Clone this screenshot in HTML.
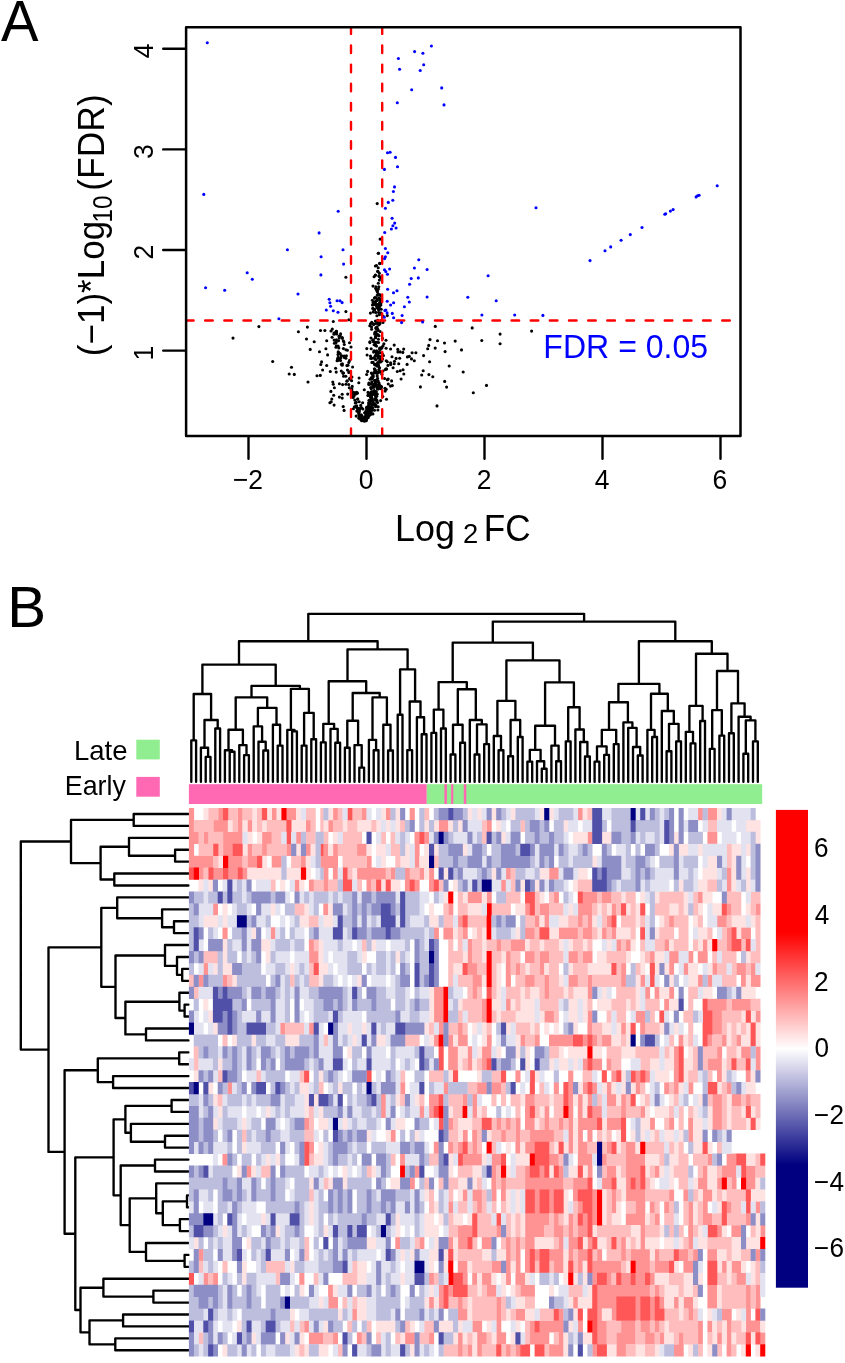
<!DOCTYPE html><html><head><meta charset="utf-8"><style>html,body{margin:0;padding:0;background:#fff;width:845px;height:1363px;overflow:hidden}svg{display:block;filter:blur(0.4px)}</style></head><body><svg width="845" height="1363" viewBox="0 0 845 1363" font-family='"Liberation Sans", sans-serif'><text transform="translate(0.99 40.90) scale(0.9699 1)" font-size="58" fill="#000">A</text><line x1="163.2" y1="350.6" x2="185.1" y2="350.6" stroke="#000" stroke-width="2.4" stroke-linecap="round"/><text transform="translate(153.10 360.53) rotate(-90) scale(0.9700 1)" font-size="27.3" fill="#000">1</text><line x1="163.2" y1="250.0" x2="185.1" y2="250.0" stroke="#000" stroke-width="2.4" stroke-linecap="round"/><text transform="translate(153.10 259.56) rotate(-90) scale(0.9700 1)" font-size="27.3" fill="#000">2</text><line x1="163.2" y1="149.4" x2="185.1" y2="149.4" stroke="#000" stroke-width="2.4" stroke-linecap="round"/><text transform="translate(153.10 158.89) rotate(-90) scale(0.9700 1)" font-size="27.3" fill="#000">3</text><line x1="163.2" y1="48.8" x2="185.1" y2="48.8" stroke="#000" stroke-width="2.4" stroke-linecap="round"/><text transform="translate(153.10 58.28) rotate(-90) scale(0.9700 1)" font-size="27.3" fill="#000">4</text><line x1="248.5" y1="437.1" x2="248.5" y2="458.8" stroke="#000" stroke-width="2.4" stroke-linecap="round"/><text transform="translate(232.92 488.90) scale(0.9700 1)" font-size="27.3" fill="#000">−2</text><line x1="366.5" y1="437.1" x2="366.5" y2="458.8" stroke="#000" stroke-width="2.4" stroke-linecap="round"/><text transform="translate(358.64 488.90) scale(0.9700 1)" font-size="27.3" fill="#000">0</text><line x1="484.5" y1="437.1" x2="484.5" y2="458.8" stroke="#000" stroke-width="2.4" stroke-linecap="round"/><text transform="translate(476.64 488.90) scale(0.9700 1)" font-size="27.3" fill="#000">2</text><line x1="602.5" y1="437.1" x2="602.5" y2="458.8" stroke="#000" stroke-width="2.4" stroke-linecap="round"/><text transform="translate(594.72 488.90) scale(0.9700 1)" font-size="27.3" fill="#000">4</text><line x1="720.5" y1="437.1" x2="720.5" y2="458.8" stroke="#000" stroke-width="2.4" stroke-linecap="round"/><text transform="translate(712.55 488.90) scale(0.9700 1)" font-size="27.3" fill="#000">6</text><text transform="translate(395.06 540.80) scale(0.9696 1)" font-size="37" fill="#000">Log</text><text transform="translate(463.12 542.70) scale(1.0162 1)" font-size="27" fill="#000">2</text><text transform="translate(483.82 540.80) scale(0.9493 1)" font-size="37" fill="#000">FC</text><text transform="translate(104.40 356.17) rotate(-90) scale(0.9466 1)" font-size="37" fill="#000">(−1)*Log</text><text transform="translate(111.70 222.55) rotate(-90) scale(0.8989 1)" font-size="27" fill="#000">10</text><text transform="translate(104.40 190.70) rotate(-90) scale(0.9574 1)" font-size="37" fill="#000">(FDR)</text><g fill="#000"><circle cx="377.2" cy="203.6" r="1.55"/><circle cx="380.1" cy="239.1" r="1.55"/><circle cx="378.3" cy="253.3" r="1.55"/><circle cx="379.8" cy="263.6" r="1.55"/><circle cx="377.8" cy="271.4" r="1.55"/><circle cx="375.4" cy="275.1" r="1.55"/><circle cx="378.9" cy="275.7" r="1.55"/><circle cx="378.3" cy="283.2" r="1.55"/><circle cx="376.0" cy="288.2" r="1.55"/><circle cx="377.2" cy="291.1" r="1.55"/><circle cx="378.5" cy="253.3" r="1.55"/><circle cx="379.7" cy="263.2" r="1.55"/><circle cx="377.8" cy="271.2" r="1.55"/><circle cx="375.3" cy="275.2" r="1.55"/><circle cx="379.2" cy="276.4" r="1.55"/><circle cx="375.9" cy="286.9" r="1.55"/><circle cx="375.9" cy="288.8" r="1.55"/><circle cx="377.3" cy="291.6" r="1.55"/><circle cx="380.0" cy="294.7" r="1.55"/><circle cx="375.0" cy="297.6" r="1.55"/><circle cx="377.3" cy="299.6" r="1.55"/><circle cx="373.1" cy="302.5" r="1.55"/><circle cx="375.4" cy="303.0" r="1.55"/><circle cx="378.3" cy="304.4" r="1.55"/><circle cx="379.2" cy="306.7" r="1.55"/><circle cx="373.1" cy="308.9" r="1.55"/><circle cx="345.9" cy="277.2" r="1.55"/><circle cx="345.9" cy="311.6" r="1.55"/><circle cx="348.8" cy="319.7" r="1.55"/><circle cx="333.3" cy="321.5" r="1.55"/><circle cx="258.9" cy="326.6" r="1.55"/><circle cx="307.4" cy="327.1" r="1.55"/><circle cx="298.4" cy="331.8" r="1.55"/><circle cx="336.2" cy="331.4" r="1.55"/><circle cx="233.0" cy="338.1" r="1.55"/><circle cx="306.5" cy="339.0" r="1.55"/><circle cx="314.2" cy="341.7" r="1.55"/><circle cx="349.5" cy="342.8" r="1.55"/><circle cx="272.7" cy="361.5" r="1.55"/><circle cx="291.5" cy="367.2" r="1.55"/><circle cx="289.2" cy="374.0" r="1.55"/><circle cx="294.3" cy="374.4" r="1.55"/><circle cx="310.2" cy="349.4" r="1.55"/><circle cx="319.5" cy="351.7" r="1.55"/><circle cx="327.6" cy="354.9" r="1.55"/><circle cx="320.8" cy="364.5" r="1.55"/><circle cx="326.7" cy="365.5" r="1.55"/><circle cx="317.0" cy="375.7" r="1.55"/><circle cx="308.0" cy="382.0" r="1.55"/><circle cx="330.3" cy="371.5" r="1.55"/><circle cx="335.6" cy="368.3" r="1.55"/><circle cx="336.2" cy="372.1" r="1.55"/><circle cx="337.5" cy="358.9" r="1.55"/><circle cx="336.5" cy="331.4" r="1.55"/><circle cx="332.8" cy="382.0" r="1.55"/><circle cx="333.3" cy="384.2" r="1.55"/><circle cx="339.4" cy="383.8" r="1.55"/><circle cx="330.9" cy="391.4" r="1.55"/><circle cx="333.7" cy="395.2" r="1.55"/><circle cx="331.8" cy="399.0" r="1.55"/><circle cx="329.9" cy="402.8" r="1.55"/><circle cx="334.1" cy="405.1" r="1.55"/><circle cx="339.4" cy="397.1" r="1.55"/><circle cx="342.2" cy="394.3" r="1.55"/><circle cx="342.2" cy="398.1" r="1.55"/><circle cx="343.2" cy="406.6" r="1.55"/><circle cx="344.1" cy="410.4" r="1.55"/><circle cx="435.3" cy="326.4" r="1.55"/><circle cx="472.2" cy="327.9" r="1.55"/><circle cx="531.6" cy="331.1" r="1.55"/><circle cx="500.1" cy="334.1" r="1.55"/><circle cx="481.8" cy="340.5" r="1.55"/><circle cx="500.1" cy="343.7" r="1.55"/><circle cx="430.0" cy="339.6" r="1.55"/><circle cx="437.5" cy="340.7" r="1.55"/><circle cx="444.5" cy="343.0" r="1.55"/><circle cx="455.2" cy="341.1" r="1.55"/><circle cx="445.1" cy="351.6" r="1.55"/><circle cx="461.5" cy="349.9" r="1.55"/><circle cx="423.6" cy="355.6" r="1.55"/><circle cx="429.6" cy="361.8" r="1.55"/><circle cx="449.2" cy="366.0" r="1.55"/><circle cx="423.2" cy="370.7" r="1.55"/><circle cx="421.7" cy="375.0" r="1.55"/><circle cx="428.9" cy="374.6" r="1.55"/><circle cx="432.8" cy="376.7" r="1.55"/><circle cx="463.2" cy="372.0" r="1.55"/><circle cx="444.7" cy="381.4" r="1.55"/><circle cx="446.6" cy="387.1" r="1.55"/><circle cx="420.4" cy="386.9" r="1.55"/><circle cx="486.5" cy="385.4" r="1.55"/><circle cx="473.3" cy="392.7" r="1.55"/><circle cx="437.0" cy="405.9" r="1.55"/><circle cx="375.8" cy="351.8" r="1.55"/><circle cx="372.5" cy="304.9" r="1.55"/><circle cx="377.2" cy="335.2" r="1.55"/><circle cx="374.7" cy="372.9" r="1.55"/><circle cx="373.7" cy="304.8" r="1.55"/><circle cx="364.6" cy="412.8" r="1.55"/><circle cx="375.3" cy="372.5" r="1.55"/><circle cx="380.8" cy="358.6" r="1.55"/><circle cx="365.0" cy="420.4" r="1.55"/><circle cx="378.8" cy="308.9" r="1.55"/><circle cx="380.1" cy="331.5" r="1.55"/><circle cx="371.9" cy="410.4" r="1.55"/><circle cx="376.3" cy="352.6" r="1.55"/><circle cx="376.9" cy="315.8" r="1.55"/><circle cx="372.8" cy="403.3" r="1.55"/><circle cx="387.3" cy="315.6" r="1.55"/><circle cx="376.7" cy="394.5" r="1.55"/><circle cx="375.1" cy="344.1" r="1.55"/><circle cx="374.7" cy="403.8" r="1.55"/><circle cx="375.6" cy="301.2" r="1.55"/><circle cx="375.7" cy="312.4" r="1.55"/><circle cx="371.9" cy="407.8" r="1.55"/><circle cx="370.7" cy="409.7" r="1.55"/><circle cx="377.4" cy="354.6" r="1.55"/><circle cx="364.0" cy="420.9" r="1.55"/><circle cx="371.0" cy="392.1" r="1.55"/><circle cx="373.3" cy="323.7" r="1.55"/><circle cx="375.7" cy="370.9" r="1.55"/><circle cx="386.0" cy="340.3" r="1.55"/><circle cx="366.3" cy="419.9" r="1.55"/><circle cx="376.8" cy="333.8" r="1.55"/><circle cx="375.9" cy="328.2" r="1.55"/><circle cx="373.9" cy="385.4" r="1.55"/><circle cx="365.5" cy="418.3" r="1.55"/><circle cx="371.9" cy="406.3" r="1.55"/><circle cx="375.8" cy="332.9" r="1.55"/><circle cx="379.0" cy="306.9" r="1.55"/><circle cx="373.1" cy="386.8" r="1.55"/><circle cx="375.9" cy="365.2" r="1.55"/><circle cx="374.6" cy="334.0" r="1.55"/><circle cx="377.2" cy="326.8" r="1.55"/><circle cx="376.4" cy="304.4" r="1.55"/><circle cx="365.7" cy="414.7" r="1.55"/><circle cx="379.7" cy="308.7" r="1.55"/><circle cx="377.8" cy="388.6" r="1.55"/><circle cx="371.8" cy="391.8" r="1.55"/><circle cx="374.3" cy="391.3" r="1.55"/><circle cx="370.0" cy="409.4" r="1.55"/><circle cx="378.5" cy="342.5" r="1.55"/><circle cx="365.6" cy="418.2" r="1.55"/><circle cx="374.5" cy="298.1" r="1.55"/><circle cx="371.4" cy="400.3" r="1.55"/><circle cx="378.0" cy="355.8" r="1.55"/><circle cx="371.0" cy="378.5" r="1.55"/><circle cx="366.2" cy="417.6" r="1.55"/><circle cx="374.9" cy="369.3" r="1.55"/><circle cx="380.9" cy="320.7" r="1.55"/><circle cx="379.9" cy="303.8" r="1.55"/><circle cx="376.6" cy="350.8" r="1.55"/><circle cx="373.1" cy="376.9" r="1.55"/><circle cx="370.2" cy="409.4" r="1.55"/><circle cx="372.4" cy="374.5" r="1.55"/><circle cx="381.2" cy="296.1" r="1.55"/><circle cx="366.7" cy="374.5" r="1.55"/><circle cx="374.8" cy="370.0" r="1.55"/><circle cx="369.7" cy="394.3" r="1.55"/><circle cx="376.9" cy="380.8" r="1.55"/><circle cx="379.0" cy="297.8" r="1.55"/><circle cx="374.9" cy="302.2" r="1.55"/><circle cx="371.3" cy="388.7" r="1.55"/><circle cx="366.5" cy="414.9" r="1.55"/><circle cx="383.3" cy="316.4" r="1.55"/><circle cx="375.6" cy="386.0" r="1.55"/><circle cx="369.9" cy="341.7" r="1.55"/><circle cx="376.5" cy="346.1" r="1.55"/><circle cx="372.7" cy="340.3" r="1.55"/><circle cx="367.9" cy="395.4" r="1.55"/><circle cx="376.9" cy="342.3" r="1.55"/><circle cx="377.3" cy="394.0" r="1.55"/><circle cx="374.2" cy="357.6" r="1.55"/><circle cx="363.7" cy="420.5" r="1.55"/><circle cx="375.4" cy="345.0" r="1.55"/><circle cx="377.3" cy="373.3" r="1.55"/><circle cx="371.5" cy="326.8" r="1.55"/><circle cx="370.7" cy="387.6" r="1.55"/><circle cx="371.7" cy="322.2" r="1.55"/><circle cx="378.0" cy="387.3" r="1.55"/><circle cx="369.9" cy="342.6" r="1.55"/><circle cx="379.9" cy="299.7" r="1.55"/><circle cx="374.5" cy="364.6" r="1.55"/><circle cx="372.6" cy="407.7" r="1.55"/><circle cx="367.6" cy="371.4" r="1.55"/><circle cx="375.1" cy="342.2" r="1.55"/><circle cx="366.6" cy="407.2" r="1.55"/><circle cx="371.6" cy="329.3" r="1.55"/><circle cx="372.0" cy="378.6" r="1.55"/><circle cx="377.0" cy="351.7" r="1.55"/><circle cx="371.0" cy="338.0" r="1.55"/><circle cx="365.9" cy="419.6" r="1.55"/><circle cx="379.7" cy="348.0" r="1.55"/><circle cx="370.2" cy="402.3" r="1.55"/><circle cx="363.5" cy="418.6" r="1.55"/><circle cx="375.4" cy="372.2" r="1.55"/><circle cx="369.3" cy="410.9" r="1.55"/><circle cx="374.6" cy="391.2" r="1.55"/><circle cx="366.2" cy="419.1" r="1.55"/><circle cx="371.3" cy="373.0" r="1.55"/><circle cx="379.6" cy="356.3" r="1.55"/><circle cx="372.0" cy="400.2" r="1.55"/><circle cx="374.5" cy="380.6" r="1.55"/><circle cx="371.6" cy="395.7" r="1.55"/><circle cx="377.6" cy="321.8" r="1.55"/><circle cx="379.2" cy="384.5" r="1.55"/><circle cx="367.7" cy="414.4" r="1.55"/><circle cx="373.2" cy="362.4" r="1.55"/><circle cx="379.7" cy="302.5" r="1.55"/><circle cx="370.5" cy="323.7" r="1.55"/><circle cx="379.6" cy="349.1" r="1.55"/><circle cx="377.3" cy="385.0" r="1.55"/><circle cx="380.0" cy="359.9" r="1.55"/><circle cx="380.3" cy="302.6" r="1.55"/><circle cx="373.2" cy="387.2" r="1.55"/><circle cx="378.6" cy="312.4" r="1.55"/><circle cx="376.0" cy="359.7" r="1.55"/><circle cx="379.5" cy="352.9" r="1.55"/><circle cx="380.9" cy="312.7" r="1.55"/><circle cx="372.0" cy="384.2" r="1.55"/><circle cx="374.1" cy="394.2" r="1.55"/><circle cx="372.4" cy="300.3" r="1.55"/><circle cx="381.2" cy="309.3" r="1.55"/><circle cx="375.4" cy="355.6" r="1.55"/><circle cx="386.1" cy="368.9" r="1.55"/><circle cx="370.1" cy="379.3" r="1.55"/><circle cx="385.3" cy="369.5" r="1.55"/><circle cx="371.5" cy="394.8" r="1.55"/><circle cx="376.4" cy="352.0" r="1.55"/><circle cx="373.2" cy="375.8" r="1.55"/><circle cx="383.0" cy="322.4" r="1.55"/><circle cx="363.6" cy="420.4" r="1.55"/><circle cx="376.5" cy="306.0" r="1.55"/><circle cx="376.6" cy="329.1" r="1.55"/><circle cx="371.1" cy="408.9" r="1.55"/><circle cx="376.1" cy="297.7" r="1.55"/><circle cx="380.2" cy="371.8" r="1.55"/><circle cx="371.2" cy="348.8" r="1.55"/><circle cx="366.1" cy="412.3" r="1.55"/><circle cx="375.0" cy="332.2" r="1.55"/><circle cx="378.0" cy="389.0" r="1.55"/><circle cx="369.9" cy="393.6" r="1.55"/><circle cx="373.5" cy="386.0" r="1.55"/><circle cx="375.6" cy="334.5" r="1.55"/><circle cx="371.9" cy="398.6" r="1.55"/><circle cx="381.9" cy="374.2" r="1.55"/><circle cx="371.9" cy="362.4" r="1.55"/><circle cx="365.0" cy="420.4" r="1.55"/><circle cx="372.1" cy="358.3" r="1.55"/><circle cx="373.4" cy="339.8" r="1.55"/><circle cx="374.7" cy="309.6" r="1.55"/><circle cx="368.9" cy="383.0" r="1.55"/><circle cx="374.0" cy="404.6" r="1.55"/><circle cx="373.8" cy="393.7" r="1.55"/><circle cx="375.4" cy="321.0" r="1.55"/><circle cx="373.5" cy="341.7" r="1.55"/><circle cx="377.8" cy="329.3" r="1.55"/><circle cx="378.6" cy="309.8" r="1.55"/><circle cx="379.3" cy="361.9" r="1.55"/><circle cx="374.4" cy="368.7" r="1.55"/><circle cx="378.0" cy="356.9" r="1.55"/><circle cx="379.1" cy="324.7" r="1.55"/><circle cx="377.8" cy="323.5" r="1.55"/><circle cx="376.1" cy="327.6" r="1.55"/><circle cx="375.6" cy="337.7" r="1.55"/><circle cx="380.9" cy="299.3" r="1.55"/><circle cx="365.6" cy="418.1" r="1.55"/><circle cx="377.7" cy="320.2" r="1.55"/><circle cx="380.5" cy="303.4" r="1.55"/><circle cx="378.4" cy="339.2" r="1.55"/><circle cx="378.4" cy="308.7" r="1.55"/><circle cx="367.6" cy="409.4" r="1.55"/><circle cx="368.3" cy="408.2" r="1.55"/><circle cx="377.9" cy="351.9" r="1.55"/><circle cx="374.9" cy="383.8" r="1.55"/><circle cx="368.5" cy="416.3" r="1.55"/><circle cx="378.2" cy="334.9" r="1.55"/><circle cx="379.4" cy="314.7" r="1.55"/><circle cx="376.2" cy="391.6" r="1.55"/><circle cx="367.1" cy="355.0" r="1.55"/><circle cx="374.9" cy="384.4" r="1.55"/><circle cx="365.6" cy="417.6" r="1.55"/><circle cx="374.1" cy="350.7" r="1.55"/><circle cx="379.6" cy="367.7" r="1.55"/><circle cx="373.6" cy="352.1" r="1.55"/><circle cx="370.5" cy="397.4" r="1.55"/><circle cx="375.5" cy="333.7" r="1.55"/><circle cx="377.4" cy="366.2" r="1.55"/><circle cx="376.3" cy="384.8" r="1.55"/><circle cx="379.0" cy="335.7" r="1.55"/><circle cx="381.6" cy="347.3" r="1.55"/><circle cx="366.5" cy="415.2" r="1.55"/><circle cx="367.5" cy="411.7" r="1.55"/><circle cx="376.6" cy="355.8" r="1.55"/><circle cx="383.0" cy="371.0" r="1.55"/><circle cx="374.1" cy="390.5" r="1.55"/><circle cx="375.5" cy="337.4" r="1.55"/><circle cx="368.1" cy="417.8" r="1.55"/><circle cx="383.9" cy="343.7" r="1.55"/><circle cx="376.7" cy="401.8" r="1.55"/><circle cx="383.0" cy="345.9" r="1.55"/><circle cx="380.0" cy="323.4" r="1.55"/><circle cx="377.9" cy="386.8" r="1.55"/><circle cx="370.1" cy="400.5" r="1.55"/><circle cx="378.2" cy="387.5" r="1.55"/><circle cx="379.0" cy="383.0" r="1.55"/><circle cx="381.6" cy="348.3" r="1.55"/><circle cx="369.8" cy="325.8" r="1.55"/><circle cx="378.6" cy="366.1" r="1.55"/><circle cx="370.5" cy="356.0" r="1.55"/><circle cx="371.8" cy="381.8" r="1.55"/><circle cx="368.4" cy="414.2" r="1.55"/><circle cx="365.6" cy="418.8" r="1.55"/><circle cx="370.4" cy="313.1" r="1.55"/><circle cx="364.8" cy="421.0" r="1.55"/><circle cx="379.2" cy="372.3" r="1.55"/><circle cx="371.5" cy="377.6" r="1.55"/><circle cx="376.9" cy="372.9" r="1.55"/><circle cx="370.3" cy="408.4" r="1.55"/><circle cx="368.8" cy="384.4" r="1.55"/><circle cx="372.2" cy="409.1" r="1.55"/><circle cx="372.0" cy="398.5" r="1.55"/><circle cx="374.8" cy="394.7" r="1.55"/><circle cx="371.2" cy="400.5" r="1.55"/><circle cx="376.9" cy="307.7" r="1.55"/><circle cx="379.3" cy="385.1" r="1.55"/><circle cx="374.1" cy="344.7" r="1.55"/><circle cx="377.0" cy="372.1" r="1.55"/><circle cx="375.6" cy="345.4" r="1.55"/><circle cx="370.9" cy="394.3" r="1.55"/><circle cx="366.6" cy="408.0" r="1.55"/><circle cx="372.9" cy="404.2" r="1.55"/><circle cx="366.8" cy="415.8" r="1.55"/><circle cx="378.2" cy="381.1" r="1.55"/><circle cx="373.1" cy="391.9" r="1.55"/><circle cx="373.9" cy="372.6" r="1.55"/><circle cx="382.4" cy="338.4" r="1.55"/><circle cx="370.0" cy="408.0" r="1.55"/><circle cx="380.6" cy="305.2" r="1.55"/><circle cx="366.8" cy="348.6" r="1.55"/><circle cx="366.2" cy="420.8" r="1.55"/><circle cx="366.3" cy="417.2" r="1.55"/><circle cx="364.0" cy="418.4" r="1.55"/><circle cx="380.5" cy="362.0" r="1.55"/><circle cx="373.9" cy="387.3" r="1.55"/><circle cx="370.6" cy="414.5" r="1.55"/><circle cx="378.9" cy="369.6" r="1.55"/><circle cx="378.7" cy="306.0" r="1.55"/><circle cx="366.1" cy="418.0" r="1.55"/><circle cx="377.3" cy="381.6" r="1.55"/><circle cx="375.7" cy="380.3" r="1.55"/><circle cx="374.3" cy="392.6" r="1.55"/><circle cx="377.2" cy="300.4" r="1.55"/><circle cx="368.1" cy="406.4" r="1.55"/><circle cx="375.5" cy="364.3" r="1.55"/><circle cx="366.5" cy="415.3" r="1.55"/><circle cx="377.5" cy="362.9" r="1.55"/><circle cx="372.8" cy="308.2" r="1.55"/><circle cx="368.6" cy="402.8" r="1.55"/><circle cx="363.2" cy="420.2" r="1.55"/><circle cx="374.9" cy="358.9" r="1.55"/><circle cx="370.3" cy="384.1" r="1.55"/><circle cx="374.0" cy="309.4" r="1.55"/><circle cx="368.0" cy="392.4" r="1.55"/><circle cx="373.2" cy="401.7" r="1.55"/><circle cx="367.6" cy="412.6" r="1.55"/><circle cx="378.0" cy="330.5" r="1.55"/><circle cx="375.8" cy="323.5" r="1.55"/><circle cx="367.6" cy="415.5" r="1.55"/><circle cx="374.6" cy="399.5" r="1.55"/><circle cx="378.1" cy="358.1" r="1.55"/><circle cx="376.0" cy="399.4" r="1.55"/><circle cx="366.6" cy="418.2" r="1.55"/><circle cx="370.6" cy="404.3" r="1.55"/><circle cx="369.0" cy="414.1" r="1.55"/><circle cx="372.3" cy="378.7" r="1.55"/><circle cx="381.8" cy="361.0" r="1.55"/><circle cx="373.2" cy="312.0" r="1.55"/><circle cx="370.7" cy="358.4" r="1.55"/><circle cx="377.2" cy="375.9" r="1.55"/><circle cx="373.6" cy="303.0" r="1.55"/><circle cx="375.5" cy="336.9" r="1.55"/><circle cx="373.7" cy="324.6" r="1.55"/><circle cx="375.4" cy="383.4" r="1.55"/><circle cx="370.6" cy="407.4" r="1.55"/><circle cx="371.5" cy="397.5" r="1.55"/><circle cx="364.9" cy="417.0" r="1.55"/><circle cx="375.6" cy="331.7" r="1.55"/><circle cx="365.6" cy="418.0" r="1.55"/><circle cx="366.0" cy="411.2" r="1.55"/><circle cx="380.8" cy="303.9" r="1.55"/><circle cx="376.6" cy="353.3" r="1.55"/><circle cx="378.0" cy="385.9" r="1.55"/><circle cx="379.4" cy="273.2" r="1.55"/><circle cx="377.2" cy="290.1" r="1.55"/><circle cx="378.8" cy="286.7" r="1.55"/><circle cx="378.2" cy="267.8" r="1.55"/><circle cx="373.0" cy="286.1" r="1.55"/><circle cx="378.4" cy="289.0" r="1.55"/><circle cx="375.4" cy="266.0" r="1.55"/><circle cx="380.6" cy="277.7" r="1.55"/><circle cx="374.1" cy="276.8" r="1.55"/><circle cx="378.1" cy="293.8" r="1.55"/><circle cx="379.4" cy="280.1" r="1.55"/><circle cx="376.5" cy="265.5" r="1.55"/><circle cx="376.5" cy="289.7" r="1.55"/><circle cx="377.3" cy="295.3" r="1.55"/><circle cx="361.1" cy="419.7" r="1.55"/><circle cx="336.1" cy="342.4" r="1.55"/><circle cx="353.3" cy="392.4" r="1.55"/><circle cx="360.3" cy="408.6" r="1.55"/><circle cx="343.6" cy="376.2" r="1.55"/><circle cx="360.7" cy="405.4" r="1.55"/><circle cx="354.0" cy="396.1" r="1.55"/><circle cx="351.0" cy="347.0" r="1.55"/><circle cx="336.3" cy="345.9" r="1.55"/><circle cx="358.6" cy="412.9" r="1.55"/><circle cx="338.8" cy="347.9" r="1.55"/><circle cx="359.3" cy="411.0" r="1.55"/><circle cx="360.3" cy="415.9" r="1.55"/><circle cx="353.4" cy="408.7" r="1.55"/><circle cx="338.3" cy="351.7" r="1.55"/><circle cx="344.3" cy="344.5" r="1.55"/><circle cx="347.5" cy="370.1" r="1.55"/><circle cx="361.7" cy="420.7" r="1.55"/><circle cx="346.9" cy="381.2" r="1.55"/><circle cx="351.4" cy="392.7" r="1.55"/><circle cx="357.7" cy="399.1" r="1.55"/><circle cx="353.5" cy="393.3" r="1.55"/><circle cx="348.7" cy="384.6" r="1.55"/><circle cx="331.0" cy="331.0" r="1.55"/><circle cx="345.9" cy="349.7" r="1.55"/><circle cx="342.2" cy="365.2" r="1.55"/><circle cx="349.6" cy="378.7" r="1.55"/><circle cx="343.4" cy="373.1" r="1.55"/><circle cx="341.5" cy="364.2" r="1.55"/><circle cx="361.4" cy="417.2" r="1.55"/><circle cx="360.0" cy="416.6" r="1.55"/><circle cx="346.4" cy="355.8" r="1.55"/><circle cx="340.5" cy="360.6" r="1.55"/><circle cx="362.6" cy="402.7" r="1.55"/><circle cx="349.6" cy="360.4" r="1.55"/><circle cx="348.0" cy="365.2" r="1.55"/><circle cx="340.6" cy="333.9" r="1.55"/><circle cx="336.0" cy="347.2" r="1.55"/><circle cx="340.8" cy="358.0" r="1.55"/><circle cx="347.2" cy="380.7" r="1.55"/><circle cx="338.5" cy="340.8" r="1.55"/><circle cx="359.1" cy="378.0" r="1.55"/><circle cx="356.4" cy="392.3" r="1.55"/><circle cx="359.0" cy="410.4" r="1.55"/><circle cx="352.6" cy="367.0" r="1.55"/><circle cx="341.3" cy="371.0" r="1.55"/><circle cx="357.3" cy="392.9" r="1.55"/><circle cx="351.9" cy="377.1" r="1.55"/><circle cx="337.8" cy="360.5" r="1.55"/><circle cx="361.7" cy="407.7" r="1.55"/><circle cx="354.8" cy="400.1" r="1.55"/><circle cx="343.3" cy="340.7" r="1.55"/><circle cx="356.8" cy="411.1" r="1.55"/><circle cx="354.4" cy="406.8" r="1.55"/><circle cx="359.2" cy="418.1" r="1.55"/><circle cx="335.3" cy="342.7" r="1.55"/><circle cx="339.6" cy="359.1" r="1.55"/><circle cx="350.7" cy="379.5" r="1.55"/><circle cx="336.4" cy="339.8" r="1.55"/><circle cx="349.8" cy="371.9" r="1.55"/><circle cx="335.8" cy="332.8" r="1.55"/><circle cx="361.1" cy="414.8" r="1.55"/><circle cx="345.8" cy="376.2" r="1.55"/><circle cx="357.8" cy="409.4" r="1.55"/><circle cx="343.3" cy="373.0" r="1.55"/><circle cx="338.3" cy="359.0" r="1.55"/><circle cx="359.0" cy="418.2" r="1.55"/><circle cx="336.5" cy="333.9" r="1.55"/><circle cx="357.7" cy="399.0" r="1.55"/><circle cx="332.1" cy="337.3" r="1.55"/><circle cx="355.9" cy="406.4" r="1.55"/><circle cx="342.6" cy="384.6" r="1.55"/><circle cx="361.4" cy="415.8" r="1.55"/><circle cx="362.2" cy="416.3" r="1.55"/><circle cx="359.0" cy="412.3" r="1.55"/><circle cx="341.0" cy="355.9" r="1.55"/><circle cx="345.9" cy="358.3" r="1.55"/><circle cx="337.1" cy="360.7" r="1.55"/><circle cx="342.2" cy="337.6" r="1.55"/><circle cx="334.0" cy="333.0" r="1.55"/><circle cx="361.5" cy="415.6" r="1.55"/><circle cx="358.7" cy="408.2" r="1.55"/><circle cx="347.7" cy="394.1" r="1.55"/><circle cx="344.3" cy="357.5" r="1.55"/><circle cx="359.7" cy="416.9" r="1.55"/><circle cx="355.8" cy="394.0" r="1.55"/><circle cx="359.1" cy="414.7" r="1.55"/><circle cx="342.4" cy="363.8" r="1.55"/><circle cx="358.8" cy="382.8" r="1.55"/><circle cx="360.8" cy="417.6" r="1.55"/><circle cx="341.6" cy="355.7" r="1.55"/><circle cx="359.1" cy="414.7" r="1.55"/><circle cx="345.9" cy="384.3" r="1.55"/><circle cx="342.2" cy="338.3" r="1.55"/><circle cx="351.8" cy="393.4" r="1.55"/><circle cx="348.8" cy="362.4" r="1.55"/><circle cx="338.3" cy="352.6" r="1.55"/><circle cx="353.0" cy="397.4" r="1.55"/><circle cx="338.1" cy="346.1" r="1.55"/><circle cx="351.5" cy="389.8" r="1.55"/><circle cx="356.7" cy="405.7" r="1.55"/><circle cx="355.3" cy="403.0" r="1.55"/><circle cx="356.2" cy="416.1" r="1.55"/><circle cx="349.9" cy="378.3" r="1.55"/><circle cx="354.3" cy="393.0" r="1.55"/><circle cx="353.1" cy="395.7" r="1.55"/><circle cx="347.4" cy="350.2" r="1.55"/><circle cx="353.8" cy="395.3" r="1.55"/><circle cx="362.8" cy="420.5" r="1.55"/><circle cx="357.1" cy="393.3" r="1.55"/><circle cx="351.6" cy="380.7" r="1.55"/><circle cx="336.1" cy="331.9" r="1.55"/><circle cx="349.3" cy="387.8" r="1.55"/><circle cx="356.3" cy="402.3" r="1.55"/><circle cx="334.0" cy="334.2" r="1.55"/><circle cx="360.5" cy="418.7" r="1.55"/><circle cx="353.3" cy="392.4" r="1.55"/><circle cx="342.8" cy="373.1" r="1.55"/><circle cx="334.1" cy="340.1" r="1.55"/><circle cx="360.9" cy="419.6" r="1.55"/><circle cx="362.9" cy="420.1" r="1.55"/><circle cx="334.4" cy="343.2" r="1.55"/><circle cx="343.4" cy="348.6" r="1.55"/><circle cx="332.3" cy="329.1" r="1.55"/><circle cx="344.1" cy="356.1" r="1.55"/><circle cx="340.1" cy="353.5" r="1.55"/><circle cx="364.3" cy="389.7" r="1.55"/><circle cx="356.5" cy="407.4" r="1.55"/><circle cx="351.1" cy="389.8" r="1.55"/><circle cx="359.2" cy="401.7" r="1.55"/><circle cx="346.9" cy="365.6" r="1.55"/><circle cx="352.2" cy="386.4" r="1.55"/><circle cx="359.1" cy="417.5" r="1.55"/><circle cx="343.9" cy="342.0" r="1.55"/><circle cx="362.9" cy="409.0" r="1.55"/><circle cx="336.5" cy="333.5" r="1.55"/><circle cx="348.8" cy="372.5" r="1.55"/><circle cx="339.2" cy="338.1" r="1.55"/><circle cx="338.9" cy="336.1" r="1.55"/><circle cx="351.9" cy="389.1" r="1.55"/><circle cx="380.6" cy="400.6" r="1.55"/><circle cx="376.1" cy="405.4" r="1.55"/><circle cx="367.8" cy="408.4" r="1.55"/><circle cx="377.2" cy="388.4" r="1.55"/><circle cx="377.6" cy="402.5" r="1.55"/><circle cx="378.2" cy="364.3" r="1.55"/><circle cx="369.1" cy="415.8" r="1.55"/><circle cx="403.8" cy="374.0" r="1.55"/><circle cx="369.2" cy="413.4" r="1.55"/><circle cx="375.7" cy="392.2" r="1.55"/><circle cx="381.1" cy="386.3" r="1.55"/><circle cx="435.2" cy="348.1" r="1.55"/><circle cx="380.2" cy="349.4" r="1.55"/><circle cx="384.6" cy="378.5" r="1.55"/><circle cx="401.1" cy="379.0" r="1.55"/><circle cx="388.3" cy="384.0" r="1.55"/><circle cx="367.7" cy="412.7" r="1.55"/><circle cx="390.6" cy="349.0" r="1.55"/><circle cx="386.2" cy="360.7" r="1.55"/><circle cx="385.2" cy="391.1" r="1.55"/><circle cx="397.9" cy="352.0" r="1.55"/><circle cx="368.9" cy="404.3" r="1.55"/><circle cx="368.2" cy="412.5" r="1.55"/><circle cx="379.7" cy="352.6" r="1.55"/><circle cx="398.7" cy="363.8" r="1.55"/><circle cx="386.1" cy="348.2" r="1.55"/><circle cx="366.4" cy="410.4" r="1.55"/><circle cx="415.9" cy="352.7" r="1.55"/><circle cx="382.3" cy="353.7" r="1.55"/><circle cx="371.1" cy="393.5" r="1.55"/><circle cx="400.1" cy="351.9" r="1.55"/><circle cx="386.5" cy="399.2" r="1.55"/><circle cx="370.7" cy="393.4" r="1.55"/><circle cx="381.2" cy="371.9" r="1.55"/><circle cx="387.9" cy="365.4" r="1.55"/><circle cx="369.0" cy="406.5" r="1.55"/><circle cx="403.7" cy="349.1" r="1.55"/><circle cx="414.3" cy="360.8" r="1.55"/><circle cx="375.8" cy="397.7" r="1.55"/><circle cx="397.3" cy="371.5" r="1.55"/><circle cx="390.6" cy="362.7" r="1.55"/><circle cx="407.4" cy="356.9" r="1.55"/><circle cx="385.0" cy="388.3" r="1.55"/><circle cx="378.8" cy="388.5" r="1.55"/><circle cx="390.7" cy="364.6" r="1.55"/><circle cx="375.6" cy="394.5" r="1.55"/><circle cx="402.8" cy="352.4" r="1.55"/><circle cx="369.0" cy="400.3" r="1.55"/><circle cx="375.6" cy="406.8" r="1.55"/><circle cx="375.0" cy="382.9" r="1.55"/><circle cx="377.6" cy="378.4" r="1.55"/><circle cx="374.0" cy="384.3" r="1.55"/><circle cx="372.9" cy="386.3" r="1.55"/><circle cx="386.2" cy="389.2" r="1.55"/><circle cx="399.7" cy="358.3" r="1.55"/><circle cx="397.8" cy="349.4" r="1.55"/><circle cx="388.2" cy="379.1" r="1.55"/><circle cx="376.7" cy="396.2" r="1.55"/><circle cx="369.3" cy="404.1" r="1.55"/><circle cx="377.9" cy="410.0" r="1.55"/><circle cx="369.0" cy="407.2" r="1.55"/><circle cx="378.2" cy="406.8" r="1.55"/><circle cx="376.9" cy="400.2" r="1.55"/><circle cx="374.5" cy="410.2" r="1.55"/><circle cx="393.1" cy="367.8" r="1.55"/><circle cx="375.7" cy="396.4" r="1.55"/><circle cx="381.6" cy="387.1" r="1.55"/><circle cx="403.0" cy="369.7" r="1.55"/><circle cx="394.2" cy="345.1" r="1.55"/><circle cx="392.3" cy="385.6" r="1.55"/><circle cx="394.5" cy="361.2" r="1.55"/><circle cx="382.6" cy="359.0" r="1.55"/><circle cx="411.5" cy="358.9" r="1.55"/><circle cx="387.3" cy="379.7" r="1.55"/><circle cx="427.7" cy="348.8" r="1.55"/><circle cx="386.6" cy="369.0" r="1.55"/><circle cx="369.6" cy="395.5" r="1.55"/><circle cx="394.2" cy="363.7" r="1.55"/><circle cx="387.3" cy="361.7" r="1.55"/><circle cx="390.5" cy="386.1" r="1.55"/><circle cx="383.4" cy="355.6" r="1.55"/><circle cx="378.8" cy="361.9" r="1.55"/><circle cx="396.1" cy="358.4" r="1.55"/><circle cx="409.3" cy="356.4" r="1.55"/><circle cx="400.2" cy="370.7" r="1.55"/><circle cx="372.9" cy="413.9" r="1.55"/><circle cx="370.9" cy="412.5" r="1.55"/><circle cx="371.0" cy="410.0" r="1.55"/><circle cx="382.8" cy="396.6" r="1.55"/><circle cx="428.7" cy="345.4" r="1.55"/><circle cx="380.9" cy="388.8" r="1.55"/><circle cx="391.6" cy="380.9" r="1.55"/><circle cx="407.1" cy="364.4" r="1.55"/><circle cx="392.0" cy="356.7" r="1.55"/><circle cx="412.1" cy="352.7" r="1.55"/><circle cx="325.9" cy="348.8" r="1.55"/><circle cx="334.4" cy="387.7" r="1.55"/><circle cx="322.6" cy="370.0" r="1.55"/><circle cx="338.2" cy="357.4" r="1.55"/><circle cx="320.3" cy="375.4" r="1.55"/><circle cx="326.7" cy="340.8" r="1.55"/><circle cx="324.9" cy="330.5" r="1.55"/><circle cx="321.6" cy="361.9" r="1.55"/><circle cx="320.5" cy="330.5" r="1.55"/><circle cx="331.2" cy="401.8" r="1.55"/><circle cx="338.0" cy="354.5" r="1.55"/><circle cx="340.2" cy="336.0" r="1.55"/></g><defs><clipPath id="pc"><rect x="186.1" y="27.3" width="554.4" height="408.8"/></clipPath></defs><g clip-path="url(#pc)"><line x1="351.0" y1="26.3" x2="351.0" y2="437" stroke="#f00" stroke-width="2.4" stroke-dasharray="7.6 11.55" stroke-linecap="round"/><line x1="382.2" y1="26.3" x2="382.2" y2="437" stroke="#f00" stroke-width="2.4" stroke-dasharray="7.6 11.55" stroke-linecap="round"/><line x1="186.0" y1="320.5" x2="741" y2="320.5" stroke="#f00" stroke-width="2.4" stroke-dasharray="7.6 11.55" stroke-linecap="round"/></g><g fill="#00f"><circle cx="207.3" cy="42.7" r="1.55"/><circle cx="431.4" cy="46.0" r="1.55"/><circle cx="414.6" cy="51.6" r="1.55"/><circle cx="422.9" cy="53.3" r="1.55"/><circle cx="398.4" cy="58.5" r="1.55"/><circle cx="423.7" cy="64.8" r="1.55"/><circle cx="399.6" cy="69.3" r="1.55"/><circle cx="420.2" cy="70.5" r="1.55"/><circle cx="411.7" cy="89.8" r="1.55"/><circle cx="441.7" cy="87.9" r="1.55"/><circle cx="397.3" cy="102.7" r="1.55"/><circle cx="444.0" cy="104.9" r="1.55"/><circle cx="387.5" cy="152.7" r="1.55"/><circle cx="390.1" cy="152.2" r="1.55"/><circle cx="395.5" cy="157.4" r="1.55"/><circle cx="397.5" cy="166.7" r="1.55"/><circle cx="384.4" cy="169.4" r="1.55"/><circle cx="394.5" cy="186.9" r="1.55"/><circle cx="393.4" cy="191.5" r="1.55"/><circle cx="392.8" cy="200.2" r="1.55"/><circle cx="388.3" cy="202.4" r="1.55"/><circle cx="385.4" cy="208.2" r="1.55"/><circle cx="392.1" cy="218.2" r="1.55"/><circle cx="394.7" cy="223.1" r="1.55"/><circle cx="392.9" cy="225.8" r="1.55"/><circle cx="396.1" cy="228.0" r="1.55"/><circle cx="391.4" cy="229.0" r="1.55"/><circle cx="384.7" cy="232.5" r="1.55"/><circle cx="385.4" cy="248.5" r="1.55"/><circle cx="387.8" cy="252.7" r="1.55"/><circle cx="385.4" cy="256.8" r="1.55"/><circle cx="384.6" cy="258.6" r="1.55"/><circle cx="418.8" cy="259.8" r="1.55"/><circle cx="414.4" cy="268.0" r="1.55"/><circle cx="427.1" cy="269.5" r="1.55"/><circle cx="384.5" cy="269.8" r="1.55"/><circle cx="385.8" cy="271.6" r="1.55"/><circle cx="389.6" cy="269.0" r="1.55"/><circle cx="387.5" cy="274.2" r="1.55"/><circle cx="411.2" cy="278.5" r="1.55"/><circle cx="418.3" cy="277.9" r="1.55"/><circle cx="409.6" cy="284.3" r="1.55"/><circle cx="387.6" cy="289.3" r="1.55"/><circle cx="393.5" cy="292.7" r="1.55"/><circle cx="397.0" cy="290.8" r="1.55"/><circle cx="407.8" cy="297.3" r="1.55"/><circle cx="427.1" cy="297.0" r="1.55"/><circle cx="409.3" cy="302.0" r="1.55"/><circle cx="387.2" cy="301.3" r="1.55"/><circle cx="393.6" cy="302.7" r="1.55"/><circle cx="390.6" cy="305.0" r="1.55"/><circle cx="404.4" cy="306.7" r="1.55"/><circle cx="384.9" cy="310.5" r="1.55"/><circle cx="385.9" cy="310.1" r="1.55"/><circle cx="387.1" cy="312.9" r="1.55"/><circle cx="392.3" cy="313.4" r="1.55"/><circle cx="402.1" cy="315.5" r="1.55"/><circle cx="393.6" cy="317.8" r="1.55"/><circle cx="384.4" cy="317.2" r="1.55"/><circle cx="203.8" cy="194.4" r="1.55"/><circle cx="338.2" cy="211.3" r="1.55"/><circle cx="319.1" cy="232.9" r="1.55"/><circle cx="287.4" cy="249.7" r="1.55"/><circle cx="343.0" cy="249.7" r="1.55"/><circle cx="321.1" cy="256.7" r="1.55"/><circle cx="343.6" cy="264.1" r="1.55"/><circle cx="247.2" cy="272.7" r="1.55"/><circle cx="252.3" cy="279.2" r="1.55"/><circle cx="320.9" cy="274.9" r="1.55"/><circle cx="205.6" cy="287.7" r="1.55"/><circle cx="224.7" cy="290.2" r="1.55"/><circle cx="298.0" cy="294.0" r="1.55"/><circle cx="329.2" cy="299.2" r="1.55"/><circle cx="329.9" cy="302.8" r="1.55"/><circle cx="330.6" cy="306.2" r="1.55"/><circle cx="337.1" cy="300.8" r="1.55"/><circle cx="340.0" cy="300.8" r="1.55"/><circle cx="342.1" cy="302.6" r="1.55"/><circle cx="326.3" cy="310.0" r="1.55"/><circle cx="333.3" cy="310.7" r="1.55"/><circle cx="338.0" cy="312.2" r="1.55"/><circle cx="278.9" cy="318.8" r="1.55"/><circle cx="590.0" cy="260.6" r="1.55"/><circle cx="605.0" cy="250.8" r="1.55"/><circle cx="610.7" cy="246.9" r="1.55"/><circle cx="621.1" cy="240.3" r="1.55"/><circle cx="630.3" cy="234.6" r="1.55"/><circle cx="642.0" cy="227.5" r="1.55"/><circle cx="664.8" cy="214.3" r="1.55"/><circle cx="665.7" cy="213.7" r="1.55"/><circle cx="670.4" cy="211.1" r="1.55"/><circle cx="673.1" cy="209.6" r="1.55"/><circle cx="696.1" cy="196.9" r="1.55"/><circle cx="697.6" cy="195.8" r="1.55"/><circle cx="699.1" cy="195.2" r="1.55"/><circle cx="717.2" cy="185.8" r="1.55"/><circle cx="536.0" cy="207.8" r="1.55"/><circle cx="488.1" cy="275.8" r="1.55"/><circle cx="467.8" cy="297.3" r="1.55"/><circle cx="496.2" cy="300.7" r="1.55"/><circle cx="481.9" cy="315.0" r="1.55"/><circle cx="514.7" cy="315.0" r="1.55"/><circle cx="542.9" cy="315.4" r="1.55"/><circle cx="422.6" cy="322.0" r="1.55"/><circle cx="401.6" cy="322.6" r="1.55"/></g><rect x="186.1" y="27.3" width="554.4" height="408.8" fill="none" stroke="#000" stroke-width="2.5" stroke-linejoin="round"/><text transform="translate(543.37 357.50) scale(0.9778 1)" font-size="32.8" fill="#00f">FDR = 0.05</text><text transform="translate(7.32 626.80) scale(1.0042 1)" font-size="58" fill="#000">B</text><path d="M191.3 781.8V740.3H196.1V781.8M205.7 781.8V756.9H210.5V781.8M200.9 781.8V747.7H208.1V756.9M215.3 781.8V728.5H220.1V781.8M204.5 747.7V720.0H217.7V728.5M193.7 740.3V694.0H211.1V720.0M229.7 781.8V751.7H234.5V781.8M224.9 781.8V750.2H232.1V751.7M244.1 781.8V755.1H248.9V781.8M239.3 781.8V745.1H246.5V755.1M228.5 750.2V729.7H242.9V745.1M263.3 781.8V750.5H268.1V781.8M258.5 781.8V741.7H265.7V750.5M253.7 781.8V726.4H262.1V741.7M277.7 781.8V745.6H282.5V781.8M272.9 781.8V724.7H280.1V745.6M257.9 726.4V707.9H276.5V724.7M235.7 729.7V697.4H267.2V707.9M292.1 781.8V731.4H296.9V781.8M287.3 781.8V729.9H294.5V731.4M301.7 781.8V745.6H306.5V781.8M311.3 781.8V739.2H316.1V781.8M304.1 745.6V712.9H313.7V739.2M290.9 729.9V688.8H308.9V712.9M251.5 697.4V685.9H299.9V688.8M202.4 694.0V664.6H275.7V685.9M320.9 781.8V742.3H325.7V781.8M335.3 781.8V742.7H340.1V781.8M330.5 781.8V728.9H337.7V742.7M323.3 742.3V723.8H334.1V728.9M344.9 781.8V747.7H349.7V781.8M359.3 781.8V767.6H364.1V781.8M354.5 781.8V745.1H361.7V767.6M347.3 747.7V720.7H358.1V745.1M373.7 781.8V750.2H378.5V781.8M368.9 781.8V739.9H376.1V750.2M388.1 781.8V750.5H392.9V781.8M383.3 781.8V724.7H390.5V750.5M372.5 739.9V697.3H386.9V724.7M352.7 720.7V693.0H379.7V697.3M328.7 723.8V681.2H366.2V693.0M397.7 781.8V714.7H402.5V781.8M407.3 781.8V750.1H412.1V781.8M421.7 781.8V734.2H426.5V781.8M416.9 781.8V717.2H424.1V734.2M409.7 750.1V701.5H420.5V717.2M400.1 714.7V669.3H415.1V701.5M347.5 681.2V649.4H407.6V669.3M239.0 664.6V641.2H377.6V649.4M431.4 781.8V732.8H436.2V781.8M441.0 781.8V728.5H445.8V781.8M433.8 732.8V709.6H443.4V728.5M450.6 781.8V754.5H455.4V781.8M460.2 781.8V742.7H465.0V781.8M453.0 754.5V724.7H462.6V742.7M474.6 781.8V754.5H479.4V781.8M484.2 781.8V744.1H489.0V781.8M477.0 754.5V724.3H486.6V744.1M469.8 781.8V720.0H481.8V724.3M457.8 724.7V689.2H475.8V720.0M438.6 709.6V682.1H466.8V689.2M498.6 781.8V750.2H503.4V781.8M493.8 781.8V736.0H501.0V750.2M508.2 781.8V756.2H513.0V781.8M517.8 781.8V737.0H522.6V781.8M510.6 756.2V720.0H520.2V737.0M497.4 736.0V700.8H515.4V720.0M527.4 781.8V761.6H532.2V781.8M541.8 781.8V768.7H546.6V781.8M537.0 781.8V761.2H544.2V768.7M529.8 761.6V749.8H540.6V761.2M556.2 781.8V761.2H561.0V781.8M551.4 781.8V745.6H558.6V761.2M535.2 749.8V725.7H555.0V745.6M565.8 781.8V741.3H570.6V781.8M585.0 781.8V756.5H589.8V781.8M580.2 781.8V742.0H587.4V756.5M575.4 781.8V729.5H583.8V742.0M568.2 741.3V707.2H579.6V729.5M545.1 725.7V682.4H573.9V707.2M506.4 700.8V660.4H559.5V682.4M452.7 682.1V642.6H532.9V660.4M594.6 781.8V761.6H599.4V781.8M604.2 781.8V754.8H609.0V781.8M597.0 761.6V746.3H606.6V754.8M613.8 781.8V744.1H618.6V781.8M601.8 746.3V729.9H616.2V744.1M637.8 781.8V755.5H642.6V781.8M633.0 781.8V747.0H640.2V755.5M628.2 781.8V727.8H636.6V747.0M623.4 781.8V722.4H632.4V727.8M609.0 729.9V702.2H627.9V722.4M652.2 781.8V737.0H657.0V781.8M647.4 781.8V729.9H654.6V737.0M666.6 781.8V751.2H671.4V781.8M676.2 781.8V741.3H681.0V781.8M669.0 751.2V723.8H678.6V741.3M661.8 781.8V711.0H673.8V723.8M651.0 729.9V693.7H667.8V711.0M618.4 702.2V683.8H659.4V693.7M690.6 781.8V743.4H695.4V781.8M685.8 781.8V731.8H693.0V743.4M700.2 781.8V721.0H705.0V781.8M689.4 731.8V705.8H702.6V721.0M709.8 781.8V748.8H714.6V781.8M719.4 781.8V735.6H724.2V781.8M712.2 748.8V710.1H721.8V735.6M729.0 781.8V733.2H733.8V781.8M743.4 781.8V753.7H748.2V781.8M753.0 781.8V741.3H757.8V781.8M745.8 753.7V720.4H755.4V741.3M738.6 781.8V716.7H750.6V720.4M731.4 733.2V703.4H744.6V716.7M717.0 710.1V671.0H738.0V703.4M696.0 705.8V653.7H727.5V671.0M638.9 683.8V641.2H711.8V653.7M492.8 642.6V621.6H675.3V641.2M308.3 641.2V613.8H584.1V621.6" fill="none" stroke="#000" stroke-width="2.35" stroke-linejoin="round" stroke-linecap="round"/><path d="M188.4 814.0H133.7V825.9H188.4M188.4 849.7H175.1V861.6H188.4M188.4 837.8H129.0V855.7H175.1M188.4 873.5H114.3V885.5H188.4M129.0 846.7H100.6V879.5H114.3M133.7 819.9H71.0V863.1H100.6M188.4 921.2H174.0V933.1H188.4M188.4 909.3H162.1V927.2H174.0M188.4 897.4H117.2V918.2H162.1M188.4 968.9H182.2V980.8H188.4M188.4 957.0H177.0V974.8H182.2M188.4 945.0H165.0V965.9H177.0M188.4 1004.6H184.6V1016.5H188.4M188.4 992.7H179.4V1010.6H184.6M188.4 1028.5H146.0V1040.4H188.4M179.4 1001.7H125.4V1034.4H146.0M165.0 955.5H115.5V1018.0H125.4M117.2 907.8H101.3V986.8H115.5M188.4 1052.3H179.2V1064.2H188.4M188.4 1076.1H113.1V1088.0H188.4M179.2 1058.3H97.8V1082.1H113.1M188.4 1100.0H171.6V1111.9H188.4M188.4 1135.7H165.0V1147.6H188.4M188.4 1123.8H130.9V1141.7H165.0M171.6 1105.9H125.4V1132.7H130.9M188.4 1159.6H155.0V1171.5H188.4M188.4 1195.3H187.0V1207.2H188.4M188.4 1219.1H179.9V1231.1H188.4M187.0 1201.3H162.8V1225.1H179.9M188.4 1183.4H156.2V1213.2H162.8M188.4 1254.9H184.6V1266.8H188.4M188.4 1243.0H146.0V1260.8H184.6M156.2 1198.3H129.7V1251.9H146.0M155.0 1165.5H120.7V1225.1H129.7M125.4 1119.3H113.6V1195.3H120.7M188.4 1290.6H153.4V1302.6H188.4M188.4 1278.7H103.4V1296.6H153.4M188.4 1314.5H123.1V1326.4H188.4M188.4 1338.3H115.3V1350.2H188.4M123.1 1320.4H89.5V1344.3H115.3M103.4 1287.7H80.5V1332.3H89.5M113.6 1157.3H75.3V1310.0H80.5M97.8 1070.2H64.6V1233.7H75.3M101.3 947.3H48.5V1151.9H64.6M71.0 841.5H20.8V1049.6H48.5" fill="none" stroke="#000" stroke-width="2.35" stroke-linejoin="round" stroke-linecap="round"/><rect x="188.9" y="784.2" width="237.9" height="19.8" fill="#ff69b4"/><rect x="426.8" y="784.2" width="335.4" height="19.8" fill="#90ee90"/><rect x="444.4" y="784.2" width="2.5" height="19.8" fill="#ff69b4"/><rect x="451.1" y="784.2" width="2.2" height="19.8" fill="#ff69b4"/><rect x="463.8" y="784.2" width="2.5" height="19.8" fill="#ff69b4"/><text transform="translate(73.94 759.70) scale(1.0196 1)" font-size="27" fill="#000">Late</text><text transform="translate(64.80 794.70) scale(0.9941 1)" font-size="27" fill="#000">Early</text><rect x="136.3" y="739.7" width="23.5" height="19.7" fill="#90ee90"/><rect x="136.3" y="776.9" width="23.5" height="19.8" fill="#ff69b4"/><g><path fill="#ff9292" d="M188.9 808.0h5.2v12.2h-5.2zM218.1 808.0h5.2v12.2h-5.2zM237.6 808.0h5.2v12.2h-5.2zM271.7 808.0h5.2v12.2h-5.2zM286.3 808.0h10.0v12.2h-10.0zM332.9 808.0h5.1v12.2h-5.1zM361.7 808.0h5.1v12.2h-5.1zM385.7 808.0h5.1v12.2h-5.1zM409.7 808.0h5.1v12.2h-5.1zM577.8 808.0h5.1v12.2h-5.1zM697.8 808.0h5.1v12.2h-5.1zM707.4 808.0h9.9v12.2h-9.9zM188.9 819.9h5.2v12.2h-5.2zM213.2 819.9h14.9v12.2h-14.9zM237.6 819.9h5.2v12.2h-5.2zM247.3 819.9h5.2v12.2h-5.2zM305.7 819.9h5.2v12.2h-5.2zM328.1 819.9h5.1v12.2h-5.1zM438.6 819.9h9.9v12.2h-9.9zM486.6 819.9h5.1v12.2h-5.1zM188.9 831.8h10.0v12.2h-10.0zM203.5 831.8h5.2v12.2h-5.2zM223.0 831.8h19.8v12.2h-19.8zM261.9 831.8h10.0v12.2h-10.0zM296.0 831.8h5.2v12.2h-5.2zM414.5 831.8h5.1v12.2h-5.1zM424.1 831.8h5.1v12.2h-5.1zM587.4 831.8h5.1v12.2h-5.1zM707.4 831.8h9.9v12.2h-9.9zM188.9 843.8h5.2v12.2h-5.2zM223.0 843.8h10.0v12.2h-10.0zM247.3 843.8h5.2v12.2h-5.2zM261.9 843.8h5.2v12.2h-5.2zM286.3 843.8h5.2v12.2h-5.2zM305.7 843.8h5.2v12.2h-5.2zM323.3 843.8h5.1v12.2h-5.1zM332.9 843.8h5.1v12.2h-5.1zM356.9 843.8h9.9v12.2h-9.9zM414.5 843.8h5.1v12.2h-5.1zM188.9 855.7h24.6v12.2h-24.6zM227.8 855.7h14.9v12.2h-14.9zM247.3 855.7h10.0v12.2h-10.0zM271.7 855.7h10.0v12.2h-10.0zM300.9 855.7h5.2v12.2h-5.2zM320.3 855.7h17.7v12.2h-17.7zM366.5 855.7h5.1v12.2h-5.1zM414.5 855.7h5.1v12.2h-5.1zM198.6 867.6h5.2v12.2h-5.2zM213.2 867.6h10.0v12.2h-10.0zM227.8 867.6h10.0v12.2h-10.0zM242.4 867.6h5.2v12.2h-5.2zM323.3 867.6h5.1v12.2h-5.1zM332.9 867.6h5.1v12.2h-5.1zM356.9 867.6h29.1v12.2h-29.1zM390.5 867.6h5.1v12.2h-5.1zM404.9 867.6h5.1v12.2h-5.1zM419.3 867.6h5.1v12.2h-5.1zM429.0 867.6h5.1v12.2h-5.1zM505.8 867.6h5.1v12.2h-5.1zM549.0 867.6h9.9v12.2h-9.9zM726.6 867.6h5.1v12.2h-5.1zM294.5 879.5h5.1v12.2h-5.1zM308.9 879.5h5.1v12.2h-5.1zM323.3 879.5h5.1v12.2h-5.1zM366.5 879.5h5.1v12.2h-5.1zM404.9 879.5h5.1v12.2h-5.1zM414.5 879.5h5.1v12.2h-5.1zM429.0 879.5h5.1v12.2h-5.1zM501.0 879.5h5.1v12.2h-5.1zM726.6 879.5h5.1v12.2h-5.1zM467.4 891.4h14.7v12.2h-14.7zM486.6 891.4h5.1v12.2h-5.1zM553.8 891.4h5.1v12.2h-5.1zM582.6 891.4h14.7v12.2h-14.7zM601.8 891.4h9.9v12.2h-9.9zM697.8 891.4h5.1v12.2h-5.1zM212.9 903.3h5.1v12.2h-5.1zM323.3 903.3h5.1v12.2h-5.1zM448.2 903.3h5.1v12.2h-5.1zM525.0 903.3h5.1v12.2h-5.1zM539.4 903.3h9.9v12.2h-9.9zM577.8 903.3h14.7v12.2h-14.7zM611.4 903.3h5.1v12.2h-5.1zM726.6 903.3h5.1v12.2h-5.1zM755.4 903.3h5.1v12.2h-5.1zM457.8 915.3h5.1v12.2h-5.1zM534.6 915.3h5.1v12.2h-5.1zM544.2 915.3h5.1v12.2h-5.1zM577.8 915.3h5.1v12.2h-5.1zM587.4 915.3h5.1v12.2h-5.1zM606.6 915.3h5.1v12.2h-5.1zM669.0 915.3h5.1v12.2h-5.1zM717.0 915.3h9.9v12.2h-9.9zM222.5 927.2h5.1v12.2h-5.1zM270.5 927.2h5.1v12.2h-5.1zM433.8 927.2h5.1v12.2h-5.1zM443.4 927.2h9.9v12.2h-9.9zM462.6 927.2h5.1v12.2h-5.1zM525.0 927.2h9.9v12.2h-9.9zM558.6 927.2h19.5v12.2h-19.5zM582.6 927.2h9.9v12.2h-9.9zM601.8 927.2h5.1v12.2h-5.1zM611.4 927.2h5.1v12.2h-5.1zM726.6 927.2h5.1v12.2h-5.1zM741.0 927.2h9.9v12.2h-9.9zM308.9 939.1h5.1v12.2h-5.1zM467.4 939.1h5.1v12.2h-5.1zM496.2 939.1h5.1v12.2h-5.1zM510.6 939.1h14.7v12.2h-14.7zM616.2 939.1h5.1v12.2h-5.1zM625.8 939.1h5.1v12.2h-5.1zM664.2 939.1h5.1v12.2h-5.1zM702.6 939.1h5.1v12.2h-5.1zM726.6 939.1h5.1v12.2h-5.1zM308.9 951.0h9.9v12.2h-9.9zM467.4 951.0h5.1v12.2h-5.1zM505.8 951.0h5.1v12.2h-5.1zM525.0 951.0h9.9v12.2h-9.9zM539.4 951.0h9.9v12.2h-9.9zM568.2 951.0h9.9v12.2h-9.9zM582.6 951.0h9.9v12.2h-9.9zM649.8 951.0h5.1v12.2h-5.1zM669.0 951.0h9.9v12.2h-9.9zM688.2 951.0h5.1v12.2h-5.1zM697.8 951.0h9.9v12.2h-9.9zM203.3 962.9h5.1v12.2h-5.1zM467.4 962.9h9.9v12.2h-9.9zM505.8 962.9h5.1v12.2h-5.1zM515.4 962.9h5.1v12.2h-5.1zM539.4 962.9h5.1v12.2h-5.1zM621.0 962.9h5.1v12.2h-5.1zM669.0 962.9h5.1v12.2h-5.1zM683.4 962.9h5.1v12.2h-5.1zM712.2 962.9h5.1v12.2h-5.1zM736.2 962.9h9.9v12.2h-9.9zM750.6 962.9h5.1v12.2h-5.1zM198.5 974.8h5.1v12.2h-5.1zM222.5 974.8h5.1v12.2h-5.1zM472.2 974.8h9.9v12.2h-9.9zM505.8 974.8h5.1v12.2h-5.1zM525.0 974.8h9.9v12.2h-9.9zM544.2 974.8h5.1v12.2h-5.1zM568.2 974.8h9.9v12.2h-9.9zM587.4 974.8h5.1v12.2h-5.1zM621.0 974.8h5.1v12.2h-5.1zM640.2 974.8h5.1v12.2h-5.1zM697.8 974.8h5.1v12.2h-5.1zM707.4 974.8h5.1v12.2h-5.1zM741.0 974.8h5.1v12.2h-5.1zM750.6 974.8h9.9v12.2h-9.9zM433.8 986.8h9.9v12.2h-9.9zM472.2 986.8h5.1v12.2h-5.1zM544.2 986.8h5.1v12.2h-5.1zM587.4 986.8h5.1v12.2h-5.1zM645.0 986.8h5.1v12.2h-5.1zM654.6 986.8h5.1v12.2h-5.1zM669.0 986.8h5.1v12.2h-5.1zM433.8 998.7h9.9v12.2h-9.9zM481.8 998.7h5.1v12.2h-5.1zM505.8 998.7h5.1v12.2h-5.1zM664.2 998.7h5.1v12.2h-5.1zM707.4 998.7h19.5v12.2h-19.5zM731.4 998.7h19.5v12.2h-19.5zM433.8 1010.6h9.9v12.2h-9.9zM481.8 1010.6h5.1v12.2h-5.1zM544.2 1010.6h9.9v12.2h-9.9zM587.4 1010.6h5.1v12.2h-5.1zM635.4 1010.6h9.9v12.2h-9.9zM712.2 1010.6h9.9v12.2h-9.9zM755.4 1010.6h5.1v12.2h-5.1zM280.1 1022.5h5.1v12.2h-5.1zM308.9 1022.5h5.1v12.2h-5.1zM438.6 1022.5h5.1v12.2h-5.1zM457.8 1022.5h5.1v12.2h-5.1zM587.4 1022.5h5.1v12.2h-5.1zM621.0 1022.5h5.1v12.2h-5.1zM640.2 1022.5h5.1v12.2h-5.1zM712.2 1022.5h9.9v12.2h-9.9zM433.8 1034.4h5.1v12.2h-5.1zM448.2 1034.4h5.1v12.2h-5.1zM457.8 1034.4h9.9v12.2h-9.9zM486.6 1034.4h5.1v12.2h-5.1zM520.2 1034.4h5.1v12.2h-5.1zM534.6 1034.4h5.1v12.2h-5.1zM549.0 1034.4h24.3v12.2h-24.3zM582.6 1034.4h5.1v12.2h-5.1zM592.2 1034.4h5.1v12.2h-5.1zM601.8 1034.4h9.9v12.2h-9.9zM678.6 1034.4h5.1v12.2h-5.1zM707.4 1034.4h5.1v12.2h-5.1zM721.8 1034.4h5.1v12.2h-5.1zM736.2 1034.4h5.1v12.2h-5.1zM448.2 1046.3h9.9v12.2h-9.9zM467.4 1046.3h5.1v12.2h-5.1zM481.8 1046.3h9.9v12.2h-9.9zM673.8 1046.3h5.1v12.2h-5.1zM717.0 1046.3h5.1v12.2h-5.1zM741.0 1046.3h9.9v12.2h-9.9zM755.4 1046.3h5.1v12.2h-5.1zM448.2 1058.3h9.9v12.2h-9.9zM467.4 1058.3h5.1v12.2h-5.1zM481.8 1058.3h5.1v12.2h-5.1zM582.6 1058.3h5.1v12.2h-5.1zM592.2 1058.3h9.9v12.2h-9.9zM606.6 1058.3h5.1v12.2h-5.1zM673.8 1058.3h5.1v12.2h-5.1zM707.4 1058.3h14.7v12.2h-14.7zM755.4 1058.3h5.1v12.2h-5.1zM515.4 1070.2h5.1v12.2h-5.1zM568.2 1070.2h5.1v12.2h-5.1zM611.4 1070.2h5.1v12.2h-5.1zM635.4 1070.2h5.1v12.2h-5.1zM645.0 1070.2h5.1v12.2h-5.1zM673.8 1070.2h5.1v12.2h-5.1zM717.0 1070.2h5.1v12.2h-5.1zM745.8 1070.2h5.1v12.2h-5.1zM227.3 1082.1h5.1v12.2h-5.1zM400.1 1082.1h5.1v12.2h-5.1zM443.4 1082.1h5.1v12.2h-5.1zM477.0 1082.1h9.9v12.2h-9.9zM491.4 1082.1h9.9v12.2h-9.9zM553.8 1082.1h5.1v12.2h-5.1zM568.2 1082.1h5.1v12.2h-5.1zM582.6 1082.1h5.1v12.2h-5.1zM592.2 1082.1h5.1v12.2h-5.1zM606.6 1082.1h5.1v12.2h-5.1zM635.4 1082.1h5.1v12.2h-5.1zM664.2 1082.1h5.1v12.2h-5.1zM673.8 1082.1h5.1v12.2h-5.1zM688.2 1082.1h5.1v12.2h-5.1zM726.6 1082.1h5.1v12.2h-5.1zM380.9 1094.0h5.1v12.2h-5.1zM429.0 1094.0h9.9v12.2h-9.9zM462.6 1094.0h5.1v12.2h-5.1zM472.2 1094.0h5.1v12.2h-5.1zM525.0 1094.0h9.9v12.2h-9.9zM568.2 1094.0h5.1v12.2h-5.1zM577.8 1094.0h5.1v12.2h-5.1zM587.4 1094.0h5.1v12.2h-5.1zM606.6 1094.0h9.9v12.2h-9.9zM621.0 1094.0h5.1v12.2h-5.1zM712.2 1094.0h9.9v12.2h-9.9zM731.4 1094.0h9.9v12.2h-9.9zM745.8 1094.0h5.1v12.2h-5.1zM380.9 1105.9h5.1v12.2h-5.1zM419.3 1105.9h5.1v12.2h-5.1zM429.0 1105.9h5.1v12.2h-5.1zM472.2 1105.9h5.1v12.2h-5.1zM525.0 1105.9h5.1v12.2h-5.1zM544.2 1105.9h5.1v12.2h-5.1zM568.2 1105.9h5.1v12.2h-5.1zM577.8 1105.9h5.1v12.2h-5.1zM592.2 1105.9h9.9v12.2h-9.9zM621.0 1105.9h5.1v12.2h-5.1zM640.2 1105.9h5.1v12.2h-5.1zM712.2 1105.9h9.9v12.2h-9.9zM304.1 1117.8h5.1v12.2h-5.1zM448.2 1117.8h5.1v12.2h-5.1zM496.2 1117.8h5.1v12.2h-5.1zM505.8 1117.8h5.1v12.2h-5.1zM515.4 1117.8h5.1v12.2h-5.1zM525.0 1117.8h9.9v12.2h-9.9zM544.2 1117.8h5.1v12.2h-5.1zM558.6 1117.8h5.1v12.2h-5.1zM568.2 1117.8h5.1v12.2h-5.1zM577.8 1117.8h19.5v12.2h-19.5zM606.6 1117.8h14.7v12.2h-14.7zM649.8 1117.8h5.1v12.2h-5.1zM669.0 1117.8h5.1v12.2h-5.1zM688.2 1117.8h5.1v12.2h-5.1zM712.2 1117.8h9.9v12.2h-9.9zM390.5 1129.8h5.1v12.2h-5.1zM462.6 1129.8h5.1v12.2h-5.1zM472.2 1129.8h5.1v12.2h-5.1zM501.0 1129.8h5.1v12.2h-5.1zM515.4 1129.8h5.1v12.2h-5.1zM529.8 1129.8h24.3v12.2h-24.3zM568.2 1129.8h5.1v12.2h-5.1zM577.8 1129.8h5.1v12.2h-5.1zM587.4 1129.8h5.1v12.2h-5.1zM688.2 1129.8h5.1v12.2h-5.1zM308.9 1141.7h5.1v12.2h-5.1zM433.8 1141.7h5.1v12.2h-5.1zM448.2 1141.7h5.1v12.2h-5.1zM457.8 1141.7h5.1v12.2h-5.1zM472.2 1141.7h5.1v12.2h-5.1zM515.4 1141.7h5.1v12.2h-5.1zM525.0 1141.7h9.9v12.2h-9.9zM568.2 1141.7h5.1v12.2h-5.1zM577.8 1141.7h9.9v12.2h-9.9zM606.6 1141.7h5.1v12.2h-5.1zM625.8 1141.7h9.9v12.2h-9.9zM222.5 1153.6h5.1v12.2h-5.1zM400.1 1153.6h5.1v12.2h-5.1zM462.6 1153.6h19.5v12.2h-19.5zM491.4 1153.6h9.9v12.2h-9.9zM549.0 1153.6h9.9v12.2h-9.9zM577.8 1153.6h14.7v12.2h-14.7zM601.8 1153.6h5.1v12.2h-5.1zM625.8 1153.6h19.5v12.2h-19.5zM707.4 1153.6h5.1v12.2h-5.1zM726.6 1153.6h9.9v12.2h-9.9zM246.5 1165.5h5.1v12.2h-5.1zM414.5 1165.5h5.1v12.2h-5.1zM491.4 1165.5h5.1v12.2h-5.1zM525.0 1165.5h5.1v12.2h-5.1zM539.4 1165.5h5.1v12.2h-5.1zM558.6 1165.5h5.1v12.2h-5.1zM587.4 1165.5h5.1v12.2h-5.1zM606.6 1165.5h9.9v12.2h-9.9zM625.8 1165.5h14.7v12.2h-14.7zM654.6 1165.5h5.1v12.2h-5.1zM702.6 1165.5h5.1v12.2h-5.1zM721.8 1165.5h14.7v12.2h-14.7zM745.8 1165.5h9.9v12.2h-9.9zM409.7 1177.4h5.1v12.2h-5.1zM491.4 1177.4h5.1v12.2h-5.1zM501.0 1177.4h5.1v12.2h-5.1zM525.0 1177.4h38.7v12.2h-38.7zM573.0 1177.4h14.7v12.2h-14.7zM601.8 1177.4h9.9v12.2h-9.9zM625.8 1177.4h5.1v12.2h-5.1zM635.4 1177.4h5.1v12.2h-5.1zM697.8 1177.4h9.9v12.2h-9.9zM717.0 1177.4h5.1v12.2h-5.1zM731.4 1177.4h5.1v12.2h-5.1zM745.8 1177.4h9.9v12.2h-9.9zM462.6 1189.3h5.1v12.2h-5.1zM472.2 1189.3h9.9v12.2h-9.9zM491.4 1189.3h5.1v12.2h-5.1zM501.0 1189.3h5.1v12.2h-5.1zM534.6 1189.3h5.1v12.2h-5.1zM549.0 1189.3h5.1v12.2h-5.1zM573.0 1189.3h5.1v12.2h-5.1zM592.2 1189.3h5.1v12.2h-5.1zM611.4 1189.3h5.1v12.2h-5.1zM625.8 1189.3h19.5v12.2h-19.5zM669.0 1189.3h5.1v12.2h-5.1zM683.4 1189.3h5.1v12.2h-5.1zM702.6 1189.3h9.9v12.2h-9.9zM448.2 1201.3h5.1v12.2h-5.1zM477.0 1201.3h5.1v12.2h-5.1zM534.6 1201.3h5.1v12.2h-5.1zM549.0 1201.3h5.1v12.2h-5.1zM577.8 1201.3h5.1v12.2h-5.1zM592.2 1201.3h5.1v12.2h-5.1zM611.4 1201.3h5.1v12.2h-5.1zM635.4 1201.3h9.9v12.2h-9.9zM649.8 1201.3h5.1v12.2h-5.1zM664.2 1201.3h5.1v12.2h-5.1zM688.2 1201.3h5.1v12.2h-5.1zM702.6 1201.3h5.1v12.2h-5.1zM726.6 1201.3h5.1v12.2h-5.1zM755.4 1201.3h5.1v12.2h-5.1zM525.0 1213.2h24.3v12.2h-24.3zM553.8 1213.2h5.1v12.2h-5.1zM568.2 1213.2h5.1v12.2h-5.1zM582.6 1213.2h5.1v12.2h-5.1zM592.2 1213.2h5.1v12.2h-5.1zM625.8 1213.2h19.5v12.2h-19.5zM654.6 1213.2h5.1v12.2h-5.1zM688.2 1213.2h5.1v12.2h-5.1zM702.6 1213.2h9.9v12.2h-9.9zM745.8 1213.2h5.1v12.2h-5.1zM457.8 1225.1h14.7v12.2h-14.7zM496.2 1225.1h5.1v12.2h-5.1zM525.0 1225.1h19.5v12.2h-19.5zM553.8 1225.1h9.9v12.2h-9.9zM568.2 1225.1h5.1v12.2h-5.1zM577.8 1225.1h9.9v12.2h-9.9zM640.2 1225.1h5.1v12.2h-5.1zM688.2 1225.1h5.1v12.2h-5.1zM717.0 1225.1h5.1v12.2h-5.1zM731.4 1225.1h9.9v12.2h-9.9zM760.2 1225.1h5.1v12.2h-5.1zM395.3 1237.0h5.1v12.2h-5.1zM419.3 1237.0h5.1v12.2h-5.1zM448.2 1237.0h5.1v12.2h-5.1zM457.8 1237.0h9.9v12.2h-9.9zM481.8 1237.0h9.9v12.2h-9.9zM505.8 1237.0h5.1v12.2h-5.1zM515.4 1237.0h5.1v12.2h-5.1zM525.0 1237.0h9.9v12.2h-9.9zM558.6 1237.0h5.1v12.2h-5.1zM568.2 1237.0h9.9v12.2h-9.9zM587.4 1237.0h5.1v12.2h-5.1zM621.0 1237.0h5.1v12.2h-5.1zM640.2 1237.0h5.1v12.2h-5.1zM688.2 1237.0h5.1v12.2h-5.1zM198.5 1248.9h5.1v12.2h-5.1zM505.8 1248.9h5.1v12.2h-5.1zM515.4 1248.9h5.1v12.2h-5.1zM525.0 1248.9h5.1v12.2h-5.1zM534.6 1248.9h5.1v12.2h-5.1zM549.0 1248.9h14.7v12.2h-14.7zM568.2 1248.9h5.1v12.2h-5.1zM577.8 1248.9h9.9v12.2h-9.9zM597.0 1248.9h5.1v12.2h-5.1zM621.0 1248.9h5.1v12.2h-5.1zM630.6 1248.9h19.5v12.2h-19.5zM654.6 1248.9h5.1v12.2h-5.1zM678.6 1248.9h9.9v12.2h-9.9zM693.0 1248.9h5.1v12.2h-5.1zM707.4 1248.9h9.9v12.2h-9.9zM755.4 1248.9h5.1v12.2h-5.1zM457.8 1260.8h9.9v12.2h-9.9zM491.4 1260.8h9.9v12.2h-9.9zM505.8 1260.8h5.1v12.2h-5.1zM515.4 1260.8h5.1v12.2h-5.1zM525.0 1260.8h5.1v12.2h-5.1zM553.8 1260.8h9.9v12.2h-9.9zM577.8 1260.8h5.1v12.2h-5.1zM592.2 1260.8h29.1v12.2h-29.1zM635.4 1260.8h14.7v12.2h-14.7zM654.6 1260.8h14.7v12.2h-14.7zM683.4 1260.8h9.9v12.2h-9.9zM721.8 1260.8h5.1v12.2h-5.1zM731.4 1260.8h9.9v12.2h-9.9zM203.3 1272.8h5.1v12.2h-5.1zM212.9 1272.8h5.1v12.2h-5.1zM299.3 1272.8h5.1v12.2h-5.1zM429.0 1272.8h5.1v12.2h-5.1zM462.6 1272.8h5.1v12.2h-5.1zM472.2 1272.8h5.1v12.2h-5.1zM481.8 1272.8h9.9v12.2h-9.9zM505.8 1272.8h5.1v12.2h-5.1zM515.4 1272.8h9.9v12.2h-9.9zM592.2 1272.8h5.1v12.2h-5.1zM606.6 1272.8h5.1v12.2h-5.1zM621.0 1272.8h9.9v12.2h-9.9zM635.4 1272.8h9.9v12.2h-9.9zM649.8 1272.8h5.1v12.2h-5.1zM736.2 1272.8h9.9v12.2h-9.9zM328.1 1284.7h5.1v12.2h-5.1zM438.6 1284.7h5.1v12.2h-5.1zM448.2 1284.7h5.1v12.2h-5.1zM486.6 1284.7h9.9v12.2h-9.9zM520.2 1284.7h14.7v12.2h-14.7zM597.0 1284.7h53.1v12.2h-53.1zM654.6 1284.7h5.1v12.2h-5.1zM707.4 1284.7h9.9v12.2h-9.9zM745.8 1284.7h5.1v12.2h-5.1zM755.4 1284.7h5.1v12.2h-5.1zM328.1 1296.6h9.9v12.2h-9.9zM429.0 1296.6h5.1v12.2h-5.1zM438.6 1296.6h5.1v12.2h-5.1zM457.8 1296.6h5.1v12.2h-5.1zM496.2 1296.6h5.1v12.2h-5.1zM573.0 1296.6h5.1v12.2h-5.1zM597.0 1296.6h19.5v12.2h-19.5zM635.4 1296.6h5.1v12.2h-5.1zM649.8 1296.6h5.1v12.2h-5.1zM659.4 1296.6h5.1v12.2h-5.1zM673.8 1296.6h5.1v12.2h-5.1zM683.4 1296.6h9.9v12.2h-9.9zM707.4 1296.6h9.9v12.2h-9.9zM745.8 1296.6h5.1v12.2h-5.1zM755.4 1296.6h5.1v12.2h-5.1zM352.1 1308.5h5.1v12.2h-5.1zM457.8 1308.5h9.9v12.2h-9.9zM496.2 1308.5h5.1v12.2h-5.1zM515.4 1308.5h9.9v12.2h-9.9zM558.6 1308.5h5.1v12.2h-5.1zM597.0 1308.5h5.1v12.2h-5.1zM611.4 1308.5h5.1v12.2h-5.1zM635.4 1308.5h5.1v12.2h-5.1zM649.8 1308.5h5.1v12.2h-5.1zM688.2 1308.5h5.1v12.2h-5.1zM721.8 1308.5h9.9v12.2h-9.9zM745.8 1308.5h5.1v12.2h-5.1zM304.1 1320.4h5.1v12.2h-5.1zM472.2 1320.4h9.9v12.2h-9.9zM496.2 1320.4h5.1v12.2h-5.1zM529.8 1320.4h5.1v12.2h-5.1zM539.4 1320.4h24.3v12.2h-24.3zM577.8 1320.4h5.1v12.2h-5.1zM597.0 1320.4h9.9v12.2h-9.9zM621.0 1320.4h14.7v12.2h-14.7zM640.2 1320.4h9.9v12.2h-9.9zM654.6 1320.4h5.1v12.2h-5.1zM697.8 1320.4h5.1v12.2h-5.1zM707.4 1320.4h5.1v12.2h-5.1zM726.6 1320.4h5.1v12.2h-5.1zM745.8 1320.4h14.7v12.2h-14.7zM308.9 1332.3h14.7v12.2h-14.7zM332.9 1332.3h5.1v12.2h-5.1zM356.9 1332.3h5.1v12.2h-5.1zM404.9 1332.3h9.9v12.2h-9.9zM429.0 1332.3h5.1v12.2h-5.1zM457.8 1332.3h5.1v12.2h-5.1zM477.0 1332.3h9.9v12.2h-9.9zM496.2 1332.3h9.9v12.2h-9.9zM529.8 1332.3h19.5v12.2h-19.5zM558.6 1332.3h5.1v12.2h-5.1zM597.0 1332.3h9.9v12.2h-9.9zM616.2 1332.3h19.5v12.2h-19.5zM645.0 1332.3h9.9v12.2h-9.9zM659.4 1332.3h5.1v12.2h-5.1zM678.6 1332.3h5.1v12.2h-5.1zM697.8 1332.3h5.1v12.2h-5.1zM717.0 1332.3h5.1v12.2h-5.1zM726.6 1332.3h5.1v12.2h-5.1zM760.2 1332.3h5.1v12.2h-5.1zM457.8 1344.3h5.1v12.2h-5.1zM467.4 1344.3h5.1v12.2h-5.1zM477.0 1344.3h5.1v12.2h-5.1zM505.8 1344.3h5.1v12.2h-5.1zM515.4 1344.3h5.1v12.2h-5.1zM549.0 1344.3h14.7v12.2h-14.7zM592.2 1344.3h5.1v12.2h-5.1zM616.2 1344.3h9.9v12.2h-9.9zM673.8 1344.3h9.9v12.2h-9.9zM726.6 1344.3h5.1v12.2h-5.1z"/><path fill="#ffe2e2" d="M203.5 808.0h5.2v12.2h-5.2zM252.2 808.0h5.2v12.2h-5.2zM266.8 808.0h5.2v12.2h-5.2zM276.5 808.0h5.2v12.2h-5.2zM296.0 808.0h5.2v12.2h-5.2zM328.1 808.0h5.1v12.2h-5.1zM380.9 808.0h5.1v12.2h-5.1zM395.3 808.0h5.1v12.2h-5.1zM467.4 808.0h5.1v12.2h-5.1zM477.0 808.0h5.1v12.2h-5.1zM491.4 808.0h5.1v12.2h-5.1zM510.6 808.0h5.1v12.2h-5.1zM539.4 808.0h5.1v12.2h-5.1zM549.0 808.0h5.1v12.2h-5.1zM582.6 808.0h5.1v12.2h-5.1zM717.0 808.0h5.1v12.2h-5.1zM227.8 819.9h5.2v12.2h-5.2zM242.4 819.9h5.2v12.2h-5.2zM252.2 819.9h5.2v12.2h-5.2zM261.9 819.9h5.2v12.2h-5.2zM291.1 819.9h14.9v12.2h-14.9zM323.3 819.9h5.1v12.2h-5.1zM342.5 819.9h5.1v12.2h-5.1zM356.9 819.9h14.7v12.2h-14.7zM376.1 819.9h5.1v12.2h-5.1zM385.7 819.9h5.1v12.2h-5.1zM395.3 819.9h5.1v12.2h-5.1zM424.1 819.9h5.1v12.2h-5.1zM433.8 819.9h5.1v12.2h-5.1zM448.2 819.9h5.1v12.2h-5.1zM457.8 819.9h5.1v12.2h-5.1zM496.2 819.9h5.1v12.2h-5.1zM563.4 819.9h5.1v12.2h-5.1zM745.8 819.9h14.7v12.2h-14.7zM247.3 831.8h5.2v12.2h-5.2zM257.0 831.8h5.2v12.2h-5.2zM332.9 831.8h5.1v12.2h-5.1zM501.0 831.8h5.1v12.2h-5.1zM573.0 831.8h14.7v12.2h-14.7zM601.8 831.8h9.9v12.2h-9.9zM673.8 831.8h5.1v12.2h-5.1zM755.4 831.8h5.1v12.2h-5.1zM242.4 843.8h5.2v12.2h-5.2zM296.0 843.8h5.2v12.2h-5.2zM310.6 843.8h5.2v12.2h-5.2zM328.1 843.8h5.1v12.2h-5.1zM366.5 843.8h5.1v12.2h-5.1zM376.1 843.8h9.9v12.2h-9.9zM404.9 843.8h5.1v12.2h-5.1zM424.1 843.8h5.1v12.2h-5.1zM433.8 843.8h5.1v12.2h-5.1zM462.6 843.8h5.1v12.2h-5.1zM669.0 843.8h5.1v12.2h-5.1zM678.6 843.8h9.9v12.2h-9.9zM697.8 843.8h5.1v12.2h-5.1zM731.4 843.8h9.9v12.2h-9.9zM745.8 843.8h5.1v12.2h-5.1zM218.1 855.7h5.2v12.2h-5.2zM261.9 855.7h5.2v12.2h-5.2zM305.7 855.7h5.2v12.2h-5.2zM380.9 855.7h5.1v12.2h-5.1zM400.1 855.7h9.9v12.2h-9.9zM419.3 855.7h9.9v12.2h-9.9zM592.2 855.7h5.1v12.2h-5.1zM707.4 855.7h9.9v12.2h-9.9zM731.4 855.7h5.1v12.2h-5.1zM247.3 867.6h34.4v12.2h-34.4zM286.3 867.6h14.9v12.2h-14.9zM305.7 867.6h5.2v12.2h-5.2zM352.1 867.6h5.1v12.2h-5.1zM424.1 867.6h5.1v12.2h-5.1zM443.4 867.6h5.1v12.2h-5.1zM491.4 867.6h5.1v12.2h-5.1zM539.4 867.6h9.9v12.2h-9.9zM577.8 867.6h9.9v12.2h-9.9zM702.6 867.6h14.7v12.2h-14.7zM731.4 867.6h5.1v12.2h-5.1zM745.8 867.6h5.1v12.2h-5.1zM198.5 879.5h5.1v12.2h-5.1zM208.1 879.5h5.1v12.2h-5.1zM280.1 879.5h5.1v12.2h-5.1zM299.3 879.5h5.1v12.2h-5.1zM380.9 879.5h5.1v12.2h-5.1zM390.5 879.5h9.9v12.2h-9.9zM453.0 879.5h5.1v12.2h-5.1zM520.2 879.5h5.1v12.2h-5.1zM534.6 879.5h5.1v12.2h-5.1zM573.0 879.5h5.1v12.2h-5.1zM678.6 879.5h5.1v12.2h-5.1zM697.8 879.5h9.9v12.2h-9.9zM731.4 879.5h5.1v12.2h-5.1zM745.8 879.5h5.1v12.2h-5.1zM443.4 891.4h5.1v12.2h-5.1zM462.6 891.4h5.1v12.2h-5.1zM481.8 891.4h5.1v12.2h-5.1zM539.4 891.4h5.1v12.2h-5.1zM621.0 891.4h5.1v12.2h-5.1zM640.2 891.4h5.1v12.2h-5.1zM654.6 891.4h5.1v12.2h-5.1zM683.4 891.4h5.1v12.2h-5.1zM702.6 891.4h9.9v12.2h-9.9zM222.5 903.3h5.1v12.2h-5.1zM270.5 903.3h5.1v12.2h-5.1zM304.1 903.3h5.1v12.2h-5.1zM328.1 903.3h5.1v12.2h-5.1zM429.0 903.3h5.1v12.2h-5.1zM467.4 903.3h14.7v12.2h-14.7zM515.4 903.3h9.9v12.2h-9.9zM568.2 903.3h5.1v12.2h-5.1zM597.0 903.3h5.1v12.2h-5.1zM606.6 903.3h5.1v12.2h-5.1zM625.8 903.3h5.1v12.2h-5.1zM635.4 903.3h5.1v12.2h-5.1zM669.0 903.3h9.9v12.2h-9.9zM683.4 903.3h5.1v12.2h-5.1zM697.8 903.3h5.1v12.2h-5.1zM712.2 903.3h9.9v12.2h-9.9zM745.8 903.3h5.1v12.2h-5.1zM203.3 915.3h14.7v12.2h-14.7zM222.5 915.3h5.1v12.2h-5.1zM299.3 915.3h9.9v12.2h-9.9zM323.3 915.3h9.9v12.2h-9.9zM429.0 915.3h9.9v12.2h-9.9zM539.4 915.3h5.1v12.2h-5.1zM558.6 915.3h9.9v12.2h-9.9zM592.2 915.3h5.1v12.2h-5.1zM635.4 915.3h5.1v12.2h-5.1zM659.4 915.3h5.1v12.2h-5.1zM693.0 915.3h5.1v12.2h-5.1zM731.4 915.3h14.7v12.2h-14.7zM750.6 915.3h5.1v12.2h-5.1zM251.3 927.2h5.1v12.2h-5.1zM453.0 927.2h5.1v12.2h-5.1zM472.2 927.2h5.1v12.2h-5.1zM481.8 927.2h5.1v12.2h-5.1zM515.4 927.2h5.1v12.2h-5.1zM549.0 927.2h9.9v12.2h-9.9zM597.0 927.2h5.1v12.2h-5.1zM616.2 927.2h14.7v12.2h-14.7zM654.6 927.2h5.1v12.2h-5.1zM697.8 927.2h9.9v12.2h-9.9zM736.2 927.2h5.1v12.2h-5.1zM222.5 939.1h5.1v12.2h-5.1zM260.9 939.1h9.9v12.2h-9.9zM318.5 939.1h5.1v12.2h-5.1zM371.3 939.1h5.1v12.2h-5.1zM481.8 939.1h5.1v12.2h-5.1zM525.0 939.1h5.1v12.2h-5.1zM539.4 939.1h5.1v12.2h-5.1zM558.6 939.1h5.1v12.2h-5.1zM568.2 939.1h5.1v12.2h-5.1zM582.6 939.1h5.1v12.2h-5.1zM606.6 939.1h5.1v12.2h-5.1zM630.6 939.1h5.1v12.2h-5.1zM669.0 939.1h5.1v12.2h-5.1zM697.8 939.1h5.1v12.2h-5.1zM707.4 939.1h5.1v12.2h-5.1zM222.5 951.0h5.1v12.2h-5.1zM265.7 951.0h5.1v12.2h-5.1zM318.5 951.0h5.1v12.2h-5.1zM361.7 951.0h5.1v12.2h-5.1zM395.3 951.0h5.1v12.2h-5.1zM462.6 951.0h5.1v12.2h-5.1zM481.8 951.0h5.1v12.2h-5.1zM501.0 951.0h5.1v12.2h-5.1zM597.0 951.0h9.9v12.2h-9.9zM625.8 951.0h5.1v12.2h-5.1zM640.2 951.0h5.1v12.2h-5.1zM654.6 951.0h9.9v12.2h-9.9zM745.8 951.0h5.1v12.2h-5.1zM212.9 962.9h5.1v12.2h-5.1zM222.5 962.9h9.9v12.2h-9.9zM289.7 962.9h5.1v12.2h-5.1zM318.5 962.9h9.9v12.2h-9.9zM453.0 962.9h9.9v12.2h-9.9zM496.2 962.9h5.1v12.2h-5.1zM525.0 962.9h5.1v12.2h-5.1zM544.2 962.9h5.1v12.2h-5.1zM568.2 962.9h5.1v12.2h-5.1zM587.4 962.9h24.3v12.2h-24.3zM640.2 962.9h5.1v12.2h-5.1zM654.6 962.9h5.1v12.2h-5.1zM664.2 962.9h5.1v12.2h-5.1zM688.2 962.9h9.9v12.2h-9.9zM707.4 962.9h5.1v12.2h-5.1zM232.1 974.8h5.1v12.2h-5.1zM318.5 974.8h5.1v12.2h-5.1zM356.9 974.8h5.1v12.2h-5.1zM481.8 974.8h5.1v12.2h-5.1zM496.2 974.8h5.1v12.2h-5.1zM558.6 974.8h5.1v12.2h-5.1zM635.4 974.8h5.1v12.2h-5.1zM669.0 974.8h5.1v12.2h-5.1zM688.2 974.8h9.9v12.2h-9.9zM745.8 974.8h5.1v12.2h-5.1zM429.0 986.8h5.1v12.2h-5.1zM496.2 986.8h5.1v12.2h-5.1zM520.2 986.8h5.1v12.2h-5.1zM529.8 986.8h9.9v12.2h-9.9zM563.4 986.8h5.1v12.2h-5.1zM573.0 986.8h14.7v12.2h-14.7zM601.8 986.8h5.1v12.2h-5.1zM635.4 986.8h5.1v12.2h-5.1zM659.4 986.8h9.9v12.2h-9.9zM702.6 986.8h9.9v12.2h-9.9zM741.0 986.8h14.7v12.2h-14.7zM203.3 998.7h5.1v12.2h-5.1zM429.0 998.7h5.1v12.2h-5.1zM457.8 998.7h5.1v12.2h-5.1zM491.4 998.7h9.9v12.2h-9.9zM510.6 998.7h5.1v12.2h-5.1zM520.2 998.7h14.7v12.2h-14.7zM568.2 998.7h9.9v12.2h-9.9zM582.6 998.7h5.1v12.2h-5.1zM597.0 998.7h14.7v12.2h-14.7zM625.8 998.7h5.1v12.2h-5.1zM635.4 998.7h5.1v12.2h-5.1zM669.0 998.7h9.9v12.2h-9.9zM208.1 1010.6h5.1v12.2h-5.1zM429.0 1010.6h5.1v12.2h-5.1zM496.2 1010.6h5.1v12.2h-5.1zM515.4 1010.6h19.5v12.2h-19.5zM539.4 1010.6h5.1v12.2h-5.1zM568.2 1010.6h9.9v12.2h-9.9zM582.6 1010.6h5.1v12.2h-5.1zM741.0 1010.6h5.1v12.2h-5.1zM750.6 1010.6h5.1v12.2h-5.1zM212.9 1022.5h5.1v12.2h-5.1zM347.3 1022.5h5.1v12.2h-5.1zM361.7 1022.5h5.1v12.2h-5.1zM424.1 1022.5h5.1v12.2h-5.1zM472.2 1022.5h5.1v12.2h-5.1zM481.8 1022.5h5.1v12.2h-5.1zM505.8 1022.5h5.1v12.2h-5.1zM529.8 1022.5h5.1v12.2h-5.1zM544.2 1022.5h5.1v12.2h-5.1zM553.8 1022.5h5.1v12.2h-5.1zM573.0 1022.5h5.1v12.2h-5.1zM601.8 1022.5h9.9v12.2h-9.9zM616.2 1022.5h5.1v12.2h-5.1zM625.8 1022.5h5.1v12.2h-5.1zM659.4 1022.5h5.1v12.2h-5.1zM673.8 1022.5h5.1v12.2h-5.1zM726.6 1022.5h5.1v12.2h-5.1zM736.2 1022.5h5.1v12.2h-5.1zM745.8 1022.5h5.1v12.2h-5.1zM755.4 1022.5h5.1v12.2h-5.1zM232.1 1034.4h5.1v12.2h-5.1zM251.3 1034.4h5.1v12.2h-5.1zM284.9 1034.4h14.7v12.2h-14.7zM352.1 1034.4h5.1v12.2h-5.1zM376.1 1034.4h9.9v12.2h-9.9zM429.0 1034.4h5.1v12.2h-5.1zM453.0 1034.4h5.1v12.2h-5.1zM481.8 1034.4h5.1v12.2h-5.1zM515.4 1034.4h5.1v12.2h-5.1zM611.4 1034.4h9.9v12.2h-9.9zM625.8 1034.4h5.1v12.2h-5.1zM683.4 1034.4h5.1v12.2h-5.1zM726.6 1034.4h5.1v12.2h-5.1zM741.0 1034.4h9.9v12.2h-9.9zM755.4 1034.4h5.1v12.2h-5.1zM347.3 1046.3h5.1v12.2h-5.1zM457.8 1046.3h9.9v12.2h-9.9zM477.0 1046.3h5.1v12.2h-5.1zM496.2 1046.3h5.1v12.2h-5.1zM515.4 1046.3h5.1v12.2h-5.1zM525.0 1046.3h5.1v12.2h-5.1zM558.6 1046.3h5.1v12.2h-5.1zM568.2 1046.3h19.5v12.2h-19.5zM592.2 1046.3h9.9v12.2h-9.9zM621.0 1046.3h14.7v12.2h-14.7zM669.0 1046.3h5.1v12.2h-5.1zM688.2 1046.3h5.1v12.2h-5.1zM736.2 1046.3h5.1v12.2h-5.1zM217.7 1058.3h5.1v12.2h-5.1zM457.8 1058.3h5.1v12.2h-5.1zM472.2 1058.3h5.1v12.2h-5.1zM525.0 1058.3h5.1v12.2h-5.1zM549.0 1058.3h5.1v12.2h-5.1zM558.6 1058.3h9.9v12.2h-9.9zM573.0 1058.3h5.1v12.2h-5.1zM649.8 1058.3h9.9v12.2h-9.9zM664.2 1058.3h9.9v12.2h-9.9zM683.4 1058.3h9.9v12.2h-9.9zM721.8 1058.3h5.1v12.2h-5.1zM193.7 1070.2h5.1v12.2h-5.1zM318.5 1070.2h5.1v12.2h-5.1zM448.2 1070.2h5.1v12.2h-5.1zM477.0 1070.2h5.1v12.2h-5.1zM534.6 1070.2h5.1v12.2h-5.1zM621.0 1070.2h5.1v12.2h-5.1zM654.6 1070.2h14.7v12.2h-14.7zM683.4 1070.2h5.1v12.2h-5.1zM721.8 1070.2h5.1v12.2h-5.1zM750.6 1070.2h5.1v12.2h-5.1zM208.1 1082.1h5.1v12.2h-5.1zM299.3 1082.1h9.9v12.2h-9.9zM337.7 1082.1h5.1v12.2h-5.1zM577.8 1082.1h5.1v12.2h-5.1zM601.8 1082.1h5.1v12.2h-5.1zM611.4 1082.1h5.1v12.2h-5.1zM621.0 1082.1h5.1v12.2h-5.1zM630.6 1082.1h5.1v12.2h-5.1zM678.6 1082.1h5.1v12.2h-5.1zM717.0 1082.1h5.1v12.2h-5.1zM745.8 1082.1h9.9v12.2h-9.9zM212.9 1094.0h5.1v12.2h-5.1zM304.1 1094.0h5.1v12.2h-5.1zM313.7 1094.0h5.1v12.2h-5.1zM395.3 1094.0h5.1v12.2h-5.1zM414.5 1094.0h5.1v12.2h-5.1zM520.2 1094.0h5.1v12.2h-5.1zM549.0 1094.0h5.1v12.2h-5.1zM573.0 1094.0h5.1v12.2h-5.1zM582.6 1094.0h5.1v12.2h-5.1zM616.2 1094.0h5.1v12.2h-5.1zM640.2 1094.0h5.1v12.2h-5.1zM669.0 1094.0h5.1v12.2h-5.1zM697.8 1094.0h5.1v12.2h-5.1zM726.6 1094.0h5.1v12.2h-5.1zM217.7 1105.9h5.1v12.2h-5.1zM265.7 1105.9h5.1v12.2h-5.1zM304.1 1105.9h5.1v12.2h-5.1zM318.5 1105.9h5.1v12.2h-5.1zM448.2 1105.9h5.1v12.2h-5.1zM477.0 1105.9h5.1v12.2h-5.1zM539.4 1105.9h5.1v12.2h-5.1zM582.6 1105.9h5.1v12.2h-5.1zM645.0 1105.9h5.1v12.2h-5.1zM654.6 1105.9h14.7v12.2h-14.7zM693.0 1105.9h5.1v12.2h-5.1zM707.4 1105.9h5.1v12.2h-5.1zM726.6 1105.9h5.1v12.2h-5.1zM741.0 1105.9h5.1v12.2h-5.1zM750.6 1105.9h5.1v12.2h-5.1zM212.9 1117.8h5.1v12.2h-5.1zM241.7 1117.8h5.1v12.2h-5.1zM318.5 1117.8h9.9v12.2h-9.9zM342.5 1117.8h5.1v12.2h-5.1zM395.3 1117.8h9.9v12.2h-9.9zM457.8 1117.8h14.7v12.2h-14.7zM534.6 1117.8h5.1v12.2h-5.1zM573.0 1117.8h5.1v12.2h-5.1zM601.8 1117.8h5.1v12.2h-5.1zM640.2 1117.8h9.9v12.2h-9.9zM693.0 1117.8h9.9v12.2h-9.9zM707.4 1117.8h5.1v12.2h-5.1zM726.6 1117.8h5.1v12.2h-5.1zM745.8 1117.8h5.1v12.2h-5.1zM755.4 1117.8h5.1v12.2h-5.1zM366.5 1129.8h5.1v12.2h-5.1zM385.7 1129.8h5.1v12.2h-5.1zM414.5 1129.8h5.1v12.2h-5.1zM457.8 1129.8h5.1v12.2h-5.1zM486.6 1129.8h5.1v12.2h-5.1zM573.0 1129.8h5.1v12.2h-5.1zM601.8 1129.8h5.1v12.2h-5.1zM616.2 1129.8h5.1v12.2h-5.1zM630.6 1129.8h5.1v12.2h-5.1zM640.2 1129.8h5.1v12.2h-5.1zM649.8 1129.8h5.1v12.2h-5.1zM664.2 1129.8h9.9v12.2h-9.9zM678.6 1129.8h5.1v12.2h-5.1zM693.0 1129.8h9.9v12.2h-9.9zM241.7 1141.7h5.1v12.2h-5.1zM318.5 1141.7h5.1v12.2h-5.1zM505.8 1141.7h5.1v12.2h-5.1zM520.2 1141.7h5.1v12.2h-5.1zM553.8 1141.7h5.1v12.2h-5.1zM563.4 1141.7h5.1v12.2h-5.1zM573.0 1141.7h5.1v12.2h-5.1zM616.2 1141.7h5.1v12.2h-5.1zM635.4 1141.7h5.1v12.2h-5.1zM673.8 1141.7h5.1v12.2h-5.1zM693.0 1141.7h9.9v12.2h-9.9zM707.4 1141.7h5.1v12.2h-5.1zM265.7 1153.6h5.1v12.2h-5.1zM275.3 1153.6h5.1v12.2h-5.1zM313.7 1153.6h9.9v12.2h-9.9zM448.2 1153.6h5.1v12.2h-5.1zM481.8 1153.6h5.1v12.2h-5.1zM515.4 1153.6h14.7v12.2h-14.7zM645.0 1153.6h14.7v12.2h-14.7zM669.0 1153.6h9.9v12.2h-9.9zM745.8 1153.6h9.9v12.2h-9.9zM236.9 1165.5h5.1v12.2h-5.1zM251.3 1165.5h5.1v12.2h-5.1zM342.5 1165.5h5.1v12.2h-5.1zM371.3 1165.5h5.1v12.2h-5.1zM448.2 1165.5h5.1v12.2h-5.1zM472.2 1165.5h9.9v12.2h-9.9zM505.8 1165.5h5.1v12.2h-5.1zM549.0 1165.5h5.1v12.2h-5.1zM568.2 1165.5h9.9v12.2h-9.9zM582.6 1165.5h5.1v12.2h-5.1zM616.2 1165.5h5.1v12.2h-5.1zM645.0 1165.5h5.1v12.2h-5.1zM659.4 1165.5h5.1v12.2h-5.1zM669.0 1165.5h5.1v12.2h-5.1zM707.4 1165.5h9.9v12.2h-9.9zM308.9 1177.4h5.1v12.2h-5.1zM328.1 1177.4h5.1v12.2h-5.1zM342.5 1177.4h5.1v12.2h-5.1zM390.5 1177.4h9.9v12.2h-9.9zM457.8 1177.4h9.9v12.2h-9.9zM472.2 1177.4h5.1v12.2h-5.1zM616.2 1177.4h9.9v12.2h-9.9zM649.8 1177.4h5.1v12.2h-5.1zM669.0 1177.4h5.1v12.2h-5.1zM693.0 1177.4h5.1v12.2h-5.1zM707.4 1177.4h9.9v12.2h-9.9zM755.4 1177.4h5.1v12.2h-5.1zM424.1 1189.3h5.1v12.2h-5.1zM457.8 1189.3h5.1v12.2h-5.1zM505.8 1189.3h5.1v12.2h-5.1zM515.4 1189.3h5.1v12.2h-5.1zM563.4 1189.3h5.1v12.2h-5.1zM601.8 1189.3h5.1v12.2h-5.1zM621.0 1189.3h5.1v12.2h-5.1zM697.8 1189.3h5.1v12.2h-5.1zM712.2 1189.3h5.1v12.2h-5.1zM721.8 1189.3h5.1v12.2h-5.1zM750.6 1189.3h14.7v12.2h-14.7zM308.9 1201.3h5.1v12.2h-5.1zM433.8 1201.3h5.1v12.2h-5.1zM505.8 1201.3h5.1v12.2h-5.1zM515.4 1201.3h5.1v12.2h-5.1zM563.4 1201.3h5.1v12.2h-5.1zM601.8 1201.3h5.1v12.2h-5.1zM616.2 1201.3h5.1v12.2h-5.1zM693.0 1201.3h5.1v12.2h-5.1zM717.0 1201.3h5.1v12.2h-5.1zM260.9 1213.2h5.1v12.2h-5.1zM308.9 1213.2h5.1v12.2h-5.1zM395.3 1213.2h5.1v12.2h-5.1zM424.1 1213.2h9.9v12.2h-9.9zM438.6 1213.2h5.1v12.2h-5.1zM453.0 1213.2h9.9v12.2h-9.9zM467.4 1213.2h5.1v12.2h-5.1zM510.6 1213.2h5.1v12.2h-5.1zM520.2 1213.2h5.1v12.2h-5.1zM563.4 1213.2h5.1v12.2h-5.1zM601.8 1213.2h5.1v12.2h-5.1zM611.4 1213.2h9.9v12.2h-9.9zM645.0 1213.2h5.1v12.2h-5.1zM693.0 1213.2h5.1v12.2h-5.1zM755.4 1213.2h5.1v12.2h-5.1zM222.5 1225.1h5.1v12.2h-5.1zM275.3 1225.1h5.1v12.2h-5.1zM323.3 1225.1h5.1v12.2h-5.1zM395.3 1225.1h5.1v12.2h-5.1zM424.1 1225.1h14.7v12.2h-14.7zM510.6 1225.1h5.1v12.2h-5.1zM520.2 1225.1h5.1v12.2h-5.1zM592.2 1225.1h5.1v12.2h-5.1zM630.6 1225.1h9.9v12.2h-9.9zM659.4 1225.1h5.1v12.2h-5.1zM697.8 1225.1h5.1v12.2h-5.1zM721.8 1225.1h5.1v12.2h-5.1zM755.4 1225.1h5.1v12.2h-5.1zM193.7 1237.0h5.1v12.2h-5.1zM246.5 1237.0h5.1v12.2h-5.1zM366.5 1237.0h9.9v12.2h-9.9zM433.8 1237.0h5.1v12.2h-5.1zM453.0 1237.0h5.1v12.2h-5.1zM534.6 1237.0h19.5v12.2h-19.5zM582.6 1237.0h5.1v12.2h-5.1zM597.0 1237.0h9.9v12.2h-9.9zM625.8 1237.0h5.1v12.2h-5.1zM635.4 1237.0h5.1v12.2h-5.1zM645.0 1237.0h14.7v12.2h-14.7zM664.2 1237.0h9.9v12.2h-9.9zM678.6 1237.0h5.1v12.2h-5.1zM697.8 1237.0h9.9v12.2h-9.9zM731.4 1237.0h9.9v12.2h-9.9zM745.8 1237.0h14.7v12.2h-14.7zM400.1 1248.9h5.1v12.2h-5.1zM409.7 1248.9h5.1v12.2h-5.1zM429.0 1248.9h9.9v12.2h-9.9zM443.4 1248.9h5.1v12.2h-5.1zM453.0 1248.9h5.1v12.2h-5.1zM481.8 1248.9h9.9v12.2h-9.9zM496.2 1248.9h9.9v12.2h-9.9zM563.4 1248.9h5.1v12.2h-5.1zM649.8 1248.9h5.1v12.2h-5.1zM717.0 1248.9h9.9v12.2h-9.9zM731.4 1248.9h9.9v12.2h-9.9zM241.7 1260.8h5.1v12.2h-5.1zM289.7 1260.8h5.1v12.2h-5.1zM356.9 1260.8h9.9v12.2h-9.9zM429.0 1260.8h5.1v12.2h-5.1zM443.4 1260.8h5.1v12.2h-5.1zM467.4 1260.8h5.1v12.2h-5.1zM510.6 1260.8h5.1v12.2h-5.1zM563.4 1260.8h5.1v12.2h-5.1zM582.6 1260.8h5.1v12.2h-5.1zM625.8 1260.8h5.1v12.2h-5.1zM673.8 1260.8h5.1v12.2h-5.1zM717.0 1260.8h5.1v12.2h-5.1zM726.6 1260.8h5.1v12.2h-5.1zM741.0 1260.8h5.1v12.2h-5.1zM750.6 1260.8h5.1v12.2h-5.1zM241.7 1272.8h5.1v12.2h-5.1zM356.9 1272.8h9.9v12.2h-9.9zM400.1 1272.8h5.1v12.2h-5.1zM477.0 1272.8h5.1v12.2h-5.1zM491.4 1272.8h5.1v12.2h-5.1zM501.0 1272.8h5.1v12.2h-5.1zM525.0 1272.8h5.1v12.2h-5.1zM563.4 1272.8h5.1v12.2h-5.1zM573.0 1272.8h5.1v12.2h-5.1zM582.6 1272.8h5.1v12.2h-5.1zM654.6 1272.8h14.7v12.2h-14.7zM683.4 1272.8h9.9v12.2h-9.9zM697.8 1272.8h5.1v12.2h-5.1zM726.6 1272.8h5.1v12.2h-5.1zM750.6 1272.8h5.1v12.2h-5.1zM299.3 1284.7h5.1v12.2h-5.1zM332.9 1284.7h5.1v12.2h-5.1zM429.0 1284.7h5.1v12.2h-5.1zM477.0 1284.7h5.1v12.2h-5.1zM501.0 1284.7h5.1v12.2h-5.1zM510.6 1284.7h5.1v12.2h-5.1zM549.0 1284.7h5.1v12.2h-5.1zM587.4 1284.7h5.1v12.2h-5.1zM664.2 1284.7h14.7v12.2h-14.7zM683.4 1284.7h9.9v12.2h-9.9zM717.0 1284.7h5.1v12.2h-5.1zM318.5 1296.6h5.1v12.2h-5.1zM356.9 1296.6h9.9v12.2h-9.9zM424.1 1296.6h5.1v12.2h-5.1zM433.8 1296.6h5.1v12.2h-5.1zM467.4 1296.6h5.1v12.2h-5.1zM515.4 1296.6h9.9v12.2h-9.9zM568.2 1296.6h5.1v12.2h-5.1zM577.8 1296.6h14.7v12.2h-14.7zM664.2 1296.6h9.9v12.2h-9.9zM678.6 1296.6h5.1v12.2h-5.1zM693.0 1296.6h5.1v12.2h-5.1zM717.0 1296.6h5.1v12.2h-5.1zM289.7 1308.5h5.1v12.2h-5.1zM337.7 1308.5h5.1v12.2h-5.1zM356.9 1308.5h9.9v12.2h-9.9zM467.4 1308.5h5.1v12.2h-5.1zM505.8 1308.5h5.1v12.2h-5.1zM525.0 1308.5h9.9v12.2h-9.9zM573.0 1308.5h5.1v12.2h-5.1zM601.8 1308.5h9.9v12.2h-9.9zM678.6 1308.5h5.1v12.2h-5.1zM707.4 1308.5h5.1v12.2h-5.1zM736.2 1308.5h5.1v12.2h-5.1zM236.9 1320.4h5.1v12.2h-5.1zM323.3 1320.4h5.1v12.2h-5.1zM376.1 1320.4h19.5v12.2h-19.5zM409.7 1320.4h5.1v12.2h-5.1zM438.6 1320.4h14.7v12.2h-14.7zM457.8 1320.4h5.1v12.2h-5.1zM486.6 1320.4h5.1v12.2h-5.1zM515.4 1320.4h5.1v12.2h-5.1zM568.2 1320.4h5.1v12.2h-5.1zM664.2 1320.4h5.1v12.2h-5.1zM712.2 1320.4h5.1v12.2h-5.1zM721.8 1320.4h5.1v12.2h-5.1zM741.0 1320.4h5.1v12.2h-5.1zM760.2 1320.4h5.1v12.2h-5.1zM251.3 1332.3h5.1v12.2h-5.1zM284.9 1332.3h5.1v12.2h-5.1zM299.3 1332.3h5.1v12.2h-5.1zM400.1 1332.3h5.1v12.2h-5.1zM453.0 1332.3h5.1v12.2h-5.1zM462.6 1332.3h5.1v12.2h-5.1zM472.2 1332.3h5.1v12.2h-5.1zM491.4 1332.3h5.1v12.2h-5.1zM510.6 1332.3h5.1v12.2h-5.1zM563.4 1332.3h5.1v12.2h-5.1zM582.6 1332.3h9.9v12.2h-9.9zM664.2 1332.3h9.9v12.2h-9.9zM712.2 1332.3h5.1v12.2h-5.1zM721.8 1332.3h5.1v12.2h-5.1zM731.4 1332.3h5.1v12.2h-5.1zM750.6 1332.3h5.1v12.2h-5.1zM222.5 1344.3h5.1v12.2h-5.1zM294.5 1344.3h5.1v12.2h-5.1zM304.1 1344.3h5.1v12.2h-5.1zM318.5 1344.3h9.9v12.2h-9.9zM409.7 1344.3h5.1v12.2h-5.1zM472.2 1344.3h5.1v12.2h-5.1zM563.4 1344.3h5.1v12.2h-5.1zM606.6 1344.3h9.9v12.2h-9.9zM635.4 1344.3h9.9v12.2h-9.9zM654.6 1344.3h5.1v12.2h-5.1zM688.2 1344.3h5.1v12.2h-5.1zM707.4 1344.3h5.1v12.2h-5.1zM741.0 1344.3h5.1v12.2h-5.1zM755.4 1344.3h5.1v12.2h-5.1z"/><path fill="#ffbdbd" d="M208.4 808.0h10.0v12.2h-10.0zM227.8 808.0h10.0v12.2h-10.0zM242.4 808.0h10.0v12.2h-10.0zM257.0 808.0h5.2v12.2h-5.2zM305.7 808.0h10.0v12.2h-10.0zM320.3 808.0h3.3v12.2h-3.3zM337.7 808.0h5.1v12.2h-5.1zM352.1 808.0h9.9v12.2h-9.9zM424.1 808.0h5.1v12.2h-5.1zM587.4 808.0h5.1v12.2h-5.1zM193.8 819.9h19.8v12.2h-19.8zM232.7 819.9h5.2v12.2h-5.2zM257.0 819.9h5.2v12.2h-5.2zM266.8 819.9h19.8v12.2h-19.8zM310.6 819.9h5.2v12.2h-5.2zM320.3 819.9h3.3v12.2h-3.3zM332.9 819.9h9.9v12.2h-9.9zM347.3 819.9h9.9v12.2h-9.9zM371.3 819.9h5.1v12.2h-5.1zM400.1 819.9h5.1v12.2h-5.1zM481.8 819.9h5.1v12.2h-5.1zM520.2 819.9h5.1v12.2h-5.1zM707.4 819.9h9.9v12.2h-9.9zM198.6 831.8h5.2v12.2h-5.2zM208.4 831.8h14.9v12.2h-14.9zM271.7 831.8h10.0v12.2h-10.0zM305.7 831.8h10.0v12.2h-10.0zM323.3 831.8h5.1v12.2h-5.1zM342.5 831.8h19.5v12.2h-19.5zM380.9 831.8h5.1v12.2h-5.1zM390.5 831.8h5.1v12.2h-5.1zM481.8 831.8h5.1v12.2h-5.1zM198.6 843.8h14.9v12.2h-14.9zM218.1 843.8h5.2v12.2h-5.2zM252.2 843.8h10.0v12.2h-10.0zM266.8 843.8h19.8v12.2h-19.8zM337.7 843.8h19.5v12.2h-19.5zM390.5 843.8h9.9v12.2h-9.9zM726.6 843.8h5.1v12.2h-5.1zM213.2 855.7h5.2v12.2h-5.2zM242.4 855.7h5.2v12.2h-5.2zM291.1 855.7h10.0v12.2h-10.0zM342.5 855.7h24.3v12.2h-24.3zM395.3 855.7h5.1v12.2h-5.1zM433.8 855.7h5.1v12.2h-5.1zM726.6 855.7h5.1v12.2h-5.1zM203.5 867.6h5.2v12.2h-5.2zM347.3 867.6h5.1v12.2h-5.1zM385.7 867.6h5.1v12.2h-5.1zM409.7 867.6h9.9v12.2h-9.9zM510.6 867.6h5.1v12.2h-5.1zM270.5 879.5h5.1v12.2h-5.1zM313.7 879.5h9.9v12.2h-9.9zM328.1 879.5h9.9v12.2h-9.9zM356.9 879.5h5.1v12.2h-5.1zM371.3 879.5h5.1v12.2h-5.1zM438.6 879.5h5.1v12.2h-5.1zM510.6 879.5h5.1v12.2h-5.1zM577.8 879.5h14.7v12.2h-14.7zM707.4 879.5h9.9v12.2h-9.9zM457.8 891.4h5.1v12.2h-5.1zM505.8 891.4h14.7v12.2h-14.7zM534.6 891.4h5.1v12.2h-5.1zM549.0 891.4h5.1v12.2h-5.1zM597.0 891.4h5.1v12.2h-5.1zM611.4 891.4h9.9v12.2h-9.9zM625.8 891.4h9.9v12.2h-9.9zM659.4 891.4h24.3v12.2h-24.3zM693.0 891.4h5.1v12.2h-5.1zM726.6 891.4h14.7v12.2h-14.7zM750.6 891.4h9.9v12.2h-9.9zM294.5 903.3h9.9v12.2h-9.9zM443.4 903.3h5.1v12.2h-5.1zM457.8 903.3h9.9v12.2h-9.9zM491.4 903.3h19.5v12.2h-19.5zM534.6 903.3h5.1v12.2h-5.1zM549.0 903.3h14.7v12.2h-14.7zM592.2 903.3h5.1v12.2h-5.1zM601.8 903.3h5.1v12.2h-5.1zM616.2 903.3h5.1v12.2h-5.1zM630.6 903.3h5.1v12.2h-5.1zM654.6 903.3h14.7v12.2h-14.7zM678.6 903.3h5.1v12.2h-5.1zM693.0 903.3h5.1v12.2h-5.1zM731.4 903.3h9.9v12.2h-9.9zM750.6 903.3h5.1v12.2h-5.1zM308.9 915.3h9.9v12.2h-9.9zM443.4 915.3h9.9v12.2h-9.9zM467.4 915.3h19.5v12.2h-19.5zM525.0 915.3h9.9v12.2h-9.9zM568.2 915.3h9.9v12.2h-9.9zM582.6 915.3h5.1v12.2h-5.1zM601.8 915.3h5.1v12.2h-5.1zM621.0 915.3h14.7v12.2h-14.7zM640.2 915.3h5.1v12.2h-5.1zM664.2 915.3h5.1v12.2h-5.1zM673.8 915.3h14.7v12.2h-14.7zM697.8 915.3h5.1v12.2h-5.1zM726.6 915.3h5.1v12.2h-5.1zM755.4 915.3h5.1v12.2h-5.1zM457.8 927.2h5.1v12.2h-5.1zM477.0 927.2h5.1v12.2h-5.1zM534.6 927.2h5.1v12.2h-5.1zM577.8 927.2h5.1v12.2h-5.1zM592.2 927.2h5.1v12.2h-5.1zM606.6 927.2h5.1v12.2h-5.1zM630.6 927.2h5.1v12.2h-5.1zM659.4 927.2h14.7v12.2h-14.7zM678.6 927.2h9.9v12.2h-9.9zM707.4 927.2h5.1v12.2h-5.1zM721.8 927.2h5.1v12.2h-5.1zM755.4 927.2h5.1v12.2h-5.1zM313.7 939.1h5.1v12.2h-5.1zM361.7 939.1h5.1v12.2h-5.1zM448.2 939.1h5.1v12.2h-5.1zM457.8 939.1h5.1v12.2h-5.1zM472.2 939.1h9.9v12.2h-9.9zM486.6 939.1h9.9v12.2h-9.9zM501.0 939.1h9.9v12.2h-9.9zM529.8 939.1h9.9v12.2h-9.9zM544.2 939.1h14.7v12.2h-14.7zM573.0 939.1h9.9v12.2h-9.9zM587.4 939.1h5.1v12.2h-5.1zM621.0 939.1h5.1v12.2h-5.1zM640.2 939.1h5.1v12.2h-5.1zM654.6 939.1h9.9v12.2h-9.9zM673.8 939.1h14.7v12.2h-14.7zM693.0 939.1h5.1v12.2h-5.1zM717.0 939.1h9.9v12.2h-9.9zM741.0 939.1h5.1v12.2h-5.1zM755.4 939.1h5.1v12.2h-5.1zM203.3 951.0h14.7v12.2h-14.7zM448.2 951.0h14.7v12.2h-14.7zM472.2 951.0h9.9v12.2h-9.9zM491.4 951.0h9.9v12.2h-9.9zM510.6 951.0h9.9v12.2h-9.9zM534.6 951.0h5.1v12.2h-5.1zM549.0 951.0h14.7v12.2h-14.7zM577.8 951.0h5.1v12.2h-5.1zM606.6 951.0h19.5v12.2h-19.5zM645.0 951.0h5.1v12.2h-5.1zM712.2 951.0h5.1v12.2h-5.1zM721.8 951.0h14.7v12.2h-14.7zM750.6 951.0h9.9v12.2h-9.9zM308.9 962.9h5.1v12.2h-5.1zM448.2 962.9h5.1v12.2h-5.1zM477.0 962.9h9.9v12.2h-9.9zM491.4 962.9h5.1v12.2h-5.1zM510.6 962.9h5.1v12.2h-5.1zM520.2 962.9h5.1v12.2h-5.1zM529.8 962.9h9.9v12.2h-9.9zM549.0 962.9h9.9v12.2h-9.9zM573.0 962.9h14.7v12.2h-14.7zM616.2 962.9h5.1v12.2h-5.1zM635.4 962.9h5.1v12.2h-5.1zM717.0 962.9h9.9v12.2h-9.9zM731.4 962.9h5.1v12.2h-5.1zM745.8 962.9h5.1v12.2h-5.1zM188.9 974.8h5.1v12.2h-5.1zM227.3 974.8h5.1v12.2h-5.1zM289.7 974.8h5.1v12.2h-5.1zM308.9 974.8h9.9v12.2h-9.9zM448.2 974.8h5.1v12.2h-5.1zM457.8 974.8h14.7v12.2h-14.7zM491.4 974.8h5.1v12.2h-5.1zM515.4 974.8h9.9v12.2h-9.9zM534.6 974.8h9.9v12.2h-9.9zM549.0 974.8h9.9v12.2h-9.9zM577.8 974.8h9.9v12.2h-9.9zM592.2 974.8h29.1v12.2h-29.1zM721.8 974.8h14.7v12.2h-14.7zM193.7 986.8h5.1v12.2h-5.1zM467.4 986.8h5.1v12.2h-5.1zM477.0 986.8h5.1v12.2h-5.1zM491.4 986.8h5.1v12.2h-5.1zM505.8 986.8h14.7v12.2h-14.7zM525.0 986.8h5.1v12.2h-5.1zM539.4 986.8h5.1v12.2h-5.1zM549.0 986.8h14.7v12.2h-14.7zM568.2 986.8h5.1v12.2h-5.1zM616.2 986.8h19.5v12.2h-19.5zM688.2 986.8h9.9v12.2h-9.9zM462.6 998.7h19.5v12.2h-19.5zM515.4 998.7h5.1v12.2h-5.1zM539.4 998.7h19.5v12.2h-19.5zM587.4 998.7h5.1v12.2h-5.1zM611.4 998.7h14.7v12.2h-14.7zM630.6 998.7h5.1v12.2h-5.1zM645.0 998.7h14.7v12.2h-14.7zM688.2 998.7h5.1v12.2h-5.1zM726.6 998.7h5.1v12.2h-5.1zM750.6 998.7h9.9v12.2h-9.9zM457.8 1010.6h5.1v12.2h-5.1zM467.4 1010.6h14.7v12.2h-14.7zM491.4 1010.6h5.1v12.2h-5.1zM501.0 1010.6h14.7v12.2h-14.7zM553.8 1010.6h5.1v12.2h-5.1zM606.6 1010.6h5.1v12.2h-5.1zM616.2 1010.6h9.9v12.2h-9.9zM649.8 1010.6h5.1v12.2h-5.1zM683.4 1010.6h9.9v12.2h-9.9zM721.8 1010.6h19.5v12.2h-19.5zM284.9 1022.5h19.5v12.2h-19.5zM429.0 1022.5h5.1v12.2h-5.1zM448.2 1022.5h9.9v12.2h-9.9zM462.6 1022.5h5.1v12.2h-5.1zM486.6 1022.5h5.1v12.2h-5.1zM515.4 1022.5h14.7v12.2h-14.7zM534.6 1022.5h5.1v12.2h-5.1zM592.2 1022.5h9.9v12.2h-9.9zM645.0 1022.5h14.7v12.2h-14.7zM688.2 1022.5h5.1v12.2h-5.1zM721.8 1022.5h5.1v12.2h-5.1zM731.4 1022.5h5.1v12.2h-5.1zM741.0 1022.5h5.1v12.2h-5.1zM222.5 1034.4h5.1v12.2h-5.1zM323.3 1034.4h5.1v12.2h-5.1zM404.9 1034.4h14.7v12.2h-14.7zM525.0 1034.4h9.9v12.2h-9.9zM597.0 1034.4h5.1v12.2h-5.1zM621.0 1034.4h5.1v12.2h-5.1zM669.0 1034.4h5.1v12.2h-5.1zM688.2 1034.4h5.1v12.2h-5.1zM712.2 1034.4h9.9v12.2h-9.9zM731.4 1034.4h5.1v12.2h-5.1zM193.7 1046.3h5.1v12.2h-5.1zM549.0 1046.3h9.9v12.2h-9.9zM606.6 1046.3h14.7v12.2h-14.7zM635.4 1046.3h24.3v12.2h-24.3zM664.2 1046.3h5.1v12.2h-5.1zM693.0 1046.3h5.1v12.2h-5.1zM702.6 1046.3h14.7v12.2h-14.7zM726.6 1046.3h9.9v12.2h-9.9zM193.7 1058.3h5.1v12.2h-5.1zM462.6 1058.3h5.1v12.2h-5.1zM477.0 1058.3h5.1v12.2h-5.1zM611.4 1058.3h9.9v12.2h-9.9zM640.2 1058.3h9.9v12.2h-9.9zM693.0 1058.3h5.1v12.2h-5.1zM702.6 1058.3h5.1v12.2h-5.1zM726.6 1058.3h5.1v12.2h-5.1zM736.2 1058.3h9.9v12.2h-9.9zM217.7 1070.2h5.1v12.2h-5.1zM256.1 1070.2h5.1v12.2h-5.1zM299.3 1070.2h5.1v12.2h-5.1zM400.1 1070.2h5.1v12.2h-5.1zM429.0 1070.2h14.7v12.2h-14.7zM491.4 1070.2h9.9v12.2h-9.9zM582.6 1070.2h9.9v12.2h-9.9zM688.2 1070.2h9.9v12.2h-9.9zM707.4 1070.2h5.1v12.2h-5.1zM318.5 1082.1h5.1v12.2h-5.1zM467.4 1082.1h9.9v12.2h-9.9zM501.0 1082.1h5.1v12.2h-5.1zM539.4 1082.1h5.1v12.2h-5.1zM640.2 1082.1h5.1v12.2h-5.1zM669.0 1082.1h5.1v12.2h-5.1zM721.8 1082.1h5.1v12.2h-5.1zM217.7 1094.0h5.1v12.2h-5.1zM400.1 1094.0h5.1v12.2h-5.1zM419.3 1094.0h5.1v12.2h-5.1zM448.2 1094.0h14.7v12.2h-14.7zM491.4 1094.0h5.1v12.2h-5.1zM501.0 1094.0h5.1v12.2h-5.1zM510.6 1094.0h9.9v12.2h-9.9zM534.6 1094.0h14.7v12.2h-14.7zM553.8 1094.0h9.9v12.2h-9.9zM597.0 1094.0h5.1v12.2h-5.1zM625.8 1094.0h5.1v12.2h-5.1zM645.0 1094.0h5.1v12.2h-5.1zM673.8 1094.0h5.1v12.2h-5.1zM707.4 1094.0h5.1v12.2h-5.1zM721.8 1094.0h5.1v12.2h-5.1zM741.0 1094.0h5.1v12.2h-5.1zM750.6 1094.0h9.9v12.2h-9.9zM308.9 1105.9h5.1v12.2h-5.1zM453.0 1105.9h9.9v12.2h-9.9zM481.8 1105.9h5.1v12.2h-5.1zM515.4 1105.9h5.1v12.2h-5.1zM534.6 1105.9h5.1v12.2h-5.1zM553.8 1105.9h9.9v12.2h-9.9zM606.6 1105.9h14.7v12.2h-14.7zM625.8 1105.9h14.7v12.2h-14.7zM669.0 1105.9h5.1v12.2h-5.1zM678.6 1105.9h5.1v12.2h-5.1zM688.2 1105.9h5.1v12.2h-5.1zM721.8 1105.9h5.1v12.2h-5.1zM731.4 1105.9h9.9v12.2h-9.9zM755.4 1105.9h5.1v12.2h-5.1zM308.9 1117.8h5.1v12.2h-5.1zM453.0 1117.8h5.1v12.2h-5.1zM472.2 1117.8h9.9v12.2h-9.9zM491.4 1117.8h5.1v12.2h-5.1zM501.0 1117.8h5.1v12.2h-5.1zM510.6 1117.8h5.1v12.2h-5.1zM539.4 1117.8h5.1v12.2h-5.1zM549.0 1117.8h9.9v12.2h-9.9zM563.4 1117.8h5.1v12.2h-5.1zM664.2 1117.8h5.1v12.2h-5.1zM678.6 1117.8h5.1v12.2h-5.1zM721.8 1117.8h5.1v12.2h-5.1zM731.4 1117.8h14.7v12.2h-14.7zM241.7 1129.8h5.1v12.2h-5.1zM304.1 1129.8h9.9v12.2h-9.9zM448.2 1129.8h9.9v12.2h-9.9zM477.0 1129.8h5.1v12.2h-5.1zM491.4 1129.8h9.9v12.2h-9.9zM505.8 1129.8h9.9v12.2h-9.9zM520.2 1129.8h9.9v12.2h-9.9zM553.8 1129.8h9.9v12.2h-9.9zM597.0 1129.8h5.1v12.2h-5.1zM606.6 1129.8h5.1v12.2h-5.1zM654.6 1129.8h5.1v12.2h-5.1zM453.0 1141.7h5.1v12.2h-5.1zM467.4 1141.7h5.1v12.2h-5.1zM477.0 1141.7h5.1v12.2h-5.1zM491.4 1141.7h5.1v12.2h-5.1zM549.0 1141.7h5.1v12.2h-5.1zM587.4 1141.7h9.9v12.2h-9.9zM601.8 1141.7h5.1v12.2h-5.1zM621.0 1141.7h5.1v12.2h-5.1zM645.0 1141.7h19.5v12.2h-19.5zM669.0 1141.7h5.1v12.2h-5.1zM678.6 1141.7h5.1v12.2h-5.1zM717.0 1141.7h5.1v12.2h-5.1zM308.9 1153.6h5.1v12.2h-5.1zM390.5 1153.6h5.1v12.2h-5.1zM429.0 1153.6h9.9v12.2h-9.9zM558.6 1153.6h5.1v12.2h-5.1zM606.6 1153.6h19.5v12.2h-19.5zM659.4 1153.6h5.1v12.2h-5.1zM678.6 1153.6h9.9v12.2h-9.9zM693.0 1153.6h14.7v12.2h-14.7zM755.4 1153.6h5.1v12.2h-5.1zM260.9 1165.5h9.9v12.2h-9.9zM366.5 1165.5h5.1v12.2h-5.1zM457.8 1165.5h14.7v12.2h-14.7zM496.2 1165.5h5.1v12.2h-5.1zM515.4 1165.5h9.9v12.2h-9.9zM601.8 1165.5h5.1v12.2h-5.1zM621.0 1165.5h5.1v12.2h-5.1zM649.8 1165.5h5.1v12.2h-5.1zM673.8 1165.5h14.7v12.2h-14.7zM697.8 1165.5h5.1v12.2h-5.1zM717.0 1165.5h5.1v12.2h-5.1zM755.4 1165.5h9.9v12.2h-9.9zM323.3 1177.4h5.1v12.2h-5.1zM424.1 1177.4h5.1v12.2h-5.1zM438.6 1177.4h5.1v12.2h-5.1zM448.2 1177.4h9.9v12.2h-9.9zM477.0 1177.4h5.1v12.2h-5.1zM496.2 1177.4h5.1v12.2h-5.1zM505.8 1177.4h19.5v12.2h-19.5zM563.4 1177.4h9.9v12.2h-9.9zM645.0 1177.4h5.1v12.2h-5.1zM678.6 1177.4h9.9v12.2h-9.9zM726.6 1177.4h5.1v12.2h-5.1zM308.9 1189.3h5.1v12.2h-5.1zM429.0 1189.3h5.1v12.2h-5.1zM448.2 1189.3h5.1v12.2h-5.1zM481.8 1189.3h5.1v12.2h-5.1zM606.6 1189.3h5.1v12.2h-5.1zM616.2 1189.3h5.1v12.2h-5.1zM645.0 1189.3h24.3v12.2h-24.3zM693.0 1189.3h5.1v12.2h-5.1zM717.0 1189.3h5.1v12.2h-5.1zM726.6 1189.3h19.5v12.2h-19.5zM429.0 1201.3h5.1v12.2h-5.1zM457.8 1201.3h9.9v12.2h-9.9zM472.2 1201.3h5.1v12.2h-5.1zM481.8 1201.3h5.1v12.2h-5.1zM491.4 1201.3h5.1v12.2h-5.1zM501.0 1201.3h5.1v12.2h-5.1zM573.0 1201.3h5.1v12.2h-5.1zM606.6 1201.3h5.1v12.2h-5.1zM625.8 1201.3h9.9v12.2h-9.9zM654.6 1201.3h5.1v12.2h-5.1zM669.0 1201.3h5.1v12.2h-5.1zM683.4 1201.3h5.1v12.2h-5.1zM697.8 1201.3h5.1v12.2h-5.1zM731.4 1201.3h9.9v12.2h-9.9zM448.2 1213.2h5.1v12.2h-5.1zM477.0 1213.2h14.7v12.2h-14.7zM505.8 1213.2h5.1v12.2h-5.1zM515.4 1213.2h5.1v12.2h-5.1zM549.0 1213.2h5.1v12.2h-5.1zM558.6 1213.2h5.1v12.2h-5.1zM573.0 1213.2h5.1v12.2h-5.1zM606.6 1213.2h5.1v12.2h-5.1zM649.8 1213.2h5.1v12.2h-5.1zM664.2 1213.2h9.9v12.2h-9.9zM683.4 1213.2h5.1v12.2h-5.1zM697.8 1213.2h5.1v12.2h-5.1zM712.2 1213.2h9.9v12.2h-9.9zM726.6 1213.2h19.5v12.2h-19.5zM448.2 1225.1h9.9v12.2h-9.9zM477.0 1225.1h19.5v12.2h-19.5zM505.8 1225.1h5.1v12.2h-5.1zM515.4 1225.1h5.1v12.2h-5.1zM544.2 1225.1h9.9v12.2h-9.9zM563.4 1225.1h5.1v12.2h-5.1zM573.0 1225.1h5.1v12.2h-5.1zM597.0 1225.1h33.9v12.2h-33.9zM645.0 1225.1h14.7v12.2h-14.7zM669.0 1225.1h5.1v12.2h-5.1zM678.6 1225.1h5.1v12.2h-5.1zM693.0 1225.1h5.1v12.2h-5.1zM750.6 1225.1h5.1v12.2h-5.1zM304.1 1237.0h5.1v12.2h-5.1zM414.5 1237.0h5.1v12.2h-5.1zM472.2 1237.0h5.1v12.2h-5.1zM501.0 1237.0h5.1v12.2h-5.1zM510.6 1237.0h5.1v12.2h-5.1zM520.2 1237.0h5.1v12.2h-5.1zM553.8 1237.0h5.1v12.2h-5.1zM606.6 1237.0h5.1v12.2h-5.1zM616.2 1237.0h5.1v12.2h-5.1zM630.6 1237.0h5.1v12.2h-5.1zM683.4 1237.0h5.1v12.2h-5.1zM707.4 1237.0h24.3v12.2h-24.3zM304.1 1248.9h5.1v12.2h-5.1zM457.8 1248.9h24.3v12.2h-24.3zM510.6 1248.9h5.1v12.2h-5.1zM573.0 1248.9h5.1v12.2h-5.1zM592.2 1248.9h5.1v12.2h-5.1zM606.6 1248.9h14.7v12.2h-14.7zM625.8 1248.9h5.1v12.2h-5.1zM659.4 1248.9h14.7v12.2h-14.7zM688.2 1248.9h5.1v12.2h-5.1zM726.6 1248.9h5.1v12.2h-5.1zM741.0 1248.9h9.9v12.2h-9.9zM198.5 1260.8h5.1v12.2h-5.1zM222.5 1260.8h5.1v12.2h-5.1zM265.7 1260.8h19.5v12.2h-19.5zM352.1 1260.8h5.1v12.2h-5.1zM472.2 1260.8h19.5v12.2h-19.5zM534.6 1260.8h5.1v12.2h-5.1zM549.0 1260.8h5.1v12.2h-5.1zM573.0 1260.8h5.1v12.2h-5.1zM621.0 1260.8h5.1v12.2h-5.1zM649.8 1260.8h5.1v12.2h-5.1zM755.4 1260.8h5.1v12.2h-5.1zM208.1 1272.8h5.1v12.2h-5.1zM275.3 1272.8h5.1v12.2h-5.1zM313.7 1272.8h5.1v12.2h-5.1zM342.5 1272.8h14.7v12.2h-14.7zM433.8 1272.8h5.1v12.2h-5.1zM611.4 1272.8h5.1v12.2h-5.1zM669.0 1272.8h14.7v12.2h-14.7zM717.0 1272.8h9.9v12.2h-9.9zM731.4 1272.8h5.1v12.2h-5.1zM755.4 1272.8h5.1v12.2h-5.1zM467.4 1284.7h9.9v12.2h-9.9zM481.8 1284.7h5.1v12.2h-5.1zM515.4 1284.7h5.1v12.2h-5.1zM568.2 1284.7h14.7v12.2h-14.7zM649.8 1284.7h5.1v12.2h-5.1zM659.4 1284.7h5.1v12.2h-5.1zM678.6 1284.7h5.1v12.2h-5.1zM693.0 1284.7h5.1v12.2h-5.1zM721.8 1284.7h24.3v12.2h-24.3zM750.6 1284.7h5.1v12.2h-5.1zM342.5 1296.6h5.1v12.2h-5.1zM352.1 1296.6h5.1v12.2h-5.1zM448.2 1296.6h9.9v12.2h-9.9zM462.6 1296.6h5.1v12.2h-5.1zM472.2 1296.6h24.3v12.2h-24.3zM501.0 1296.6h5.1v12.2h-5.1zM525.0 1296.6h9.9v12.2h-9.9zM721.8 1296.6h24.3v12.2h-24.3zM750.6 1296.6h5.1v12.2h-5.1zM472.2 1308.5h24.3v12.2h-24.3zM501.0 1308.5h5.1v12.2h-5.1zM510.6 1308.5h5.1v12.2h-5.1zM539.4 1308.5h14.7v12.2h-14.7zM664.2 1308.5h14.7v12.2h-14.7zM683.4 1308.5h5.1v12.2h-5.1zM693.0 1308.5h5.1v12.2h-5.1zM289.7 1320.4h5.1v12.2h-5.1zM299.3 1320.4h5.1v12.2h-5.1zM347.3 1320.4h5.1v12.2h-5.1zM366.5 1320.4h5.1v12.2h-5.1zM404.9 1320.4h5.1v12.2h-5.1zM424.1 1320.4h9.9v12.2h-9.9zM525.0 1320.4h5.1v12.2h-5.1zM606.6 1320.4h14.7v12.2h-14.7zM635.4 1320.4h5.1v12.2h-5.1zM649.8 1320.4h5.1v12.2h-5.1zM659.4 1320.4h5.1v12.2h-5.1zM669.0 1320.4h29.1v12.2h-29.1zM717.0 1320.4h5.1v12.2h-5.1zM731.4 1320.4h9.9v12.2h-9.9zM198.5 1332.3h5.1v12.2h-5.1zM323.3 1332.3h9.9v12.2h-9.9zM361.7 1332.3h5.1v12.2h-5.1zM376.1 1332.3h5.1v12.2h-5.1zM395.3 1332.3h5.1v12.2h-5.1zM419.3 1332.3h9.9v12.2h-9.9zM467.4 1332.3h5.1v12.2h-5.1zM486.6 1332.3h5.1v12.2h-5.1zM525.0 1332.3h5.1v12.2h-5.1zM553.8 1332.3h5.1v12.2h-5.1zM606.6 1332.3h9.9v12.2h-9.9zM635.4 1332.3h9.9v12.2h-9.9zM654.6 1332.3h5.1v12.2h-5.1zM673.8 1332.3h5.1v12.2h-5.1zM683.4 1332.3h14.7v12.2h-14.7zM707.4 1332.3h5.1v12.2h-5.1zM736.2 1332.3h9.9v12.2h-9.9zM299.3 1344.3h5.1v12.2h-5.1zM337.7 1344.3h5.1v12.2h-5.1zM443.4 1344.3h14.7v12.2h-14.7zM462.6 1344.3h5.1v12.2h-5.1zM481.8 1344.3h14.7v12.2h-14.7zM501.0 1344.3h5.1v12.2h-5.1zM510.6 1344.3h5.1v12.2h-5.1zM544.2 1344.3h5.1v12.2h-5.1zM625.8 1344.3h9.9v12.2h-9.9zM645.0 1344.3h9.9v12.2h-9.9zM697.8 1344.3h5.1v12.2h-5.1zM717.0 1344.3h5.1v12.2h-5.1zM731.4 1344.3h5.1v12.2h-5.1z"/><path fill="#ff5757" d="M223.0 808.0h5.2v12.2h-5.2zM261.9 808.0h5.2v12.2h-5.2zM347.3 808.0h5.1v12.2h-5.1zM286.3 819.9h5.2v12.2h-5.2zM286.3 831.8h5.2v12.2h-5.2zM419.3 831.8h5.1v12.2h-5.1zM213.2 843.8h5.2v12.2h-5.2zM232.7 843.8h10.0v12.2h-10.0zM320.3 843.8h3.3v12.2h-3.3zM257.0 855.7h5.2v12.2h-5.2zM188.9 867.6h5.2v12.2h-5.2zM208.4 867.6h5.2v12.2h-5.2zM223.0 867.6h5.2v12.2h-5.2zM237.6 867.6h5.2v12.2h-5.2zM342.5 867.6h5.1v12.2h-5.1zM342.5 879.5h9.9v12.2h-9.9zM376.1 879.5h5.1v12.2h-5.1zM385.7 879.5h5.1v12.2h-5.1zM409.7 879.5h5.1v12.2h-5.1zM433.8 879.5h5.1v12.2h-5.1zM525.0 891.4h9.9v12.2h-9.9zM577.8 891.4h5.1v12.2h-5.1zM529.8 903.3h5.1v12.2h-5.1zM621.0 903.3h5.1v12.2h-5.1zM640.2 903.3h5.1v12.2h-5.1zM721.8 903.3h5.1v12.2h-5.1zM462.6 915.3h5.1v12.2h-5.1zM611.4 915.3h5.1v12.2h-5.1zM539.4 927.2h9.9v12.2h-9.9zM640.2 927.2h5.1v12.2h-5.1zM731.4 927.2h5.1v12.2h-5.1zM731.4 939.1h9.9v12.2h-9.9zM745.8 939.1h5.1v12.2h-5.1zM313.7 962.9h5.1v12.2h-5.1zM462.6 962.9h5.1v12.2h-5.1zM611.4 962.9h5.1v12.2h-5.1zM649.8 962.9h5.1v12.2h-5.1zM649.8 974.8h5.1v12.2h-5.1zM486.6 986.8h5.1v12.2h-5.1zM702.6 998.7h5.1v12.2h-5.1zM659.4 1010.6h5.1v12.2h-5.1zM702.6 1010.6h9.9v12.2h-9.9zM745.8 1010.6h5.1v12.2h-5.1zM630.6 1022.5h5.1v12.2h-5.1zM702.6 1022.5h9.9v12.2h-9.9zM750.6 1022.5h5.1v12.2h-5.1zM573.0 1034.4h9.9v12.2h-9.9zM587.4 1034.4h5.1v12.2h-5.1zM702.6 1034.4h5.1v12.2h-5.1zM750.6 1034.4h5.1v12.2h-5.1zM438.6 1046.3h5.1v12.2h-5.1zM678.6 1046.3h5.1v12.2h-5.1zM438.6 1058.3h5.1v12.2h-5.1zM486.6 1058.3h5.1v12.2h-5.1zM587.4 1058.3h5.1v12.2h-5.1zM678.6 1058.3h5.1v12.2h-5.1zM731.4 1058.3h5.1v12.2h-5.1zM745.8 1058.3h5.1v12.2h-5.1zM304.1 1070.2h5.1v12.2h-5.1zM366.5 1070.2h5.1v12.2h-5.1zM453.0 1070.2h5.1v12.2h-5.1zM501.0 1070.2h5.1v12.2h-5.1zM529.8 1070.2h5.1v12.2h-5.1zM601.8 1070.2h5.1v12.2h-5.1zM616.2 1070.2h5.1v12.2h-5.1zM630.6 1070.2h5.1v12.2h-5.1zM640.2 1070.2h5.1v12.2h-5.1zM678.6 1070.2h5.1v12.2h-5.1zM529.8 1082.1h5.1v12.2h-5.1zM563.4 1082.1h5.1v12.2h-5.1zM587.4 1082.1h5.1v12.2h-5.1zM707.4 1082.1h9.9v12.2h-9.9zM438.6 1094.0h5.1v12.2h-5.1zM563.4 1094.0h5.1v12.2h-5.1zM630.6 1094.0h5.1v12.2h-5.1zM433.8 1105.9h5.1v12.2h-5.1zM529.8 1105.9h5.1v12.2h-5.1zM587.4 1105.9h5.1v12.2h-5.1zM745.8 1105.9h5.1v12.2h-5.1zM438.6 1117.8h5.1v12.2h-5.1zM481.8 1117.8h9.9v12.2h-9.9zM597.0 1117.8h5.1v12.2h-5.1zM621.0 1117.8h5.1v12.2h-5.1zM750.6 1117.8h5.1v12.2h-5.1zM621.0 1129.8h5.1v12.2h-5.1zM304.1 1141.7h5.1v12.2h-5.1zM462.6 1141.7h5.1v12.2h-5.1zM534.6 1141.7h14.7v12.2h-14.7zM558.6 1141.7h5.1v12.2h-5.1zM611.4 1141.7h5.1v12.2h-5.1zM702.6 1141.7h5.1v12.2h-5.1zM304.1 1153.6h5.1v12.2h-5.1zM457.8 1153.6h5.1v12.2h-5.1zM501.0 1153.6h5.1v12.2h-5.1zM534.6 1153.6h14.7v12.2h-14.7zM736.2 1153.6h9.9v12.2h-9.9zM760.2 1153.6h5.1v12.2h-5.1zM529.8 1165.5h9.9v12.2h-9.9zM544.2 1165.5h5.1v12.2h-5.1zM553.8 1165.5h5.1v12.2h-5.1zM577.8 1165.5h5.1v12.2h-5.1zM640.2 1165.5h5.1v12.2h-5.1zM741.0 1165.5h5.1v12.2h-5.1zM587.4 1177.4h5.1v12.2h-5.1zM611.4 1177.4h5.1v12.2h-5.1zM630.6 1177.4h5.1v12.2h-5.1zM640.2 1177.4h5.1v12.2h-5.1zM525.0 1189.3h9.9v12.2h-9.9zM539.4 1189.3h9.9v12.2h-9.9zM553.8 1189.3h9.9v12.2h-9.9zM577.8 1189.3h14.7v12.2h-14.7zM745.8 1189.3h5.1v12.2h-5.1zM525.0 1201.3h9.9v12.2h-9.9zM539.4 1201.3h9.9v12.2h-9.9zM553.8 1201.3h9.9v12.2h-9.9zM582.6 1201.3h9.9v12.2h-9.9zM721.8 1201.3h5.1v12.2h-5.1zM745.8 1201.3h5.1v12.2h-5.1zM472.2 1213.2h5.1v12.2h-5.1zM496.2 1213.2h5.1v12.2h-5.1zM577.8 1213.2h5.1v12.2h-5.1zM587.4 1213.2h5.1v12.2h-5.1zM721.8 1213.2h5.1v12.2h-5.1zM472.2 1225.1h5.1v12.2h-5.1zM587.4 1225.1h5.1v12.2h-5.1zM707.4 1225.1h9.9v12.2h-9.9zM467.4 1237.0h5.1v12.2h-5.1zM577.8 1237.0h5.1v12.2h-5.1zM592.2 1237.0h5.1v12.2h-5.1zM611.4 1237.0h5.1v12.2h-5.1zM448.2 1248.9h5.1v12.2h-5.1zM529.8 1248.9h5.1v12.2h-5.1zM539.4 1248.9h9.9v12.2h-9.9zM587.4 1248.9h5.1v12.2h-5.1zM673.8 1248.9h5.1v12.2h-5.1zM529.8 1260.8h5.1v12.2h-5.1zM539.4 1260.8h9.9v12.2h-9.9zM568.2 1260.8h5.1v12.2h-5.1zM587.4 1260.8h5.1v12.2h-5.1zM669.0 1260.8h5.1v12.2h-5.1zM707.4 1260.8h9.9v12.2h-9.9zM188.9 1272.8h5.1v12.2h-5.1zM453.0 1272.8h9.9v12.2h-9.9zM597.0 1272.8h9.9v12.2h-9.9zM616.2 1272.8h5.1v12.2h-5.1zM630.6 1272.8h5.1v12.2h-5.1zM645.0 1272.8h5.1v12.2h-5.1zM707.4 1272.8h9.9v12.2h-9.9zM443.4 1284.7h5.1v12.2h-5.1zM453.0 1284.7h14.7v12.2h-14.7zM592.2 1284.7h5.1v12.2h-5.1zM443.4 1296.6h5.1v12.2h-5.1zM592.2 1296.6h5.1v12.2h-5.1zM616.2 1296.6h19.5v12.2h-19.5zM640.2 1296.6h9.9v12.2h-9.9zM654.6 1296.6h5.1v12.2h-5.1zM553.8 1308.5h5.1v12.2h-5.1zM577.8 1308.5h5.1v12.2h-5.1zM587.4 1308.5h9.9v12.2h-9.9zM616.2 1308.5h19.5v12.2h-19.5zM640.2 1308.5h9.9v12.2h-9.9zM654.6 1308.5h9.9v12.2h-9.9zM755.4 1308.5h5.1v12.2h-5.1zM534.6 1320.4h5.1v12.2h-5.1zM592.2 1320.4h5.1v12.2h-5.1zM592.2 1332.3h5.1v12.2h-5.1zM745.8 1332.3h5.1v12.2h-5.1zM755.4 1332.3h5.1v12.2h-5.1zM496.2 1344.3h5.1v12.2h-5.1zM520.2 1344.3h9.9v12.2h-9.9zM534.6 1344.3h9.9v12.2h-9.9zM597.0 1344.3h9.9v12.2h-9.9z"/><path fill="#ff0000" d="M281.4 808.0h5.2v12.2h-5.2zM223.0 855.7h5.2v12.2h-5.2zM193.8 867.6h5.2v12.2h-5.2zM300.9 867.6h5.2v12.2h-5.2zM448.2 891.4h5.1v12.2h-5.1zM486.6 903.3h5.1v12.2h-5.1zM486.6 915.3h5.1v12.2h-5.1zM486.6 927.2h5.1v12.2h-5.1zM712.2 939.1h5.1v12.2h-5.1zM486.6 951.0h5.1v12.2h-5.1zM486.6 962.9h5.1v12.2h-5.1zM486.6 974.8h5.1v12.2h-5.1zM443.4 986.8h5.1v12.2h-5.1zM443.4 998.7h5.1v12.2h-5.1zM486.6 998.7h5.1v12.2h-5.1zM443.4 1010.6h5.1v12.2h-5.1zM486.6 1010.6h5.1v12.2h-5.1zM438.6 1034.4h5.1v12.2h-5.1zM587.4 1046.3h5.1v12.2h-5.1zM438.6 1105.9h5.1v12.2h-5.1zM462.6 1105.9h5.1v12.2h-5.1zM563.4 1105.9h5.1v12.2h-5.1zM486.6 1141.7h5.1v12.2h-5.1zM640.2 1141.7h5.1v12.2h-5.1zM529.8 1153.6h5.1v12.2h-5.1zM400.1 1165.5h5.1v12.2h-5.1zM501.0 1165.5h5.1v12.2h-5.1zM721.8 1177.4h5.1v12.2h-5.1zM741.0 1177.4h5.1v12.2h-5.1zM597.0 1189.3h5.1v12.2h-5.1zM597.0 1201.3h5.1v12.2h-5.1zM597.0 1213.2h5.1v12.2h-5.1zM760.2 1237.0h5.1v12.2h-5.1zM448.2 1260.8h5.1v12.2h-5.1zM630.6 1260.8h5.1v12.2h-5.1zM448.2 1272.8h5.1v12.2h-5.1zM568.2 1272.8h5.1v12.2h-5.1zM587.4 1320.4h5.1v12.2h-5.1zM745.8 1344.3h5.1v12.2h-5.1zM760.2 1344.3h5.1v12.2h-5.1z"/><path fill="#e2e2f0" d="M300.9 808.0h5.2v12.2h-5.2zM342.5 808.0h5.1v12.2h-5.1zM366.5 808.0h5.1v12.2h-5.1zM376.1 808.0h5.1v12.2h-5.1zM472.2 808.0h5.1v12.2h-5.1zM481.8 808.0h5.1v12.2h-5.1zM505.8 808.0h5.1v12.2h-5.1zM534.6 808.0h5.1v12.2h-5.1zM553.8 808.0h5.1v12.2h-5.1zM573.0 808.0h5.1v12.2h-5.1zM601.8 808.0h9.9v12.2h-9.9zM635.4 808.0h5.1v12.2h-5.1zM645.0 808.0h5.1v12.2h-5.1zM659.4 808.0h5.1v12.2h-5.1zM688.2 808.0h9.9v12.2h-9.9zM721.8 808.0h5.1v12.2h-5.1zM731.4 808.0h19.5v12.2h-19.5zM380.9 819.9h5.1v12.2h-5.1zM390.5 819.9h5.1v12.2h-5.1zM467.4 819.9h14.7v12.2h-14.7zM501.0 819.9h5.1v12.2h-5.1zM568.2 819.9h9.9v12.2h-9.9zM582.6 819.9h9.9v12.2h-9.9zM659.4 819.9h5.1v12.2h-5.1zM683.4 819.9h5.1v12.2h-5.1zM702.6 819.9h5.1v12.2h-5.1zM717.0 819.9h14.7v12.2h-14.7zM736.2 819.9h9.9v12.2h-9.9zM242.4 831.8h5.2v12.2h-5.2zM281.4 831.8h5.2v12.2h-5.2zM291.1 831.8h5.2v12.2h-5.2zM337.7 831.8h5.1v12.2h-5.1zM376.1 831.8h5.1v12.2h-5.1zM395.3 831.8h5.1v12.2h-5.1zM404.9 831.8h5.1v12.2h-5.1zM429.0 831.8h5.1v12.2h-5.1zM453.0 831.8h14.7v12.2h-14.7zM472.2 831.8h5.1v12.2h-5.1zM505.8 831.8h5.1v12.2h-5.1zM563.4 831.8h5.1v12.2h-5.1zM635.4 831.8h5.1v12.2h-5.1zM645.0 831.8h9.9v12.2h-9.9zM659.4 831.8h5.1v12.2h-5.1zM721.8 831.8h14.7v12.2h-14.7zM741.0 831.8h9.9v12.2h-9.9zM385.7 843.8h5.1v12.2h-5.1zM409.7 843.8h5.1v12.2h-5.1zM467.4 843.8h5.1v12.2h-5.1zM534.6 843.8h5.1v12.2h-5.1zM553.8 843.8h5.1v12.2h-5.1zM568.2 843.8h9.9v12.2h-9.9zM616.2 843.8h9.9v12.2h-9.9zM688.2 843.8h9.9v12.2h-9.9zM702.6 843.8h24.3v12.2h-24.3zM741.0 843.8h5.1v12.2h-5.1zM310.6 855.7h5.2v12.2h-5.2zM376.1 855.7h5.1v12.2h-5.1zM409.7 855.7h5.1v12.2h-5.1zM481.8 855.7h5.1v12.2h-5.1zM534.6 855.7h5.1v12.2h-5.1zM568.2 855.7h5.1v12.2h-5.1zM597.0 855.7h5.1v12.2h-5.1zM621.0 855.7h5.1v12.2h-5.1zM649.8 855.7h5.1v12.2h-5.1zM678.6 855.7h5.1v12.2h-5.1zM702.6 855.7h5.1v12.2h-5.1zM721.8 855.7h5.1v12.2h-5.1zM741.0 855.7h5.1v12.2h-5.1zM315.5 867.6h5.2v12.2h-5.2zM337.7 867.6h5.1v12.2h-5.1zM462.6 867.6h14.7v12.2h-14.7zM501.0 867.6h5.1v12.2h-5.1zM525.0 867.6h9.9v12.2h-9.9zM558.6 867.6h5.1v12.2h-5.1zM573.0 867.6h5.1v12.2h-5.1zM621.0 867.6h9.9v12.2h-9.9zM654.6 867.6h19.5v12.2h-19.5zM678.6 867.6h9.9v12.2h-9.9zM693.0 867.6h5.1v12.2h-5.1zM717.0 867.6h5.1v12.2h-5.1zM741.0 867.6h5.1v12.2h-5.1zM203.3 879.5h5.1v12.2h-5.1zM222.5 879.5h5.1v12.2h-5.1zM232.1 879.5h5.1v12.2h-5.1zM241.7 879.5h5.1v12.2h-5.1zM256.1 879.5h14.7v12.2h-14.7zM289.7 879.5h5.1v12.2h-5.1zM352.1 879.5h5.1v12.2h-5.1zM467.4 879.5h5.1v12.2h-5.1zM491.4 879.5h9.9v12.2h-9.9zM505.8 879.5h5.1v12.2h-5.1zM544.2 879.5h5.1v12.2h-5.1zM563.4 879.5h5.1v12.2h-5.1zM616.2 879.5h5.1v12.2h-5.1zM640.2 879.5h5.1v12.2h-5.1zM649.8 879.5h19.5v12.2h-19.5zM693.0 879.5h5.1v12.2h-5.1zM721.8 879.5h5.1v12.2h-5.1zM736.2 879.5h5.1v12.2h-5.1zM750.6 879.5h5.1v12.2h-5.1zM203.3 891.4h5.1v12.2h-5.1zM241.7 891.4h5.1v12.2h-5.1zM284.9 891.4h5.1v12.2h-5.1zM299.3 891.4h5.1v12.2h-5.1zM308.9 891.4h5.1v12.2h-5.1zM328.1 891.4h5.1v12.2h-5.1zM337.7 891.4h5.1v12.2h-5.1zM356.9 891.4h5.1v12.2h-5.1zM395.3 891.4h5.1v12.2h-5.1zM419.3 891.4h9.9v12.2h-9.9zM438.6 891.4h5.1v12.2h-5.1zM568.2 891.4h5.1v12.2h-5.1zM645.0 891.4h5.1v12.2h-5.1zM688.2 891.4h5.1v12.2h-5.1zM745.8 891.4h5.1v12.2h-5.1zM198.5 903.3h14.7v12.2h-14.7zM232.1 903.3h5.1v12.2h-5.1zM246.5 903.3h5.1v12.2h-5.1zM260.9 903.3h9.9v12.2h-9.9zM275.3 903.3h5.1v12.2h-5.1zM308.9 903.3h5.1v12.2h-5.1zM342.5 903.3h5.1v12.2h-5.1zM419.3 903.3h5.1v12.2h-5.1zM481.8 903.3h5.1v12.2h-5.1zM563.4 903.3h5.1v12.2h-5.1zM573.0 903.3h5.1v12.2h-5.1zM707.4 903.3h5.1v12.2h-5.1zM198.5 915.3h5.1v12.2h-5.1zM217.7 915.3h5.1v12.2h-5.1zM227.3 915.3h9.9v12.2h-9.9zM256.1 915.3h9.9v12.2h-9.9zM280.1 915.3h5.1v12.2h-5.1zM289.7 915.3h5.1v12.2h-5.1zM318.5 915.3h5.1v12.2h-5.1zM332.9 915.3h5.1v12.2h-5.1zM356.9 915.3h5.1v12.2h-5.1zM366.5 915.3h5.1v12.2h-5.1zM376.1 915.3h5.1v12.2h-5.1zM395.3 915.3h5.1v12.2h-5.1zM409.7 915.3h14.7v12.2h-14.7zM453.0 915.3h5.1v12.2h-5.1zM549.0 915.3h9.9v12.2h-9.9zM597.0 915.3h5.1v12.2h-5.1zM645.0 915.3h5.1v12.2h-5.1zM707.4 915.3h9.9v12.2h-9.9zM745.8 915.3h5.1v12.2h-5.1zM212.9 927.2h5.1v12.2h-5.1zM246.5 927.2h5.1v12.2h-5.1zM265.7 927.2h5.1v12.2h-5.1zM275.3 927.2h5.1v12.2h-5.1zM294.5 927.2h9.9v12.2h-9.9zM318.5 927.2h14.7v12.2h-14.7zM342.5 927.2h5.1v12.2h-5.1zM424.1 927.2h5.1v12.2h-5.1zM491.4 927.2h5.1v12.2h-5.1zM510.6 927.2h5.1v12.2h-5.1zM645.0 927.2h5.1v12.2h-5.1zM693.0 927.2h5.1v12.2h-5.1zM717.0 927.2h5.1v12.2h-5.1zM198.5 939.1h5.1v12.2h-5.1zM232.1 939.1h9.9v12.2h-9.9zM246.5 939.1h5.1v12.2h-5.1zM270.5 939.1h5.1v12.2h-5.1zM289.7 939.1h5.1v12.2h-5.1zM323.3 939.1h14.7v12.2h-14.7zM342.5 939.1h9.9v12.2h-9.9zM356.9 939.1h5.1v12.2h-5.1zM376.1 939.1h9.9v12.2h-9.9zM390.5 939.1h14.7v12.2h-14.7zM424.1 939.1h5.1v12.2h-5.1zM462.6 939.1h5.1v12.2h-5.1zM563.4 939.1h5.1v12.2h-5.1zM601.8 939.1h5.1v12.2h-5.1zM611.4 939.1h5.1v12.2h-5.1zM645.0 939.1h9.9v12.2h-9.9zM750.6 939.1h5.1v12.2h-5.1zM246.5 951.0h5.1v12.2h-5.1zM275.3 951.0h14.7v12.2h-14.7zM294.5 951.0h14.7v12.2h-14.7zM323.3 951.0h5.1v12.2h-5.1zM332.9 951.0h14.7v12.2h-14.7zM356.9 951.0h5.1v12.2h-5.1zM385.7 951.0h5.1v12.2h-5.1zM404.9 951.0h5.1v12.2h-5.1zM563.4 951.0h5.1v12.2h-5.1zM664.2 951.0h5.1v12.2h-5.1zM678.6 951.0h9.9v12.2h-9.9zM717.0 951.0h5.1v12.2h-5.1zM198.5 962.9h5.1v12.2h-5.1zM208.1 962.9h5.1v12.2h-5.1zM265.7 962.9h9.9v12.2h-9.9zM284.9 962.9h5.1v12.2h-5.1zM294.5 962.9h5.1v12.2h-5.1zM304.1 962.9h5.1v12.2h-5.1zM328.1 962.9h5.1v12.2h-5.1zM337.7 962.9h9.9v12.2h-9.9zM371.3 962.9h5.1v12.2h-5.1zM385.7 962.9h5.1v12.2h-5.1zM678.6 962.9h5.1v12.2h-5.1zM702.6 962.9h5.1v12.2h-5.1zM726.6 962.9h5.1v12.2h-5.1zM755.4 962.9h5.1v12.2h-5.1zM280.1 974.8h5.1v12.2h-5.1zM299.3 974.8h5.1v12.2h-5.1zM332.9 974.8h5.1v12.2h-5.1zM342.5 974.8h5.1v12.2h-5.1zM352.1 974.8h5.1v12.2h-5.1zM371.3 974.8h14.7v12.2h-14.7zM390.5 974.8h5.1v12.2h-5.1zM453.0 974.8h5.1v12.2h-5.1zM563.4 974.8h5.1v12.2h-5.1zM645.0 974.8h5.1v12.2h-5.1zM654.6 974.8h5.1v12.2h-5.1zM683.4 974.8h5.1v12.2h-5.1zM712.2 974.8h9.9v12.2h-9.9zM198.5 986.8h14.7v12.2h-14.7zM246.5 986.8h5.1v12.2h-5.1zM280.1 986.8h5.1v12.2h-5.1zM289.7 986.8h5.1v12.2h-5.1zM299.3 986.8h9.9v12.2h-9.9zM347.3 986.8h5.1v12.2h-5.1zM385.7 986.8h9.9v12.2h-9.9zM404.9 986.8h5.1v12.2h-5.1zM419.3 986.8h9.9v12.2h-9.9zM453.0 986.8h9.9v12.2h-9.9zM501.0 986.8h5.1v12.2h-5.1zM597.0 986.8h5.1v12.2h-5.1zM606.6 986.8h5.1v12.2h-5.1zM640.2 986.8h5.1v12.2h-5.1zM697.8 986.8h5.1v12.2h-5.1zM731.4 986.8h5.1v12.2h-5.1zM275.3 998.7h9.9v12.2h-9.9zM304.1 998.7h9.9v12.2h-9.9zM347.3 998.7h5.1v12.2h-5.1zM404.9 998.7h5.1v12.2h-5.1zM448.2 998.7h5.1v12.2h-5.1zM501.0 998.7h5.1v12.2h-5.1zM534.6 998.7h5.1v12.2h-5.1zM558.6 998.7h5.1v12.2h-5.1zM577.8 998.7h5.1v12.2h-5.1zM640.2 998.7h5.1v12.2h-5.1zM193.7 1010.6h5.1v12.2h-5.1zM203.3 1010.6h5.1v12.2h-5.1zM241.7 1010.6h14.7v12.2h-14.7zM260.9 1010.6h9.9v12.2h-9.9zM275.3 1010.6h9.9v12.2h-9.9zM299.3 1010.6h5.1v12.2h-5.1zM308.9 1010.6h5.1v12.2h-5.1zM328.1 1010.6h5.1v12.2h-5.1zM342.5 1010.6h19.5v12.2h-19.5zM400.1 1010.6h9.9v12.2h-9.9zM419.3 1010.6h9.9v12.2h-9.9zM462.6 1010.6h5.1v12.2h-5.1zM534.6 1010.6h5.1v12.2h-5.1zM563.4 1010.6h5.1v12.2h-5.1zM577.8 1010.6h5.1v12.2h-5.1zM611.4 1010.6h5.1v12.2h-5.1zM630.6 1010.6h5.1v12.2h-5.1zM664.2 1010.6h5.1v12.2h-5.1zM697.8 1010.6h5.1v12.2h-5.1zM193.7 1022.5h9.9v12.2h-9.9zM208.1 1022.5h5.1v12.2h-5.1zM275.3 1022.5h5.1v12.2h-5.1zM304.1 1022.5h5.1v12.2h-5.1zM318.5 1022.5h5.1v12.2h-5.1zM337.7 1022.5h9.9v12.2h-9.9zM352.1 1022.5h9.9v12.2h-9.9zM366.5 1022.5h5.1v12.2h-5.1zM376.1 1022.5h5.1v12.2h-5.1zM385.7 1022.5h9.9v12.2h-9.9zM433.8 1022.5h5.1v12.2h-5.1zM477.0 1022.5h5.1v12.2h-5.1zM510.6 1022.5h5.1v12.2h-5.1zM611.4 1022.5h5.1v12.2h-5.1zM669.0 1022.5h5.1v12.2h-5.1zM678.6 1022.5h5.1v12.2h-5.1zM265.7 1034.4h9.9v12.2h-9.9zM318.5 1034.4h5.1v12.2h-5.1zM328.1 1034.4h5.1v12.2h-5.1zM337.7 1034.4h5.1v12.2h-5.1zM347.3 1034.4h5.1v12.2h-5.1zM356.9 1034.4h5.1v12.2h-5.1zM366.5 1034.4h5.1v12.2h-5.1zM385.7 1034.4h5.1v12.2h-5.1zM424.1 1034.4h5.1v12.2h-5.1zM472.2 1034.4h5.1v12.2h-5.1zM496.2 1034.4h5.1v12.2h-5.1zM505.8 1034.4h9.9v12.2h-9.9zM664.2 1034.4h5.1v12.2h-5.1zM693.0 1034.4h5.1v12.2h-5.1zM217.7 1046.3h5.1v12.2h-5.1zM241.7 1046.3h5.1v12.2h-5.1zM256.1 1046.3h5.1v12.2h-5.1zM275.3 1046.3h5.1v12.2h-5.1zM318.5 1046.3h14.7v12.2h-14.7zM371.3 1046.3h14.7v12.2h-14.7zM395.3 1046.3h19.5v12.2h-19.5zM472.2 1046.3h5.1v12.2h-5.1zM491.4 1046.3h5.1v12.2h-5.1zM659.4 1046.3h5.1v12.2h-5.1zM188.9 1058.3h5.1v12.2h-5.1zM198.5 1058.3h14.7v12.2h-14.7zM241.7 1058.3h5.1v12.2h-5.1zM308.9 1058.3h5.1v12.2h-5.1zM323.3 1058.3h9.9v12.2h-9.9zM342.5 1058.3h5.1v12.2h-5.1zM356.9 1058.3h9.9v12.2h-9.9zM371.3 1058.3h19.5v12.2h-19.5zM400.1 1058.3h5.1v12.2h-5.1zM409.7 1058.3h5.1v12.2h-5.1zM429.0 1058.3h5.1v12.2h-5.1zM553.8 1058.3h5.1v12.2h-5.1zM568.2 1058.3h5.1v12.2h-5.1zM577.8 1058.3h5.1v12.2h-5.1zM630.6 1058.3h9.9v12.2h-9.9zM659.4 1058.3h5.1v12.2h-5.1zM750.6 1058.3h5.1v12.2h-5.1zM212.9 1070.2h5.1v12.2h-5.1zM246.5 1070.2h9.9v12.2h-9.9zM260.9 1070.2h5.1v12.2h-5.1zM289.7 1070.2h9.9v12.2h-9.9zM337.7 1070.2h5.1v12.2h-5.1zM347.3 1070.2h5.1v12.2h-5.1zM376.1 1070.2h5.1v12.2h-5.1zM395.3 1070.2h5.1v12.2h-5.1zM525.0 1070.2h5.1v12.2h-5.1zM539.4 1070.2h5.1v12.2h-5.1zM592.2 1070.2h5.1v12.2h-5.1zM649.8 1070.2h5.1v12.2h-5.1zM697.8 1070.2h5.1v12.2h-5.1zM731.4 1070.2h5.1v12.2h-5.1zM232.1 1082.1h5.1v12.2h-5.1zM289.7 1082.1h5.1v12.2h-5.1zM308.9 1082.1h5.1v12.2h-5.1zM328.1 1082.1h5.1v12.2h-5.1zM361.7 1082.1h5.1v12.2h-5.1zM376.1 1082.1h5.1v12.2h-5.1zM395.3 1082.1h5.1v12.2h-5.1zM409.7 1082.1h9.9v12.2h-9.9zM433.8 1082.1h9.9v12.2h-9.9zM520.2 1082.1h5.1v12.2h-5.1zM544.2 1082.1h5.1v12.2h-5.1zM597.0 1082.1h5.1v12.2h-5.1zM616.2 1082.1h5.1v12.2h-5.1zM649.8 1082.1h5.1v12.2h-5.1zM683.4 1082.1h5.1v12.2h-5.1zM741.0 1082.1h5.1v12.2h-5.1zM198.5 1094.0h5.1v12.2h-5.1zM222.5 1094.0h5.1v12.2h-5.1zM241.7 1094.0h5.1v12.2h-5.1zM251.3 1094.0h5.1v12.2h-5.1zM280.1 1094.0h5.1v12.2h-5.1zM294.5 1094.0h9.9v12.2h-9.9zM332.9 1094.0h5.1v12.2h-5.1zM352.1 1094.0h5.1v12.2h-5.1zM385.7 1094.0h5.1v12.2h-5.1zM409.7 1094.0h5.1v12.2h-5.1zM477.0 1094.0h5.1v12.2h-5.1zM601.8 1094.0h5.1v12.2h-5.1zM649.8 1094.0h5.1v12.2h-5.1zM659.4 1094.0h5.1v12.2h-5.1zM678.6 1094.0h5.1v12.2h-5.1zM693.0 1094.0h5.1v12.2h-5.1zM198.5 1105.9h5.1v12.2h-5.1zM212.9 1105.9h5.1v12.2h-5.1zM227.3 1105.9h14.7v12.2h-14.7zM246.5 1105.9h9.9v12.2h-9.9zM260.9 1105.9h5.1v12.2h-5.1zM270.5 1105.9h5.1v12.2h-5.1zM280.1 1105.9h5.1v12.2h-5.1zM289.7 1105.9h14.7v12.2h-14.7zM313.7 1105.9h5.1v12.2h-5.1zM342.5 1105.9h5.1v12.2h-5.1zM352.1 1105.9h9.9v12.2h-9.9zM371.3 1105.9h5.1v12.2h-5.1zM385.7 1105.9h5.1v12.2h-5.1zM400.1 1105.9h5.1v12.2h-5.1zM409.7 1105.9h9.9v12.2h-9.9zM424.1 1105.9h5.1v12.2h-5.1zM467.4 1105.9h5.1v12.2h-5.1zM505.8 1105.9h5.1v12.2h-5.1zM601.8 1105.9h5.1v12.2h-5.1zM673.8 1105.9h5.1v12.2h-5.1zM697.8 1105.9h5.1v12.2h-5.1zM217.7 1117.8h5.1v12.2h-5.1zM236.9 1117.8h5.1v12.2h-5.1zM246.5 1117.8h5.1v12.2h-5.1zM275.3 1117.8h5.1v12.2h-5.1zM284.9 1117.8h5.1v12.2h-5.1zM328.1 1117.8h5.1v12.2h-5.1zM337.7 1117.8h5.1v12.2h-5.1zM347.3 1117.8h5.1v12.2h-5.1zM356.9 1117.8h9.9v12.2h-9.9zM376.1 1117.8h5.1v12.2h-5.1zM390.5 1117.8h5.1v12.2h-5.1zM433.8 1117.8h5.1v12.2h-5.1zM630.6 1117.8h5.1v12.2h-5.1zM702.6 1117.8h5.1v12.2h-5.1zM251.3 1129.8h5.1v12.2h-5.1zM280.1 1129.8h9.9v12.2h-9.9zM313.7 1129.8h5.1v12.2h-5.1zM371.3 1129.8h5.1v12.2h-5.1zM419.3 1129.8h5.1v12.2h-5.1zM563.4 1129.8h5.1v12.2h-5.1zM645.0 1129.8h5.1v12.2h-5.1zM659.4 1129.8h5.1v12.2h-5.1zM673.8 1129.8h5.1v12.2h-5.1zM721.8 1129.8h5.1v12.2h-5.1zM193.7 1141.7h5.1v12.2h-5.1zM212.9 1141.7h14.7v12.2h-14.7zM246.5 1141.7h14.7v12.2h-14.7zM284.9 1141.7h5.1v12.2h-5.1zM323.3 1141.7h5.1v12.2h-5.1zM352.1 1141.7h5.1v12.2h-5.1zM385.7 1141.7h14.7v12.2h-14.7zM424.1 1141.7h5.1v12.2h-5.1zM496.2 1141.7h5.1v12.2h-5.1zM664.2 1141.7h5.1v12.2h-5.1zM721.8 1141.7h9.9v12.2h-9.9zM212.9 1153.6h5.1v12.2h-5.1zM260.9 1153.6h5.1v12.2h-5.1zM270.5 1153.6h5.1v12.2h-5.1zM294.5 1153.6h5.1v12.2h-5.1zM323.3 1153.6h5.1v12.2h-5.1zM347.3 1153.6h5.1v12.2h-5.1zM404.9 1153.6h14.7v12.2h-14.7zM453.0 1153.6h5.1v12.2h-5.1zM486.6 1153.6h5.1v12.2h-5.1zM510.6 1153.6h5.1v12.2h-5.1zM568.2 1153.6h5.1v12.2h-5.1zM592.2 1153.6h5.1v12.2h-5.1zM208.1 1165.5h5.1v12.2h-5.1zM256.1 1165.5h5.1v12.2h-5.1zM308.9 1165.5h9.9v12.2h-9.9zM323.3 1165.5h5.1v12.2h-5.1zM332.9 1165.5h5.1v12.2h-5.1zM347.3 1165.5h5.1v12.2h-5.1zM356.9 1165.5h5.1v12.2h-5.1zM376.1 1165.5h5.1v12.2h-5.1zM433.8 1165.5h5.1v12.2h-5.1zM510.6 1165.5h5.1v12.2h-5.1zM664.2 1165.5h5.1v12.2h-5.1zM736.2 1165.5h5.1v12.2h-5.1zM241.7 1177.4h9.9v12.2h-9.9zM284.9 1177.4h5.1v12.2h-5.1zM318.5 1177.4h5.1v12.2h-5.1zM481.8 1177.4h5.1v12.2h-5.1zM597.0 1177.4h5.1v12.2h-5.1zM659.4 1177.4h9.9v12.2h-9.9zM688.2 1177.4h5.1v12.2h-5.1zM198.5 1189.3h9.9v12.2h-9.9zM246.5 1189.3h5.1v12.2h-5.1zM289.7 1189.3h5.1v12.2h-5.1zM313.7 1189.3h5.1v12.2h-5.1zM376.1 1189.3h5.1v12.2h-5.1zM409.7 1189.3h5.1v12.2h-5.1zM419.3 1189.3h5.1v12.2h-5.1zM443.4 1189.3h5.1v12.2h-5.1zM467.4 1189.3h5.1v12.2h-5.1zM510.6 1189.3h5.1v12.2h-5.1zM520.2 1189.3h5.1v12.2h-5.1zM188.9 1201.3h5.1v12.2h-5.1zM203.3 1201.3h9.9v12.2h-9.9zM227.3 1201.3h5.1v12.2h-5.1zM241.7 1201.3h14.7v12.2h-14.7zM304.1 1201.3h5.1v12.2h-5.1zM313.7 1201.3h5.1v12.2h-5.1zM395.3 1201.3h9.9v12.2h-9.9zM409.7 1201.3h5.1v12.2h-5.1zM443.4 1201.3h5.1v12.2h-5.1zM453.0 1201.3h5.1v12.2h-5.1zM467.4 1201.3h5.1v12.2h-5.1zM486.6 1201.3h5.1v12.2h-5.1zM510.6 1201.3h5.1v12.2h-5.1zM520.2 1201.3h5.1v12.2h-5.1zM568.2 1201.3h5.1v12.2h-5.1zM712.2 1201.3h5.1v12.2h-5.1zM741.0 1201.3h5.1v12.2h-5.1zM750.6 1201.3h5.1v12.2h-5.1zM212.9 1213.2h5.1v12.2h-5.1zM236.9 1213.2h5.1v12.2h-5.1zM246.5 1213.2h14.7v12.2h-14.7zM265.7 1213.2h5.1v12.2h-5.1zM275.3 1213.2h14.7v12.2h-14.7zM304.1 1213.2h5.1v12.2h-5.1zM313.7 1213.2h5.1v12.2h-5.1zM332.9 1213.2h5.1v12.2h-5.1zM376.1 1213.2h9.9v12.2h-9.9zM400.1 1213.2h14.7v12.2h-14.7zM419.3 1213.2h5.1v12.2h-5.1zM491.4 1213.2h5.1v12.2h-5.1zM501.0 1213.2h5.1v12.2h-5.1zM673.8 1213.2h5.1v12.2h-5.1zM217.7 1225.1h5.1v12.2h-5.1zM227.3 1225.1h5.1v12.2h-5.1zM236.9 1225.1h5.1v12.2h-5.1zM246.5 1225.1h5.1v12.2h-5.1zM280.1 1225.1h5.1v12.2h-5.1zM313.7 1225.1h5.1v12.2h-5.1zM328.1 1225.1h5.1v12.2h-5.1zM371.3 1225.1h5.1v12.2h-5.1zM390.5 1225.1h5.1v12.2h-5.1zM404.9 1225.1h5.1v12.2h-5.1zM419.3 1225.1h5.1v12.2h-5.1zM443.4 1225.1h5.1v12.2h-5.1zM702.6 1225.1h5.1v12.2h-5.1zM188.9 1237.0h5.1v12.2h-5.1zM212.9 1237.0h5.1v12.2h-5.1zM222.5 1237.0h9.9v12.2h-9.9zM260.9 1237.0h5.1v12.2h-5.1zM280.1 1237.0h5.1v12.2h-5.1zM289.7 1237.0h9.9v12.2h-9.9zM337.7 1237.0h5.1v12.2h-5.1zM376.1 1237.0h9.9v12.2h-9.9zM409.7 1237.0h5.1v12.2h-5.1zM429.0 1237.0h5.1v12.2h-5.1zM563.4 1237.0h5.1v12.2h-5.1zM673.8 1237.0h5.1v12.2h-5.1zM693.0 1237.0h5.1v12.2h-5.1zM222.5 1248.9h9.9v12.2h-9.9zM241.7 1248.9h5.1v12.2h-5.1zM256.1 1248.9h5.1v12.2h-5.1zM270.5 1248.9h14.7v12.2h-14.7zM294.5 1248.9h5.1v12.2h-5.1zM313.7 1248.9h5.1v12.2h-5.1zM323.3 1248.9h5.1v12.2h-5.1zM337.7 1248.9h5.1v12.2h-5.1zM347.3 1248.9h5.1v12.2h-5.1zM356.9 1248.9h19.5v12.2h-19.5zM380.9 1248.9h5.1v12.2h-5.1zM395.3 1248.9h5.1v12.2h-5.1zM404.9 1248.9h5.1v12.2h-5.1zM419.3 1248.9h9.9v12.2h-9.9zM203.3 1260.8h5.1v12.2h-5.1zM212.9 1260.8h5.1v12.2h-5.1zM256.1 1260.8h5.1v12.2h-5.1zM284.9 1260.8h5.1v12.2h-5.1zM304.1 1260.8h14.7v12.2h-14.7zM347.3 1260.8h5.1v12.2h-5.1zM371.3 1260.8h5.1v12.2h-5.1zM380.9 1260.8h9.9v12.2h-9.9zM395.3 1260.8h5.1v12.2h-5.1zM404.9 1260.8h9.9v12.2h-9.9zM424.1 1260.8h5.1v12.2h-5.1zM697.8 1260.8h5.1v12.2h-5.1zM198.5 1272.8h5.1v12.2h-5.1zM227.3 1272.8h5.1v12.2h-5.1zM256.1 1272.8h19.5v12.2h-19.5zM289.7 1272.8h5.1v12.2h-5.1zM318.5 1272.8h5.1v12.2h-5.1zM366.5 1272.8h9.9v12.2h-9.9zM380.9 1272.8h5.1v12.2h-5.1zM390.5 1272.8h9.9v12.2h-9.9zM404.9 1272.8h9.9v12.2h-9.9zM443.4 1272.8h5.1v12.2h-5.1zM529.8 1272.8h5.1v12.2h-5.1zM549.0 1272.8h5.1v12.2h-5.1zM745.8 1272.8h5.1v12.2h-5.1zM760.2 1272.8h5.1v12.2h-5.1zM222.5 1284.7h5.1v12.2h-5.1zM256.1 1284.7h5.1v12.2h-5.1zM284.9 1284.7h5.1v12.2h-5.1zM313.7 1284.7h5.1v12.2h-5.1zM337.7 1284.7h9.9v12.2h-9.9zM371.3 1284.7h5.1v12.2h-5.1zM424.1 1284.7h5.1v12.2h-5.1zM433.8 1284.7h5.1v12.2h-5.1zM496.2 1284.7h5.1v12.2h-5.1zM558.6 1284.7h9.9v12.2h-9.9zM582.6 1284.7h5.1v12.2h-5.1zM760.2 1284.7h5.1v12.2h-5.1zM222.5 1296.6h5.1v12.2h-5.1zM308.9 1296.6h9.9v12.2h-9.9zM323.3 1296.6h5.1v12.2h-5.1zM347.3 1296.6h5.1v12.2h-5.1zM366.5 1296.6h9.9v12.2h-9.9zM404.9 1296.6h5.1v12.2h-5.1zM510.6 1296.6h5.1v12.2h-5.1zM563.4 1296.6h5.1v12.2h-5.1zM203.3 1308.5h5.1v12.2h-5.1zM217.7 1308.5h9.9v12.2h-9.9zM232.1 1308.5h5.1v12.2h-5.1zM299.3 1308.5h9.9v12.2h-9.9zM347.3 1308.5h5.1v12.2h-5.1zM366.5 1308.5h9.9v12.2h-9.9zM390.5 1308.5h5.1v12.2h-5.1zM424.1 1308.5h5.1v12.2h-5.1zM433.8 1308.5h5.1v12.2h-5.1zM534.6 1308.5h5.1v12.2h-5.1zM697.8 1308.5h5.1v12.2h-5.1zM712.2 1308.5h5.1v12.2h-5.1zM741.0 1308.5h5.1v12.2h-5.1zM193.7 1320.4h9.9v12.2h-9.9zM212.9 1320.4h5.1v12.2h-5.1zM222.5 1320.4h9.9v12.2h-9.9zM251.3 1320.4h9.9v12.2h-9.9zM280.1 1320.4h9.9v12.2h-9.9zM294.5 1320.4h5.1v12.2h-5.1zM308.9 1320.4h5.1v12.2h-5.1zM318.5 1320.4h5.1v12.2h-5.1zM419.3 1320.4h5.1v12.2h-5.1zM462.6 1320.4h9.9v12.2h-9.9zM491.4 1320.4h5.1v12.2h-5.1zM510.6 1320.4h5.1v12.2h-5.1zM573.0 1320.4h5.1v12.2h-5.1zM193.7 1332.3h5.1v12.2h-5.1zM212.9 1332.3h5.1v12.2h-5.1zM232.1 1332.3h5.1v12.2h-5.1zM256.1 1332.3h5.1v12.2h-5.1zM289.7 1332.3h5.1v12.2h-5.1zM380.9 1332.3h5.1v12.2h-5.1zM520.2 1332.3h5.1v12.2h-5.1zM573.0 1332.3h5.1v12.2h-5.1zM198.5 1344.3h5.1v12.2h-5.1zM236.9 1344.3h5.1v12.2h-5.1zM246.5 1344.3h5.1v12.2h-5.1zM265.7 1344.3h9.9v12.2h-9.9zM289.7 1344.3h5.1v12.2h-5.1zM332.9 1344.3h5.1v12.2h-5.1zM356.9 1344.3h9.9v12.2h-9.9zM380.9 1344.3h5.1v12.2h-5.1zM390.5 1344.3h9.9v12.2h-9.9zM419.3 1344.3h5.1v12.2h-5.1zM429.0 1344.3h5.1v12.2h-5.1zM659.4 1344.3h5.1v12.2h-5.1z"/><path fill="#bdbdde" d="M323.3 808.0h5.1v12.2h-5.1zM390.5 808.0h5.1v12.2h-5.1zM419.3 808.0h5.1v12.2h-5.1zM433.8 808.0h5.1v12.2h-5.1zM462.6 808.0h5.1v12.2h-5.1zM501.0 808.0h5.1v12.2h-5.1zM515.4 808.0h19.5v12.2h-19.5zM558.6 808.0h14.7v12.2h-14.7zM611.4 808.0h19.5v12.2h-19.5zM654.6 808.0h5.1v12.2h-5.1zM664.2 808.0h5.1v12.2h-5.1zM702.6 808.0h5.1v12.2h-5.1zM750.6 808.0h5.1v12.2h-5.1zM404.9 819.9h5.1v12.2h-5.1zM419.3 819.9h5.1v12.2h-5.1zM429.0 819.9h5.1v12.2h-5.1zM453.0 819.9h5.1v12.2h-5.1zM510.6 819.9h9.9v12.2h-9.9zM525.0 819.9h5.1v12.2h-5.1zM539.4 819.9h5.1v12.2h-5.1zM553.8 819.9h9.9v12.2h-9.9zM601.8 819.9h5.1v12.2h-5.1zM611.4 819.9h19.5v12.2h-19.5zM635.4 819.9h24.3v12.2h-24.3zM300.9 831.8h5.2v12.2h-5.2zM315.5 831.8h8.2v12.2h-8.2zM400.1 831.8h5.1v12.2h-5.1zM448.2 831.8h5.1v12.2h-5.1zM477.0 831.8h5.1v12.2h-5.1zM491.4 831.8h5.1v12.2h-5.1zM525.0 831.8h9.9v12.2h-9.9zM539.4 831.8h9.9v12.2h-9.9zM553.8 831.8h9.9v12.2h-9.9zM621.0 831.8h9.9v12.2h-9.9zM640.2 831.8h5.1v12.2h-5.1zM654.6 831.8h5.1v12.2h-5.1zM688.2 831.8h14.7v12.2h-14.7zM750.6 831.8h5.1v12.2h-5.1zM315.5 843.8h5.2v12.2h-5.2zM400.1 843.8h5.1v12.2h-5.1zM438.6 843.8h9.9v12.2h-9.9zM481.8 843.8h5.1v12.2h-5.1zM491.4 843.8h9.9v12.2h-9.9zM515.4 843.8h5.1v12.2h-5.1zM563.4 843.8h5.1v12.2h-5.1zM577.8 843.8h5.1v12.2h-5.1zM587.4 843.8h5.1v12.2h-5.1zM606.6 843.8h5.1v12.2h-5.1zM625.8 843.8h5.1v12.2h-5.1zM635.4 843.8h5.1v12.2h-5.1zM654.6 843.8h5.1v12.2h-5.1zM750.6 843.8h5.1v12.2h-5.1zM281.4 855.7h5.2v12.2h-5.2zM315.5 855.7h5.2v12.2h-5.2zM438.6 855.7h14.7v12.2h-14.7zM457.8 855.7h9.9v12.2h-9.9zM491.4 855.7h9.9v12.2h-9.9zM529.8 855.7h5.1v12.2h-5.1zM544.2 855.7h5.1v12.2h-5.1zM558.6 855.7h9.9v12.2h-9.9zM573.0 855.7h19.5v12.2h-19.5zM625.8 855.7h9.9v12.2h-9.9zM645.0 855.7h5.1v12.2h-5.1zM659.4 855.7h14.7v12.2h-14.7zM683.4 855.7h14.7v12.2h-14.7zM750.6 855.7h5.1v12.2h-5.1zM281.4 867.6h5.2v12.2h-5.2zM320.3 867.6h3.3v12.2h-3.3zM395.3 867.6h9.9v12.2h-9.9zM453.0 867.6h5.1v12.2h-5.1zM477.0 867.6h5.1v12.2h-5.1zM486.6 867.6h5.1v12.2h-5.1zM515.4 867.6h9.9v12.2h-9.9zM534.6 867.6h5.1v12.2h-5.1zM630.6 867.6h5.1v12.2h-5.1zM640.2 867.6h5.1v12.2h-5.1zM649.8 867.6h5.1v12.2h-5.1zM688.2 867.6h5.1v12.2h-5.1zM721.8 867.6h5.1v12.2h-5.1zM750.6 867.6h5.1v12.2h-5.1zM236.9 879.5h5.1v12.2h-5.1zM337.7 879.5h5.1v12.2h-5.1zM457.8 879.5h5.1v12.2h-5.1zM477.0 879.5h5.1v12.2h-5.1zM553.8 879.5h9.9v12.2h-9.9zM611.4 879.5h5.1v12.2h-5.1zM621.0 879.5h14.7v12.2h-14.7zM645.0 879.5h5.1v12.2h-5.1zM673.8 879.5h5.1v12.2h-5.1zM683.4 879.5h9.9v12.2h-9.9zM717.0 879.5h5.1v12.2h-5.1zM741.0 879.5h5.1v12.2h-5.1zM193.7 891.4h9.9v12.2h-9.9zM208.1 891.4h9.9v12.2h-9.9zM222.5 891.4h5.1v12.2h-5.1zM232.1 891.4h9.9v12.2h-9.9zM246.5 891.4h5.1v12.2h-5.1zM270.5 891.4h5.1v12.2h-5.1zM304.1 891.4h5.1v12.2h-5.1zM313.7 891.4h14.7v12.2h-14.7zM332.9 891.4h5.1v12.2h-5.1zM342.5 891.4h9.9v12.2h-9.9zM371.3 891.4h5.1v12.2h-5.1zM404.9 891.4h14.7v12.2h-14.7zM433.8 891.4h5.1v12.2h-5.1zM496.2 891.4h9.9v12.2h-9.9zM563.4 891.4h5.1v12.2h-5.1zM649.8 891.4h5.1v12.2h-5.1zM188.9 903.3h5.1v12.2h-5.1zM236.9 903.3h9.9v12.2h-9.9zM284.9 903.3h9.9v12.2h-9.9zM313.7 903.3h5.1v12.2h-5.1zM347.3 903.3h5.1v12.2h-5.1zM356.9 903.3h5.1v12.2h-5.1zM366.5 903.3h5.1v12.2h-5.1zM395.3 903.3h5.1v12.2h-5.1zM404.9 903.3h14.7v12.2h-14.7zM649.8 903.3h5.1v12.2h-5.1zM688.2 903.3h5.1v12.2h-5.1zM188.9 915.3h9.9v12.2h-9.9zM246.5 915.3h5.1v12.2h-5.1zM265.7 915.3h5.1v12.2h-5.1zM294.5 915.3h5.1v12.2h-5.1zM342.5 915.3h9.9v12.2h-9.9zM371.3 915.3h5.1v12.2h-5.1zM404.9 915.3h5.1v12.2h-5.1zM424.1 915.3h5.1v12.2h-5.1zM438.6 915.3h5.1v12.2h-5.1zM491.4 915.3h5.1v12.2h-5.1zM501.0 915.3h5.1v12.2h-5.1zM520.2 915.3h5.1v12.2h-5.1zM649.8 915.3h5.1v12.2h-5.1zM188.9 927.2h5.1v12.2h-5.1zM208.1 927.2h5.1v12.2h-5.1zM232.1 927.2h9.9v12.2h-9.9zM280.1 927.2h5.1v12.2h-5.1zM289.7 927.2h5.1v12.2h-5.1zM308.9 927.2h5.1v12.2h-5.1zM347.3 927.2h5.1v12.2h-5.1zM366.5 927.2h5.1v12.2h-5.1zM400.1 927.2h24.3v12.2h-24.3zM429.0 927.2h5.1v12.2h-5.1zM496.2 927.2h14.7v12.2h-14.7zM520.2 927.2h5.1v12.2h-5.1zM188.9 939.1h5.1v12.2h-5.1zM227.3 939.1h5.1v12.2h-5.1zM275.3 939.1h14.7v12.2h-14.7zM294.5 939.1h9.9v12.2h-9.9zM337.7 939.1h5.1v12.2h-5.1zM366.5 939.1h5.1v12.2h-5.1zM404.9 939.1h5.1v12.2h-5.1zM419.3 939.1h5.1v12.2h-5.1zM193.7 951.0h5.1v12.2h-5.1zM217.7 951.0h5.1v12.2h-5.1zM227.3 951.0h9.9v12.2h-9.9zM241.7 951.0h5.1v12.2h-5.1zM251.3 951.0h5.1v12.2h-5.1zM270.5 951.0h5.1v12.2h-5.1zM347.3 951.0h9.9v12.2h-9.9zM376.1 951.0h9.9v12.2h-9.9zM390.5 951.0h5.1v12.2h-5.1zM400.1 951.0h5.1v12.2h-5.1zM419.3 951.0h9.9v12.2h-9.9zM741.0 951.0h5.1v12.2h-5.1zM188.9 962.9h5.1v12.2h-5.1zM217.7 962.9h5.1v12.2h-5.1zM241.7 962.9h19.5v12.2h-19.5zM275.3 962.9h9.9v12.2h-9.9zM299.3 962.9h5.1v12.2h-5.1zM347.3 962.9h14.7v12.2h-14.7zM366.5 962.9h5.1v12.2h-5.1zM376.1 962.9h9.9v12.2h-9.9zM390.5 962.9h5.1v12.2h-5.1zM404.9 962.9h5.1v12.2h-5.1zM419.3 962.9h9.9v12.2h-9.9zM563.4 962.9h5.1v12.2h-5.1zM630.6 962.9h5.1v12.2h-5.1zM208.1 974.8h14.7v12.2h-14.7zM236.9 974.8h29.1v12.2h-29.1zM270.5 974.8h5.1v12.2h-5.1zM284.9 974.8h5.1v12.2h-5.1zM294.5 974.8h5.1v12.2h-5.1zM304.1 974.8h5.1v12.2h-5.1zM323.3 974.8h9.9v12.2h-9.9zM395.3 974.8h5.1v12.2h-5.1zM419.3 974.8h5.1v12.2h-5.1zM625.8 974.8h9.9v12.2h-9.9zM673.8 974.8h5.1v12.2h-5.1zM702.6 974.8h5.1v12.2h-5.1zM241.7 986.8h5.1v12.2h-5.1zM260.9 986.8h5.1v12.2h-5.1zM275.3 986.8h5.1v12.2h-5.1zM284.9 986.8h5.1v12.2h-5.1zM308.9 986.8h9.9v12.2h-9.9zM342.5 986.8h5.1v12.2h-5.1zM356.9 986.8h5.1v12.2h-5.1zM376.1 986.8h9.9v12.2h-9.9zM395.3 986.8h9.9v12.2h-9.9zM414.5 986.8h5.1v12.2h-5.1zM448.2 986.8h5.1v12.2h-5.1zM726.6 986.8h5.1v12.2h-5.1zM193.7 998.7h5.1v12.2h-5.1zM232.1 998.7h9.9v12.2h-9.9zM251.3 998.7h19.5v12.2h-19.5zM284.9 998.7h5.1v12.2h-5.1zM313.7 998.7h9.9v12.2h-9.9zM332.9 998.7h5.1v12.2h-5.1zM342.5 998.7h5.1v12.2h-5.1zM356.9 998.7h14.7v12.2h-14.7zM376.1 998.7h14.7v12.2h-14.7zM395.3 998.7h9.9v12.2h-9.9zM409.7 998.7h5.1v12.2h-5.1zM419.3 998.7h9.9v12.2h-9.9zM453.0 998.7h5.1v12.2h-5.1zM563.4 998.7h5.1v12.2h-5.1zM236.9 1010.6h5.1v12.2h-5.1zM284.9 1010.6h5.1v12.2h-5.1zM313.7 1010.6h14.7v12.2h-14.7zM337.7 1010.6h5.1v12.2h-5.1zM366.5 1010.6h29.1v12.2h-29.1zM409.7 1010.6h9.9v12.2h-9.9zM448.2 1010.6h9.9v12.2h-9.9zM645.0 1010.6h5.1v12.2h-5.1zM693.0 1010.6h5.1v12.2h-5.1zM236.9 1022.5h9.9v12.2h-9.9zM265.7 1022.5h9.9v12.2h-9.9zM380.9 1022.5h5.1v12.2h-5.1zM496.2 1022.5h5.1v12.2h-5.1zM563.4 1022.5h5.1v12.2h-5.1zM193.7 1034.4h24.3v12.2h-24.3zM236.9 1034.4h14.7v12.2h-14.7zM256.1 1034.4h9.9v12.2h-9.9zM275.3 1034.4h9.9v12.2h-9.9zM299.3 1034.4h14.7v12.2h-14.7zM342.5 1034.4h5.1v12.2h-5.1zM654.6 1034.4h5.1v12.2h-5.1zM198.5 1046.3h5.1v12.2h-5.1zM208.1 1046.3h9.9v12.2h-9.9zM227.3 1046.3h5.1v12.2h-5.1zM236.9 1046.3h5.1v12.2h-5.1zM251.3 1046.3h5.1v12.2h-5.1zM270.5 1046.3h5.1v12.2h-5.1zM280.1 1046.3h5.1v12.2h-5.1zM289.7 1046.3h5.1v12.2h-5.1zM308.9 1046.3h5.1v12.2h-5.1zM352.1 1046.3h9.9v12.2h-9.9zM390.5 1046.3h5.1v12.2h-5.1zM414.5 1046.3h5.1v12.2h-5.1zM424.1 1046.3h9.9v12.2h-9.9zM520.2 1046.3h5.1v12.2h-5.1zM544.2 1046.3h5.1v12.2h-5.1zM750.6 1046.3h5.1v12.2h-5.1zM212.9 1058.3h5.1v12.2h-5.1zM222.5 1058.3h9.9v12.2h-9.9zM236.9 1058.3h5.1v12.2h-5.1zM251.3 1058.3h5.1v12.2h-5.1zM265.7 1058.3h5.1v12.2h-5.1zM280.1 1058.3h5.1v12.2h-5.1zM304.1 1058.3h5.1v12.2h-5.1zM313.7 1058.3h5.1v12.2h-5.1zM352.1 1058.3h5.1v12.2h-5.1zM390.5 1058.3h5.1v12.2h-5.1zM404.9 1058.3h5.1v12.2h-5.1zM496.2 1058.3h5.1v12.2h-5.1zM510.6 1058.3h5.1v12.2h-5.1zM539.4 1058.3h9.9v12.2h-9.9zM203.3 1070.2h5.1v12.2h-5.1zM236.9 1070.2h5.1v12.2h-5.1zM265.7 1070.2h19.5v12.2h-19.5zM313.7 1070.2h5.1v12.2h-5.1zM323.3 1070.2h5.1v12.2h-5.1zM332.9 1070.2h5.1v12.2h-5.1zM390.5 1070.2h5.1v12.2h-5.1zM414.5 1070.2h9.9v12.2h-9.9zM443.4 1070.2h5.1v12.2h-5.1zM481.8 1070.2h9.9v12.2h-9.9zM553.8 1070.2h5.1v12.2h-5.1zM625.8 1070.2h5.1v12.2h-5.1zM702.6 1070.2h5.1v12.2h-5.1zM726.6 1070.2h5.1v12.2h-5.1zM222.5 1082.1h5.1v12.2h-5.1zM236.9 1082.1h5.1v12.2h-5.1zM270.5 1082.1h5.1v12.2h-5.1zM284.9 1082.1h5.1v12.2h-5.1zM294.5 1082.1h5.1v12.2h-5.1zM313.7 1082.1h5.1v12.2h-5.1zM332.9 1082.1h5.1v12.2h-5.1zM342.5 1082.1h9.9v12.2h-9.9zM356.9 1082.1h5.1v12.2h-5.1zM371.3 1082.1h5.1v12.2h-5.1zM429.0 1082.1h5.1v12.2h-5.1zM448.2 1082.1h19.5v12.2h-19.5zM505.8 1082.1h5.1v12.2h-5.1zM654.6 1082.1h5.1v12.2h-5.1zM702.6 1082.1h5.1v12.2h-5.1zM731.4 1082.1h5.1v12.2h-5.1zM188.9 1094.0h9.9v12.2h-9.9zM208.1 1094.0h5.1v12.2h-5.1zM227.3 1094.0h14.7v12.2h-14.7zM246.5 1094.0h5.1v12.2h-5.1zM256.1 1094.0h14.7v12.2h-14.7zM284.9 1094.0h9.9v12.2h-9.9zM347.3 1094.0h5.1v12.2h-5.1zM356.9 1094.0h9.9v12.2h-9.9zM376.1 1094.0h5.1v12.2h-5.1zM390.5 1094.0h5.1v12.2h-5.1zM443.4 1094.0h5.1v12.2h-5.1zM467.4 1094.0h5.1v12.2h-5.1zM592.2 1094.0h5.1v12.2h-5.1zM683.4 1094.0h5.1v12.2h-5.1zM203.3 1105.9h5.1v12.2h-5.1zM222.5 1105.9h5.1v12.2h-5.1zM275.3 1105.9h5.1v12.2h-5.1zM284.9 1105.9h5.1v12.2h-5.1zM323.3 1105.9h14.7v12.2h-14.7zM361.7 1105.9h9.9v12.2h-9.9zM376.1 1105.9h5.1v12.2h-5.1zM404.9 1105.9h5.1v12.2h-5.1zM496.2 1105.9h5.1v12.2h-5.1zM702.6 1105.9h5.1v12.2h-5.1zM198.5 1117.8h5.1v12.2h-5.1zM222.5 1117.8h14.7v12.2h-14.7zM251.3 1117.8h9.9v12.2h-9.9zM289.7 1117.8h5.1v12.2h-5.1zM352.1 1117.8h5.1v12.2h-5.1zM366.5 1117.8h9.9v12.2h-9.9zM419.3 1117.8h9.9v12.2h-9.9zM635.4 1117.8h5.1v12.2h-5.1zM198.5 1129.8h5.1v12.2h-5.1zM212.9 1129.8h5.1v12.2h-5.1zM222.5 1129.8h5.1v12.2h-5.1zM236.9 1129.8h5.1v12.2h-5.1zM246.5 1129.8h5.1v12.2h-5.1zM256.1 1129.8h9.9v12.2h-9.9zM270.5 1129.8h9.9v12.2h-9.9zM289.7 1129.8h14.7v12.2h-14.7zM323.3 1129.8h5.1v12.2h-5.1zM342.5 1129.8h5.1v12.2h-5.1zM352.1 1129.8h5.1v12.2h-5.1zM400.1 1129.8h5.1v12.2h-5.1zM409.7 1129.8h5.1v12.2h-5.1zM635.4 1129.8h5.1v12.2h-5.1zM683.4 1129.8h5.1v12.2h-5.1zM717.0 1129.8h5.1v12.2h-5.1zM203.3 1141.7h5.1v12.2h-5.1zM227.3 1141.7h5.1v12.2h-5.1zM236.9 1141.7h5.1v12.2h-5.1zM260.9 1141.7h14.7v12.2h-14.7zM294.5 1141.7h5.1v12.2h-5.1zM328.1 1141.7h5.1v12.2h-5.1zM347.3 1141.7h5.1v12.2h-5.1zM356.9 1141.7h9.9v12.2h-9.9zM371.3 1141.7h14.7v12.2h-14.7zM409.7 1141.7h5.1v12.2h-5.1zM688.2 1141.7h5.1v12.2h-5.1zM232.1 1153.6h5.1v12.2h-5.1zM241.7 1153.6h9.9v12.2h-9.9zM256.1 1153.6h5.1v12.2h-5.1zM280.1 1153.6h5.1v12.2h-5.1zM328.1 1153.6h5.1v12.2h-5.1zM337.7 1153.6h9.9v12.2h-9.9zM352.1 1153.6h5.1v12.2h-5.1zM385.7 1153.6h5.1v12.2h-5.1zM424.1 1153.6h5.1v12.2h-5.1zM664.2 1153.6h5.1v12.2h-5.1zM712.2 1153.6h5.1v12.2h-5.1zM193.7 1165.5h5.1v12.2h-5.1zM212.9 1165.5h19.5v12.2h-19.5zM284.9 1165.5h19.5v12.2h-19.5zM318.5 1165.5h5.1v12.2h-5.1zM361.7 1165.5h5.1v12.2h-5.1zM385.7 1165.5h5.1v12.2h-5.1zM404.9 1165.5h5.1v12.2h-5.1zM481.8 1165.5h5.1v12.2h-5.1zM563.4 1165.5h5.1v12.2h-5.1zM688.2 1165.5h5.1v12.2h-5.1zM188.9 1177.4h33.9v12.2h-33.9zM227.3 1177.4h9.9v12.2h-9.9zM256.1 1177.4h5.1v12.2h-5.1zM265.7 1177.4h5.1v12.2h-5.1zM275.3 1177.4h9.9v12.2h-9.9zM294.5 1177.4h14.7v12.2h-14.7zM347.3 1177.4h24.3v12.2h-24.3zM380.9 1177.4h5.1v12.2h-5.1zM419.3 1177.4h5.1v12.2h-5.1zM760.2 1177.4h5.1v12.2h-5.1zM188.9 1189.3h5.1v12.2h-5.1zM208.1 1189.3h5.1v12.2h-5.1zM217.7 1189.3h5.1v12.2h-5.1zM232.1 1189.3h5.1v12.2h-5.1zM241.7 1189.3h5.1v12.2h-5.1zM256.1 1189.3h14.7v12.2h-14.7zM275.3 1189.3h9.9v12.2h-9.9zM294.5 1189.3h14.7v12.2h-14.7zM318.5 1189.3h5.1v12.2h-5.1zM332.9 1189.3h5.1v12.2h-5.1zM342.5 1189.3h5.1v12.2h-5.1zM356.9 1189.3h9.9v12.2h-9.9zM371.3 1189.3h5.1v12.2h-5.1zM395.3 1189.3h14.7v12.2h-14.7zM438.6 1189.3h5.1v12.2h-5.1zM486.6 1189.3h5.1v12.2h-5.1zM688.2 1189.3h5.1v12.2h-5.1zM217.7 1201.3h9.9v12.2h-9.9zM236.9 1201.3h5.1v12.2h-5.1zM265.7 1201.3h29.1v12.2h-29.1zM299.3 1201.3h5.1v12.2h-5.1zM318.5 1201.3h9.9v12.2h-9.9zM332.9 1201.3h5.1v12.2h-5.1zM342.5 1201.3h5.1v12.2h-5.1zM356.9 1201.3h9.9v12.2h-9.9zM371.3 1201.3h9.9v12.2h-9.9zM385.7 1201.3h5.1v12.2h-5.1zM419.3 1201.3h5.1v12.2h-5.1zM438.6 1201.3h5.1v12.2h-5.1zM673.8 1201.3h5.1v12.2h-5.1zM760.2 1201.3h5.1v12.2h-5.1zM217.7 1213.2h5.1v12.2h-5.1zM299.3 1213.2h5.1v12.2h-5.1zM318.5 1213.2h5.1v12.2h-5.1zM328.1 1213.2h5.1v12.2h-5.1zM337.7 1213.2h24.3v12.2h-24.3zM366.5 1213.2h9.9v12.2h-9.9zM390.5 1213.2h5.1v12.2h-5.1zM414.5 1213.2h5.1v12.2h-5.1zM443.4 1213.2h5.1v12.2h-5.1zM188.9 1225.1h5.1v12.2h-5.1zM212.9 1225.1h5.1v12.2h-5.1zM241.7 1225.1h5.1v12.2h-5.1zM265.7 1225.1h5.1v12.2h-5.1zM284.9 1225.1h9.9v12.2h-9.9zM299.3 1225.1h5.1v12.2h-5.1zM318.5 1225.1h5.1v12.2h-5.1zM337.7 1225.1h9.9v12.2h-9.9zM352.1 1225.1h5.1v12.2h-5.1zM376.1 1225.1h5.1v12.2h-5.1zM385.7 1225.1h5.1v12.2h-5.1zM414.5 1225.1h5.1v12.2h-5.1zM664.2 1225.1h5.1v12.2h-5.1zM673.8 1225.1h5.1v12.2h-5.1zM198.5 1237.0h5.1v12.2h-5.1zM208.1 1237.0h5.1v12.2h-5.1zM217.7 1237.0h5.1v12.2h-5.1zM251.3 1237.0h9.9v12.2h-9.9zM270.5 1237.0h9.9v12.2h-9.9zM284.9 1237.0h5.1v12.2h-5.1zM299.3 1237.0h5.1v12.2h-5.1zM313.7 1237.0h5.1v12.2h-5.1zM342.5 1237.0h5.1v12.2h-5.1zM400.1 1237.0h9.9v12.2h-9.9zM203.3 1248.9h9.9v12.2h-9.9zM251.3 1248.9h5.1v12.2h-5.1zM260.9 1248.9h5.1v12.2h-5.1zM318.5 1248.9h5.1v12.2h-5.1zM328.1 1248.9h5.1v12.2h-5.1zM352.1 1248.9h5.1v12.2h-5.1zM491.4 1248.9h5.1v12.2h-5.1zM188.9 1260.8h5.1v12.2h-5.1zM208.1 1260.8h5.1v12.2h-5.1zM260.9 1260.8h5.1v12.2h-5.1zM294.5 1260.8h9.9v12.2h-9.9zM318.5 1260.8h14.7v12.2h-14.7zM390.5 1260.8h5.1v12.2h-5.1zM760.2 1260.8h5.1v12.2h-5.1zM222.5 1272.8h5.1v12.2h-5.1zM236.9 1272.8h5.1v12.2h-5.1zM246.5 1272.8h9.9v12.2h-9.9zM385.7 1272.8h5.1v12.2h-5.1zM424.1 1272.8h5.1v12.2h-5.1zM438.6 1272.8h5.1v12.2h-5.1zM539.4 1272.8h9.9v12.2h-9.9zM553.8 1272.8h5.1v12.2h-5.1zM577.8 1272.8h5.1v12.2h-5.1zM188.9 1284.7h5.1v12.2h-5.1zM217.7 1284.7h5.1v12.2h-5.1zM232.1 1284.7h5.1v12.2h-5.1zM241.7 1284.7h5.1v12.2h-5.1zM251.3 1284.7h5.1v12.2h-5.1zM265.7 1284.7h14.7v12.2h-14.7zM294.5 1284.7h5.1v12.2h-5.1zM356.9 1284.7h9.9v12.2h-9.9zM376.1 1284.7h5.1v12.2h-5.1zM385.7 1284.7h5.1v12.2h-5.1zM395.3 1284.7h5.1v12.2h-5.1zM419.3 1284.7h5.1v12.2h-5.1zM188.9 1296.6h9.9v12.2h-9.9zM208.1 1296.6h5.1v12.2h-5.1zM217.7 1296.6h5.1v12.2h-5.1zM232.1 1296.6h14.7v12.2h-14.7zM251.3 1296.6h9.9v12.2h-9.9zM265.7 1296.6h14.7v12.2h-14.7zM289.7 1296.6h19.5v12.2h-19.5zM376.1 1296.6h24.3v12.2h-24.3zM409.7 1296.6h14.7v12.2h-14.7zM505.8 1296.6h5.1v12.2h-5.1zM553.8 1296.6h9.9v12.2h-9.9zM188.9 1308.5h14.7v12.2h-14.7zM212.9 1308.5h5.1v12.2h-5.1zM227.3 1308.5h5.1v12.2h-5.1zM241.7 1308.5h29.1v12.2h-29.1zM275.3 1308.5h14.7v12.2h-14.7zM308.9 1308.5h29.1v12.2h-29.1zM342.5 1308.5h5.1v12.2h-5.1zM376.1 1308.5h14.7v12.2h-14.7zM404.9 1308.5h14.7v12.2h-14.7zM429.0 1308.5h5.1v12.2h-5.1zM448.2 1308.5h9.9v12.2h-9.9zM563.4 1308.5h5.1v12.2h-5.1zM717.0 1308.5h5.1v12.2h-5.1zM241.7 1320.4h5.1v12.2h-5.1zM260.9 1320.4h5.1v12.2h-5.1zM275.3 1320.4h5.1v12.2h-5.1zM332.9 1320.4h9.9v12.2h-9.9zM352.1 1320.4h5.1v12.2h-5.1zM361.7 1320.4h5.1v12.2h-5.1zM395.3 1320.4h5.1v12.2h-5.1zM453.0 1320.4h5.1v12.2h-5.1zM203.3 1332.3h5.1v12.2h-5.1zM222.5 1332.3h5.1v12.2h-5.1zM241.7 1332.3h5.1v12.2h-5.1zM347.3 1332.3h5.1v12.2h-5.1zM385.7 1332.3h5.1v12.2h-5.1zM443.4 1332.3h9.9v12.2h-9.9zM568.2 1332.3h5.1v12.2h-5.1zM193.7 1344.3h5.1v12.2h-5.1zM203.3 1344.3h5.1v12.2h-5.1zM227.3 1344.3h9.9v12.2h-9.9zM251.3 1344.3h5.1v12.2h-5.1zM260.9 1344.3h5.1v12.2h-5.1zM275.3 1344.3h14.7v12.2h-14.7zM308.9 1344.3h9.9v12.2h-9.9zM366.5 1344.3h5.1v12.2h-5.1zM385.7 1344.3h5.1v12.2h-5.1zM404.9 1344.3h5.1v12.2h-5.1zM424.1 1344.3h5.1v12.2h-5.1zM438.6 1344.3h5.1v12.2h-5.1zM587.4 1344.3h5.1v12.2h-5.1zM664.2 1344.3h9.9v12.2h-9.9zM693.0 1344.3h5.1v12.2h-5.1z"/><path fill="#8e8ec7" d="M400.1 808.0h5.1v12.2h-5.1zM438.6 808.0h9.9v12.2h-9.9zM453.0 808.0h9.9v12.2h-9.9zM486.6 808.0h5.1v12.2h-5.1zM496.2 808.0h5.1v12.2h-5.1zM649.8 808.0h5.1v12.2h-5.1zM669.0 808.0h5.1v12.2h-5.1zM678.6 808.0h5.1v12.2h-5.1zM726.6 808.0h5.1v12.2h-5.1zM409.7 819.9h5.1v12.2h-5.1zM462.6 819.9h5.1v12.2h-5.1zM529.8 819.9h9.9v12.2h-9.9zM544.2 819.9h5.1v12.2h-5.1zM669.0 819.9h5.1v12.2h-5.1zM678.6 819.9h5.1v12.2h-5.1zM688.2 819.9h9.9v12.2h-9.9zM433.8 831.8h5.1v12.2h-5.1zM443.4 831.8h5.1v12.2h-5.1zM467.4 831.8h5.1v12.2h-5.1zM496.2 831.8h5.1v12.2h-5.1zM510.6 831.8h9.9v12.2h-9.9zM534.6 831.8h5.1v12.2h-5.1zM549.0 831.8h5.1v12.2h-5.1zM611.4 831.8h9.9v12.2h-9.9zM630.6 831.8h5.1v12.2h-5.1zM669.0 831.8h5.1v12.2h-5.1zM678.6 831.8h5.1v12.2h-5.1zM291.1 843.8h5.2v12.2h-5.2zM300.9 843.8h5.2v12.2h-5.2zM448.2 843.8h14.7v12.2h-14.7zM472.2 843.8h9.9v12.2h-9.9zM501.0 843.8h14.7v12.2h-14.7zM529.8 843.8h5.1v12.2h-5.1zM539.4 843.8h14.7v12.2h-14.7zM558.6 843.8h5.1v12.2h-5.1zM582.6 843.8h5.1v12.2h-5.1zM601.8 843.8h5.1v12.2h-5.1zM645.0 843.8h9.9v12.2h-9.9zM673.8 843.8h5.1v12.2h-5.1zM755.4 843.8h5.1v12.2h-5.1zM453.0 855.7h5.1v12.2h-5.1zM467.4 855.7h14.7v12.2h-14.7zM486.6 855.7h5.1v12.2h-5.1zM501.0 855.7h29.1v12.2h-29.1zM539.4 855.7h5.1v12.2h-5.1zM549.0 855.7h5.1v12.2h-5.1zM601.8 855.7h19.5v12.2h-19.5zM635.4 855.7h9.9v12.2h-9.9zM673.8 855.7h5.1v12.2h-5.1zM717.0 855.7h5.1v12.2h-5.1zM736.2 855.7h5.1v12.2h-5.1zM755.4 855.7h5.1v12.2h-5.1zM457.8 867.6h5.1v12.2h-5.1zM481.8 867.6h5.1v12.2h-5.1zM496.2 867.6h5.1v12.2h-5.1zM563.4 867.6h9.9v12.2h-9.9zM597.0 867.6h5.1v12.2h-5.1zM606.6 867.6h14.7v12.2h-14.7zM635.4 867.6h5.1v12.2h-5.1zM645.0 867.6h5.1v12.2h-5.1zM673.8 867.6h5.1v12.2h-5.1zM736.2 867.6h5.1v12.2h-5.1zM755.4 867.6h5.1v12.2h-5.1zM212.9 879.5h5.1v12.2h-5.1zM246.5 879.5h5.1v12.2h-5.1zM443.4 879.5h5.1v12.2h-5.1zM462.6 879.5h5.1v12.2h-5.1zM515.4 879.5h5.1v12.2h-5.1zM529.8 879.5h5.1v12.2h-5.1zM539.4 879.5h5.1v12.2h-5.1zM549.0 879.5h5.1v12.2h-5.1zM606.6 879.5h5.1v12.2h-5.1zM635.4 879.5h5.1v12.2h-5.1zM755.4 879.5h5.1v12.2h-5.1zM188.9 891.4h5.1v12.2h-5.1zM251.3 891.4h19.5v12.2h-19.5zM275.3 891.4h9.9v12.2h-9.9zM294.5 891.4h5.1v12.2h-5.1zM352.1 891.4h5.1v12.2h-5.1zM361.7 891.4h9.9v12.2h-9.9zM376.1 891.4h19.5v12.2h-19.5zM721.8 891.4h5.1v12.2h-5.1zM193.7 903.3h5.1v12.2h-5.1zM256.1 903.3h5.1v12.2h-5.1zM332.9 903.3h9.9v12.2h-9.9zM352.1 903.3h5.1v12.2h-5.1zM361.7 903.3h5.1v12.2h-5.1zM371.3 903.3h9.9v12.2h-9.9zM390.5 903.3h5.1v12.2h-5.1zM251.3 915.3h5.1v12.2h-5.1zM352.1 915.3h5.1v12.2h-5.1zM361.7 915.3h5.1v12.2h-5.1zM496.2 915.3h5.1v12.2h-5.1zM505.8 915.3h9.9v12.2h-9.9zM198.5 927.2h5.1v12.2h-5.1zM241.7 927.2h5.1v12.2h-5.1zM256.1 927.2h5.1v12.2h-5.1zM313.7 927.2h5.1v12.2h-5.1zM356.9 927.2h9.9v12.2h-9.9zM371.3 927.2h14.7v12.2h-14.7zM390.5 927.2h9.9v12.2h-9.9zM649.8 927.2h5.1v12.2h-5.1zM208.1 939.1h14.7v12.2h-14.7zM241.7 939.1h5.1v12.2h-5.1zM251.3 939.1h9.9v12.2h-9.9zM414.5 939.1h5.1v12.2h-5.1zM433.8 939.1h5.1v12.2h-5.1zM188.9 951.0h5.1v12.2h-5.1zM198.5 951.0h5.1v12.2h-5.1zM256.1 951.0h5.1v12.2h-5.1zM414.5 951.0h5.1v12.2h-5.1zM433.8 951.0h5.1v12.2h-5.1zM232.1 962.9h9.9v12.2h-9.9zM400.1 962.9h5.1v12.2h-5.1zM433.8 962.9h5.1v12.2h-5.1zM659.4 962.9h5.1v12.2h-5.1zM193.7 974.8h5.1v12.2h-5.1zM203.3 974.8h5.1v12.2h-5.1zM275.3 974.8h5.1v12.2h-5.1zM361.7 974.8h5.1v12.2h-5.1zM400.1 974.8h9.9v12.2h-9.9zM424.1 974.8h5.1v12.2h-5.1zM433.8 974.8h5.1v12.2h-5.1zM664.2 974.8h5.1v12.2h-5.1zM188.9 986.8h5.1v12.2h-5.1zM217.7 986.8h5.1v12.2h-5.1zM227.3 986.8h14.7v12.2h-14.7zM251.3 986.8h9.9v12.2h-9.9zM265.7 986.8h9.9v12.2h-9.9zM294.5 986.8h5.1v12.2h-5.1zM318.5 986.8h24.3v12.2h-24.3zM366.5 986.8h9.9v12.2h-9.9zM592.2 986.8h5.1v12.2h-5.1zM678.6 986.8h5.1v12.2h-5.1zM717.0 986.8h9.9v12.2h-9.9zM736.2 986.8h5.1v12.2h-5.1zM241.7 998.7h5.1v12.2h-5.1zM270.5 998.7h5.1v12.2h-5.1zM294.5 998.7h5.1v12.2h-5.1zM323.3 998.7h9.9v12.2h-9.9zM337.7 998.7h5.1v12.2h-5.1zM352.1 998.7h5.1v12.2h-5.1zM371.3 998.7h5.1v12.2h-5.1zM414.5 998.7h5.1v12.2h-5.1zM188.9 1010.6h5.1v12.2h-5.1zM222.5 1010.6h5.1v12.2h-5.1zM232.1 1010.6h5.1v12.2h-5.1zM256.1 1010.6h5.1v12.2h-5.1zM270.5 1010.6h5.1v12.2h-5.1zM294.5 1010.6h5.1v12.2h-5.1zM395.3 1010.6h5.1v12.2h-5.1zM592.2 1010.6h5.1v12.2h-5.1zM673.8 1010.6h5.1v12.2h-5.1zM217.7 1022.5h9.9v12.2h-9.9zM232.1 1022.5h5.1v12.2h-5.1zM332.9 1022.5h5.1v12.2h-5.1zM404.9 1022.5h19.5v12.2h-19.5zM443.4 1022.5h5.1v12.2h-5.1zM568.2 1022.5h5.1v12.2h-5.1zM664.2 1022.5h5.1v12.2h-5.1zM313.7 1034.4h5.1v12.2h-5.1zM332.9 1034.4h5.1v12.2h-5.1zM371.3 1034.4h5.1v12.2h-5.1zM390.5 1034.4h14.7v12.2h-14.7zM443.4 1034.4h5.1v12.2h-5.1zM501.0 1034.4h5.1v12.2h-5.1zM640.2 1034.4h5.1v12.2h-5.1zM203.3 1046.3h5.1v12.2h-5.1zM222.5 1046.3h5.1v12.2h-5.1zM232.1 1046.3h5.1v12.2h-5.1zM246.5 1046.3h5.1v12.2h-5.1zM260.9 1046.3h9.9v12.2h-9.9zM284.9 1046.3h5.1v12.2h-5.1zM294.5 1046.3h14.7v12.2h-14.7zM313.7 1046.3h5.1v12.2h-5.1zM332.9 1046.3h9.9v12.2h-9.9zM366.5 1046.3h5.1v12.2h-5.1zM505.8 1046.3h9.9v12.2h-9.9zM534.6 1046.3h9.9v12.2h-9.9zM697.8 1046.3h5.1v12.2h-5.1zM232.1 1058.3h5.1v12.2h-5.1zM246.5 1058.3h5.1v12.2h-5.1zM260.9 1058.3h5.1v12.2h-5.1zM270.5 1058.3h5.1v12.2h-5.1zM284.9 1058.3h19.5v12.2h-19.5zM318.5 1058.3h5.1v12.2h-5.1zM424.1 1058.3h5.1v12.2h-5.1zM433.8 1058.3h5.1v12.2h-5.1zM501.0 1058.3h9.9v12.2h-9.9zM697.8 1058.3h5.1v12.2h-5.1zM198.5 1070.2h5.1v12.2h-5.1zM208.1 1070.2h5.1v12.2h-5.1zM227.3 1070.2h9.9v12.2h-9.9zM328.1 1070.2h5.1v12.2h-5.1zM352.1 1070.2h14.7v12.2h-14.7zM385.7 1070.2h5.1v12.2h-5.1zM755.4 1070.2h5.1v12.2h-5.1zM217.7 1082.1h5.1v12.2h-5.1zM241.7 1082.1h5.1v12.2h-5.1zM251.3 1082.1h5.1v12.2h-5.1zM280.1 1082.1h5.1v12.2h-5.1zM380.9 1082.1h14.7v12.2h-14.7zM486.6 1082.1h5.1v12.2h-5.1zM573.0 1082.1h5.1v12.2h-5.1zM625.8 1082.1h5.1v12.2h-5.1zM736.2 1082.1h5.1v12.2h-5.1zM203.3 1094.0h5.1v12.2h-5.1zM270.5 1094.0h9.9v12.2h-9.9zM328.1 1094.0h5.1v12.2h-5.1zM366.5 1094.0h5.1v12.2h-5.1zM404.9 1094.0h5.1v12.2h-5.1zM654.6 1094.0h5.1v12.2h-5.1zM702.6 1094.0h5.1v12.2h-5.1zM188.9 1105.9h9.9v12.2h-9.9zM208.1 1105.9h5.1v12.2h-5.1zM337.7 1105.9h5.1v12.2h-5.1zM347.3 1105.9h5.1v12.2h-5.1zM390.5 1105.9h5.1v12.2h-5.1zM443.4 1105.9h5.1v12.2h-5.1zM188.9 1117.8h9.9v12.2h-9.9zM203.3 1117.8h9.9v12.2h-9.9zM265.7 1117.8h9.9v12.2h-9.9zM294.5 1117.8h9.9v12.2h-9.9zM385.7 1117.8h5.1v12.2h-5.1zM414.5 1117.8h5.1v12.2h-5.1zM443.4 1117.8h5.1v12.2h-5.1zM188.9 1129.8h9.9v12.2h-9.9zM203.3 1129.8h9.9v12.2h-9.9zM227.3 1129.8h5.1v12.2h-5.1zM265.7 1129.8h5.1v12.2h-5.1zM337.7 1129.8h5.1v12.2h-5.1zM347.3 1129.8h5.1v12.2h-5.1zM356.9 1129.8h9.9v12.2h-9.9zM443.4 1129.8h5.1v12.2h-5.1zM481.8 1129.8h5.1v12.2h-5.1zM702.6 1129.8h5.1v12.2h-5.1zM712.2 1129.8h5.1v12.2h-5.1zM726.6 1129.8h5.1v12.2h-5.1zM188.9 1141.7h5.1v12.2h-5.1zM198.5 1141.7h5.1v12.2h-5.1zM208.1 1141.7h5.1v12.2h-5.1zM280.1 1141.7h5.1v12.2h-5.1zM299.3 1141.7h5.1v12.2h-5.1zM332.9 1141.7h14.7v12.2h-14.7zM400.1 1141.7h9.9v12.2h-9.9zM414.5 1141.7h9.9v12.2h-9.9zM438.6 1141.7h5.1v12.2h-5.1zM227.3 1153.6h5.1v12.2h-5.1zM299.3 1153.6h5.1v12.2h-5.1zM332.9 1153.6h5.1v12.2h-5.1zM361.7 1153.6h9.9v12.2h-9.9zM376.1 1153.6h9.9v12.2h-9.9zM419.3 1153.6h5.1v12.2h-5.1zM438.6 1153.6h5.1v12.2h-5.1zM563.4 1153.6h5.1v12.2h-5.1zM717.0 1153.6h5.1v12.2h-5.1zM188.9 1165.5h5.1v12.2h-5.1zM198.5 1165.5h5.1v12.2h-5.1zM241.7 1165.5h5.1v12.2h-5.1zM270.5 1165.5h5.1v12.2h-5.1zM280.1 1165.5h5.1v12.2h-5.1zM380.9 1165.5h5.1v12.2h-5.1zM409.7 1165.5h5.1v12.2h-5.1zM438.6 1165.5h9.9v12.2h-9.9zM597.0 1165.5h5.1v12.2h-5.1zM222.5 1177.4h5.1v12.2h-5.1zM236.9 1177.4h5.1v12.2h-5.1zM251.3 1177.4h5.1v12.2h-5.1zM270.5 1177.4h5.1v12.2h-5.1zM313.7 1177.4h5.1v12.2h-5.1zM332.9 1177.4h9.9v12.2h-9.9zM376.1 1177.4h5.1v12.2h-5.1zM400.1 1177.4h9.9v12.2h-9.9zM429.0 1177.4h5.1v12.2h-5.1zM443.4 1177.4h5.1v12.2h-5.1zM467.4 1177.4h5.1v12.2h-5.1zM193.7 1189.3h5.1v12.2h-5.1zM222.5 1189.3h9.9v12.2h-9.9zM236.9 1189.3h5.1v12.2h-5.1zM251.3 1189.3h5.1v12.2h-5.1zM270.5 1189.3h5.1v12.2h-5.1zM328.1 1189.3h5.1v12.2h-5.1zM337.7 1189.3h5.1v12.2h-5.1zM347.3 1189.3h5.1v12.2h-5.1zM366.5 1189.3h5.1v12.2h-5.1zM380.9 1189.3h14.7v12.2h-14.7zM414.5 1189.3h5.1v12.2h-5.1zM193.7 1201.3h5.1v12.2h-5.1zM232.1 1201.3h5.1v12.2h-5.1zM294.5 1201.3h5.1v12.2h-5.1zM328.1 1201.3h5.1v12.2h-5.1zM337.7 1201.3h5.1v12.2h-5.1zM347.3 1201.3h5.1v12.2h-5.1zM366.5 1201.3h5.1v12.2h-5.1zM380.9 1201.3h5.1v12.2h-5.1zM390.5 1201.3h5.1v12.2h-5.1zM404.9 1201.3h5.1v12.2h-5.1zM414.5 1201.3h5.1v12.2h-5.1zM188.9 1213.2h14.7v12.2h-14.7zM232.1 1213.2h5.1v12.2h-5.1zM361.7 1213.2h5.1v12.2h-5.1zM750.6 1213.2h5.1v12.2h-5.1zM760.2 1213.2h5.1v12.2h-5.1zM203.3 1225.1h9.9v12.2h-9.9zM232.1 1225.1h5.1v12.2h-5.1zM260.9 1225.1h5.1v12.2h-5.1zM270.5 1225.1h5.1v12.2h-5.1zM294.5 1225.1h5.1v12.2h-5.1zM501.0 1225.1h5.1v12.2h-5.1zM741.0 1225.1h5.1v12.2h-5.1zM232.1 1237.0h9.9v12.2h-9.9zM265.7 1237.0h5.1v12.2h-5.1zM332.9 1237.0h5.1v12.2h-5.1zM347.3 1237.0h19.5v12.2h-19.5zM385.7 1237.0h5.1v12.2h-5.1zM438.6 1237.0h9.9v12.2h-9.9zM491.4 1237.0h5.1v12.2h-5.1zM741.0 1237.0h5.1v12.2h-5.1zM193.7 1248.9h5.1v12.2h-5.1zM217.7 1248.9h5.1v12.2h-5.1zM232.1 1248.9h5.1v12.2h-5.1zM284.9 1248.9h5.1v12.2h-5.1zM299.3 1248.9h5.1v12.2h-5.1zM332.9 1248.9h5.1v12.2h-5.1zM342.5 1248.9h5.1v12.2h-5.1zM390.5 1248.9h5.1v12.2h-5.1zM414.5 1248.9h5.1v12.2h-5.1zM697.8 1248.9h5.1v12.2h-5.1zM750.6 1248.9h5.1v12.2h-5.1zM760.2 1248.9h5.1v12.2h-5.1zM193.7 1260.8h5.1v12.2h-5.1zM236.9 1260.8h5.1v12.2h-5.1zM332.9 1260.8h9.9v12.2h-9.9zM376.1 1260.8h5.1v12.2h-5.1zM438.6 1260.8h5.1v12.2h-5.1zM501.0 1260.8h5.1v12.2h-5.1zM693.0 1260.8h5.1v12.2h-5.1zM280.1 1272.8h9.9v12.2h-9.9zM323.3 1272.8h5.1v12.2h-5.1zM376.1 1272.8h5.1v12.2h-5.1zM587.4 1272.8h5.1v12.2h-5.1zM693.0 1272.8h5.1v12.2h-5.1zM193.7 1284.7h24.3v12.2h-24.3zM227.3 1284.7h5.1v12.2h-5.1zM246.5 1284.7h5.1v12.2h-5.1zM308.9 1284.7h5.1v12.2h-5.1zM347.3 1284.7h5.1v12.2h-5.1zM366.5 1284.7h5.1v12.2h-5.1zM390.5 1284.7h5.1v12.2h-5.1zM409.7 1284.7h5.1v12.2h-5.1zM697.8 1284.7h5.1v12.2h-5.1zM198.5 1296.6h9.9v12.2h-9.9zM212.9 1296.6h5.1v12.2h-5.1zM227.3 1296.6h5.1v12.2h-5.1zM246.5 1296.6h5.1v12.2h-5.1zM280.1 1296.6h5.1v12.2h-5.1zM549.0 1296.6h5.1v12.2h-5.1zM270.5 1308.5h5.1v12.2h-5.1zM395.3 1308.5h5.1v12.2h-5.1zM419.3 1308.5h5.1v12.2h-5.1zM438.6 1308.5h5.1v12.2h-5.1zM568.2 1308.5h5.1v12.2h-5.1zM760.2 1308.5h5.1v12.2h-5.1zM208.1 1320.4h5.1v12.2h-5.1zM313.7 1320.4h5.1v12.2h-5.1zM328.1 1320.4h5.1v12.2h-5.1zM400.1 1320.4h5.1v12.2h-5.1zM433.8 1320.4h5.1v12.2h-5.1zM563.4 1320.4h5.1v12.2h-5.1zM188.9 1332.3h5.1v12.2h-5.1zM208.1 1332.3h5.1v12.2h-5.1zM217.7 1332.3h5.1v12.2h-5.1zM246.5 1332.3h5.1v12.2h-5.1zM260.9 1332.3h14.7v12.2h-14.7zM280.1 1332.3h5.1v12.2h-5.1zM294.5 1332.3h5.1v12.2h-5.1zM366.5 1332.3h5.1v12.2h-5.1zM414.5 1332.3h5.1v12.2h-5.1zM577.8 1332.3h5.1v12.2h-5.1zM188.9 1344.3h5.1v12.2h-5.1zM212.9 1344.3h5.1v12.2h-5.1zM241.7 1344.3h5.1v12.2h-5.1zM342.5 1344.3h5.1v12.2h-5.1zM371.3 1344.3h9.9v12.2h-9.9zM414.5 1344.3h5.1v12.2h-5.1zM568.2 1344.3h5.1v12.2h-5.1zM712.2 1344.3h5.1v12.2h-5.1z"/><path fill="#5050a8" d="M448.2 808.0h5.1v12.2h-5.1zM592.2 808.0h9.9v12.2h-9.9zM640.2 808.0h5.1v12.2h-5.1zM592.2 819.9h9.9v12.2h-9.9zM630.6 819.9h5.1v12.2h-5.1zM664.2 819.9h5.1v12.2h-5.1zM366.5 831.8h5.1v12.2h-5.1zM486.6 831.8h5.1v12.2h-5.1zM592.2 831.8h9.9v12.2h-9.9zM664.2 831.8h5.1v12.2h-5.1zM429.0 843.8h5.1v12.2h-5.1zM520.2 843.8h9.9v12.2h-9.9zM438.6 867.6h5.1v12.2h-5.1zM448.2 867.6h5.1v12.2h-5.1zM592.2 867.6h5.1v12.2h-5.1zM601.8 867.6h5.1v12.2h-5.1zM227.3 879.5h5.1v12.2h-5.1zM472.2 879.5h5.1v12.2h-5.1zM525.0 879.5h5.1v12.2h-5.1zM592.2 879.5h14.7v12.2h-14.7zM217.7 891.4h5.1v12.2h-5.1zM227.3 891.4h5.1v12.2h-5.1zM400.1 891.4h5.1v12.2h-5.1zM380.9 903.3h9.9v12.2h-9.9zM400.1 903.3h5.1v12.2h-5.1zM337.7 915.3h5.1v12.2h-5.1zM380.9 915.3h14.7v12.2h-14.7zM400.1 915.3h5.1v12.2h-5.1zM193.7 927.2h5.1v12.2h-5.1zM332.9 927.2h9.9v12.2h-9.9zM352.1 927.2h5.1v12.2h-5.1zM385.7 927.2h5.1v12.2h-5.1zM193.7 939.1h5.1v12.2h-5.1zM429.0 939.1h5.1v12.2h-5.1zM414.5 962.9h5.1v12.2h-5.1zM429.0 962.9h5.1v12.2h-5.1zM414.5 974.8h5.1v12.2h-5.1zM429.0 974.8h5.1v12.2h-5.1zM212.9 986.8h5.1v12.2h-5.1zM222.5 986.8h5.1v12.2h-5.1zM352.1 986.8h5.1v12.2h-5.1zM212.9 998.7h19.5v12.2h-19.5zM678.6 998.7h5.1v12.2h-5.1zM212.9 1010.6h9.9v12.2h-9.9zM227.3 1010.6h5.1v12.2h-5.1zM332.9 1010.6h5.1v12.2h-5.1zM227.3 1022.5h5.1v12.2h-5.1zM246.5 1022.5h19.5v12.2h-19.5zM313.7 1022.5h5.1v12.2h-5.1zM371.3 1022.5h5.1v12.2h-5.1zM395.3 1022.5h9.9v12.2h-9.9zM501.0 1022.5h5.1v12.2h-5.1zM361.7 1034.4h5.1v12.2h-5.1zM645.0 1034.4h9.9v12.2h-9.9zM419.3 1046.3h5.1v12.2h-5.1zM332.9 1058.3h9.9v12.2h-9.9zM366.5 1058.3h5.1v12.2h-5.1zM419.3 1058.3h5.1v12.2h-5.1zM491.4 1058.3h5.1v12.2h-5.1zM520.2 1058.3h5.1v12.2h-5.1zM534.6 1058.3h5.1v12.2h-5.1zM222.5 1070.2h5.1v12.2h-5.1zM188.9 1082.1h5.1v12.2h-5.1zM203.3 1082.1h5.1v12.2h-5.1zM256.1 1082.1h9.9v12.2h-9.9zM275.3 1082.1h5.1v12.2h-5.1zM419.3 1082.1h5.1v12.2h-5.1zM510.6 1082.1h5.1v12.2h-5.1zM308.9 1094.0h5.1v12.2h-5.1zM318.5 1094.0h9.9v12.2h-9.9zM337.7 1094.0h5.1v12.2h-5.1zM371.3 1094.0h5.1v12.2h-5.1zM332.9 1129.8h5.1v12.2h-5.1zM438.6 1129.8h5.1v12.2h-5.1zM443.4 1153.6h5.1v12.2h-5.1zM203.3 1165.5h5.1v12.2h-5.1zM419.3 1165.5h5.1v12.2h-5.1zM486.6 1165.5h5.1v12.2h-5.1zM227.3 1213.2h5.1v12.2h-5.1zM270.5 1213.2h5.1v12.2h-5.1zM289.7 1213.2h9.9v12.2h-9.9zM385.7 1213.2h5.1v12.2h-5.1zM193.7 1225.1h9.9v12.2h-9.9zM332.9 1225.1h5.1v12.2h-5.1zM347.3 1225.1h5.1v12.2h-5.1zM356.9 1225.1h9.9v12.2h-9.9zM323.3 1237.0h5.1v12.2h-5.1zM236.9 1248.9h5.1v12.2h-5.1zM265.7 1248.9h5.1v12.2h-5.1zM385.7 1248.9h5.1v12.2h-5.1zM438.6 1248.9h5.1v12.2h-5.1zM342.5 1260.8h5.1v12.2h-5.1zM414.5 1272.8h9.9v12.2h-9.9zM208.1 1308.5h5.1v12.2h-5.1zM188.9 1320.4h5.1v12.2h-5.1zM203.3 1320.4h5.1v12.2h-5.1zM246.5 1320.4h5.1v12.2h-5.1zM265.7 1320.4h9.9v12.2h-9.9zM236.9 1332.3h5.1v12.2h-5.1zM342.5 1332.3h5.1v12.2h-5.1zM438.6 1332.3h5.1v12.2h-5.1zM515.4 1332.3h5.1v12.2h-5.1zM208.1 1344.3h5.1v12.2h-5.1zM352.1 1344.3h5.1v12.2h-5.1zM400.1 1344.3h5.1v12.2h-5.1zM577.8 1344.3h5.1v12.2h-5.1z"/><path fill="#000080" d="M544.2 808.0h5.1v12.2h-5.1zM630.6 808.0h5.1v12.2h-5.1zM438.6 831.8h5.1v12.2h-5.1zM429.0 855.7h5.1v12.2h-5.1zM481.8 879.5h9.9v12.2h-9.9zM236.9 915.3h9.9v12.2h-9.9zM429.0 951.0h5.1v12.2h-5.1zM188.9 1022.5h5.1v12.2h-5.1zM328.1 1022.5h5.1v12.2h-5.1zM630.6 1034.4h5.1v12.2h-5.1zM193.7 1082.1h5.1v12.2h-5.1zM366.5 1082.1h5.1v12.2h-5.1zM332.9 1117.8h5.1v12.2h-5.1zM597.0 1141.7h5.1v12.2h-5.1zM597.0 1153.6h5.1v12.2h-5.1zM203.3 1213.2h9.9v12.2h-9.9zM380.9 1225.1h5.1v12.2h-5.1zM414.5 1260.8h9.9v12.2h-9.9zM284.9 1296.6h5.1v12.2h-5.1z"/></g><defs><linearGradient id="ck" x1="0" y1="0" x2="0" y2="1"><stop offset="0" stop-color="#f00"/><stop offset="0.2569" stop-color="#f00"/><stop offset="0.5" stop-color="#fff"/><stop offset="0.7431" stop-color="#000080"/><stop offset="1" stop-color="#000080"/></linearGradient></defs><rect x="775.9" y="809.9" width="32.1" height="477.8" fill="url(#ck)"/><text transform="translate(814.07 857.38) scale(0.97 1)" font-size="27">6</text><text transform="translate(814.80 924.02) scale(0.97 1)" font-size="27">4</text><text transform="translate(814.08 990.66) scale(0.97 1)" font-size="27">2</text><text transform="translate(814.38 1057.30) scale(0.97 1)" font-size="27">0</text><text transform="translate(814.11 1123.94) scale(0.97 1)" font-size="27">−2</text><text transform="translate(814.11 1190.58) scale(0.97 1)" font-size="27">−4</text><text transform="translate(814.11 1257.22) scale(0.97 1)" font-size="27">−6</text></svg></body></html>
